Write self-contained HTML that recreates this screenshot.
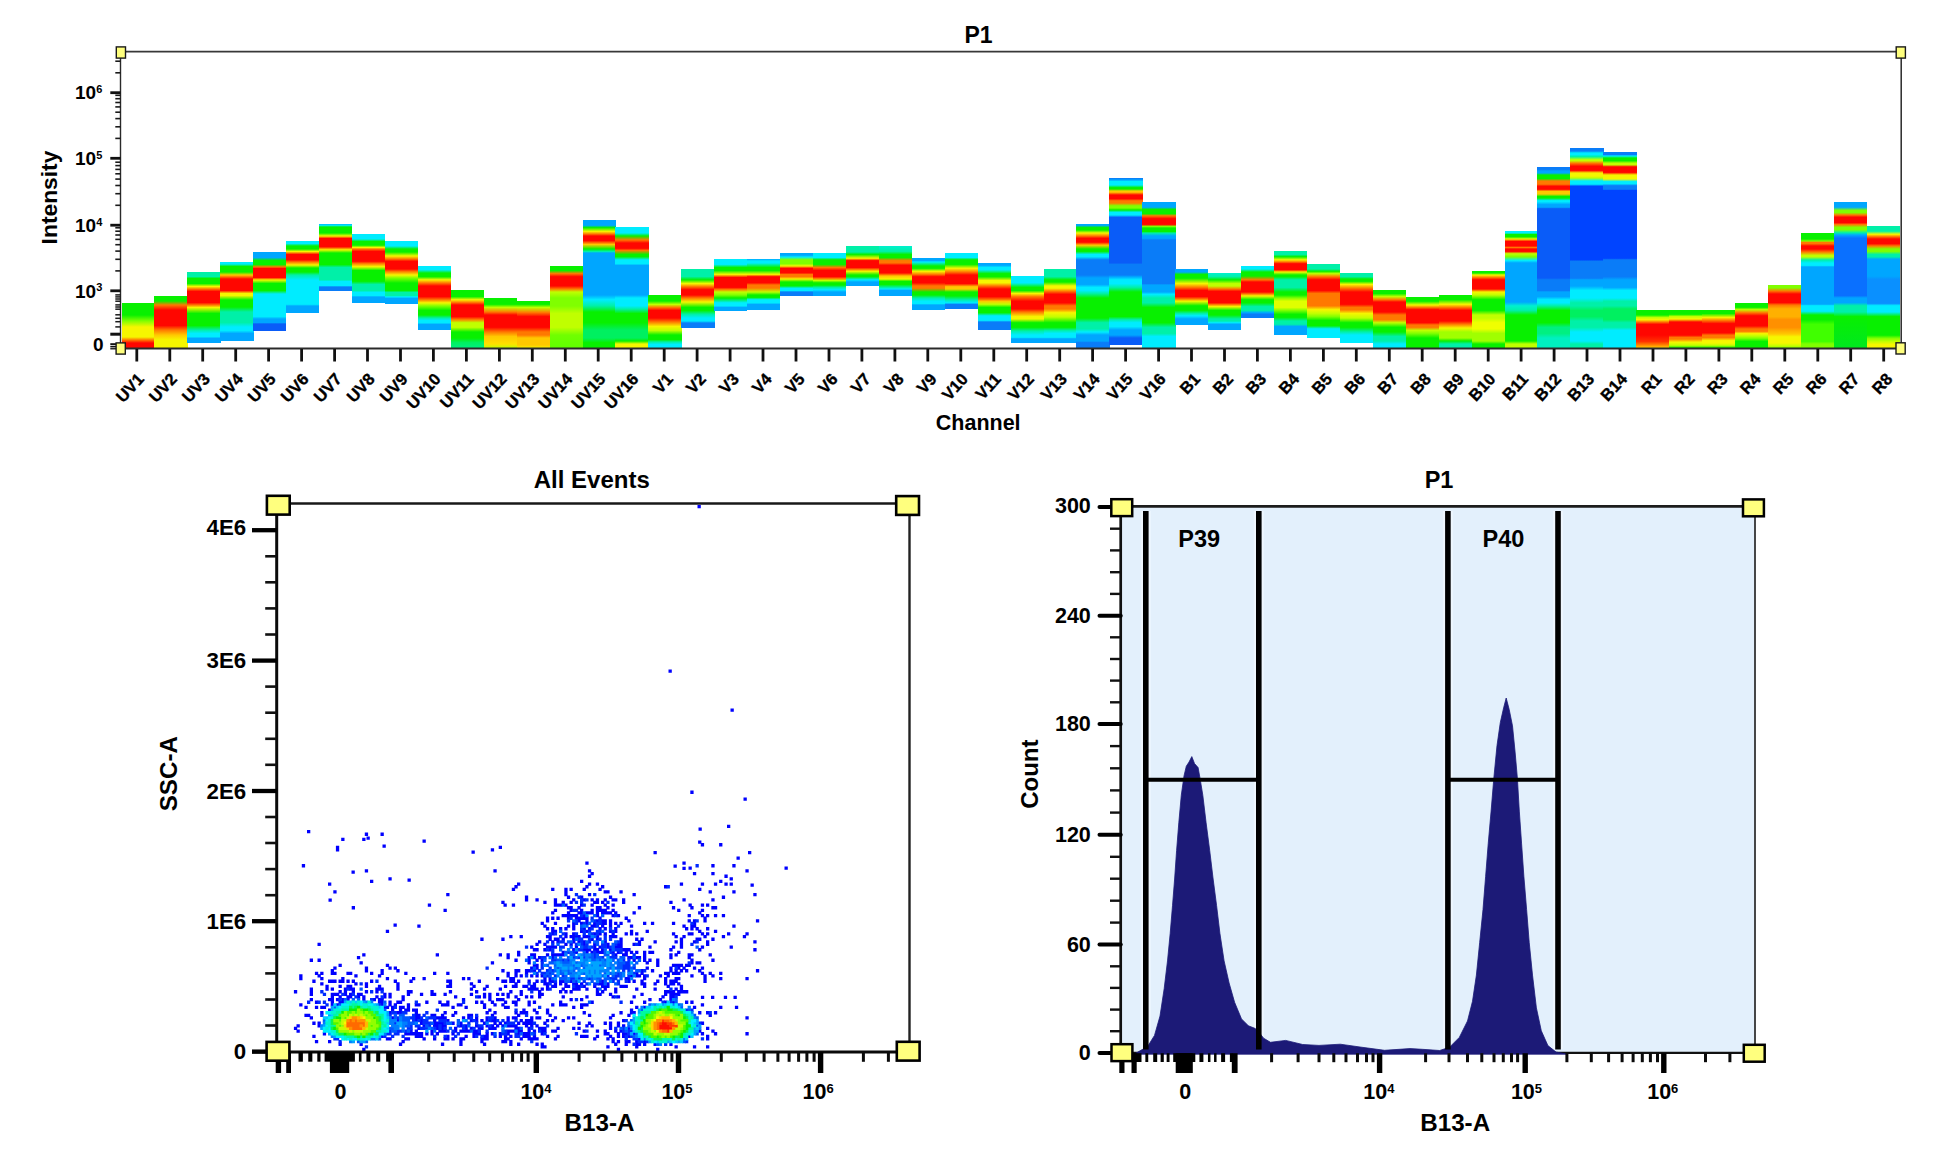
<!DOCTYPE html>
<html lang="en"><head><meta charset="utf-8"><title>Flow cytometry plots</title>
<style>html,body{margin:0;padding:0;background:#fff}body{width:1956px;height:1160px;overflow:hidden}</style></head>
<body>
<svg width="1956" height="1160" viewBox="0 0 1956 1160" style="display:block;font-family:'Liberation Sans',Arial,sans-serif;font-weight:bold">
<rect width="1956" height="1160" fill="#fff"/>
<defs>
<linearGradient id="g0" gradientUnits="userSpaceOnUse" x1="0" y1="302.8" x2="0" y2="348"><stop offset="0.0000" stop-color="#08f000"/><stop offset="0.2699" stop-color="#08f000"/><stop offset="0.4027" stop-color="#80ff00"/><stop offset="0.5354" stop-color="#f6f600"/><stop offset="0.7566" stop-color="#f6f600"/><stop offset="0.8230" stop-color="#ff7800"/><stop offset="0.8894" stop-color="#ff0600"/><stop offset="1.0000" stop-color="#ff0600"/></linearGradient>
<linearGradient id="g1" gradientUnits="userSpaceOnUse" x1="0" y1="295.9" x2="0" y2="348"><stop offset="0.0000" stop-color="#08f000"/><stop offset="0.0979" stop-color="#08f000"/><stop offset="0.1747" stop-color="#ff7800"/><stop offset="0.2706" stop-color="#ff0600"/><stop offset="0.5681" stop-color="#ff0600"/><stop offset="0.6545" stop-color="#ff7800"/><stop offset="0.7505" stop-color="#ffc800"/><stop offset="0.8464" stop-color="#f6f600"/><stop offset="1.0000" stop-color="#f6f600"/></linearGradient>
<linearGradient id="g2" gradientUnits="userSpaceOnUse" x1="0" y1="272.4" x2="0" y2="343.4"><stop offset="0.0000" stop-color="#00f0a8"/><stop offset="0.0577" stop-color="#00f0a8"/><stop offset="0.0859" stop-color="#08f000"/><stop offset="0.1563" stop-color="#08f000"/><stop offset="0.1986" stop-color="#f6f600"/><stop offset="0.2338" stop-color="#ff7800"/><stop offset="0.2690" stop-color="#ff0600"/><stop offset="0.4239" stop-color="#ff0600"/><stop offset="0.4592" stop-color="#ff7800"/><stop offset="0.4944" stop-color="#f6f600"/><stop offset="0.5789" stop-color="#08f000"/><stop offset="0.7479" stop-color="#08f000"/><stop offset="0.8113" stop-color="#00f0a8"/><stop offset="0.8606" stop-color="#00ecff"/><stop offset="0.9028" stop-color="#00ecff"/><stop offset="0.9310" stop-color="#00a6ff"/><stop offset="1.0000" stop-color="#00a6ff"/></linearGradient>
<linearGradient id="g3" gradientUnits="userSpaceOnUse" x1="0" y1="262" x2="0" y2="341"><stop offset="0.0000" stop-color="#00ecff"/><stop offset="0.0253" stop-color="#00ecff"/><stop offset="0.0570" stop-color="#08f000"/><stop offset="0.1266" stop-color="#08f000"/><stop offset="0.1646" stop-color="#ffc800"/><stop offset="0.2152" stop-color="#ff0600"/><stop offset="0.3608" stop-color="#ff0600"/><stop offset="0.3987" stop-color="#f6f600"/><stop offset="0.4241" stop-color="#f6f600"/><stop offset="0.4810" stop-color="#08f000"/><stop offset="0.5696" stop-color="#08f000"/><stop offset="0.6329" stop-color="#00f0a8"/><stop offset="0.7658" stop-color="#00f0a8"/><stop offset="0.8228" stop-color="#00ecff"/><stop offset="0.8671" stop-color="#00ecff"/><stop offset="0.9051" stop-color="#00a6ff"/><stop offset="1.0000" stop-color="#00a6ff"/></linearGradient>
<linearGradient id="g4" gradientUnits="userSpaceOnUse" x1="0" y1="252" x2="0" y2="331"><stop offset="0.0000" stop-color="#00a6ff"/><stop offset="0.0696" stop-color="#00a6ff"/><stop offset="0.1076" stop-color="#08f000"/><stop offset="0.1582" stop-color="#08f000"/><stop offset="0.1899" stop-color="#ff7800"/><stop offset="0.2089" stop-color="#ff0600"/><stop offset="0.3228" stop-color="#ff0600"/><stop offset="0.3544" stop-color="#f6f600"/><stop offset="0.3987" stop-color="#08f000"/><stop offset="0.4873" stop-color="#08f000"/><stop offset="0.5316" stop-color="#00ecff"/><stop offset="0.8165" stop-color="#00ecff"/><stop offset="0.8481" stop-color="#00a6ff"/><stop offset="0.8924" stop-color="#00a6ff"/><stop offset="0.9114" stop-color="#0a5cf8"/><stop offset="1.0000" stop-color="#0a5cf8"/></linearGradient>
<linearGradient id="g5" gradientUnits="userSpaceOnUse" x1="0" y1="240.6" x2="0" y2="312.7"><stop offset="0.0000" stop-color="#00ecff"/><stop offset="0.0402" stop-color="#00ecff"/><stop offset="0.0749" stop-color="#08f000"/><stop offset="0.1165" stop-color="#08f000"/><stop offset="0.1512" stop-color="#f6f600"/><stop offset="0.1928" stop-color="#ff0600"/><stop offset="0.2663" stop-color="#ff0600"/><stop offset="0.2968" stop-color="#ff7800"/><stop offset="0.3384" stop-color="#f6f600"/><stop offset="0.3800" stop-color="#08f000"/><stop offset="0.4355" stop-color="#08f000"/><stop offset="0.4771" stop-color="#00f0a8"/><stop offset="0.5465" stop-color="#00ecff"/><stop offset="0.8835" stop-color="#00ecff"/><stop offset="0.9071" stop-color="#00a6ff"/><stop offset="1.0000" stop-color="#00a6ff"/></linearGradient>
<linearGradient id="g6" gradientUnits="userSpaceOnUse" x1="0" y1="223.8" x2="0" y2="290.5"><stop offset="0.0000" stop-color="#00a6ff"/><stop offset="0.0225" stop-color="#00ecff"/><stop offset="0.0480" stop-color="#08f000"/><stop offset="0.1379" stop-color="#08f000"/><stop offset="0.1829" stop-color="#f6f600"/><stop offset="0.2204" stop-color="#ff0600"/><stop offset="0.3448" stop-color="#ff0600"/><stop offset="0.3898" stop-color="#f6f600"/><stop offset="0.4378" stop-color="#08f000"/><stop offset="0.6102" stop-color="#08f000"/><stop offset="0.6552" stop-color="#00f0a8"/><stop offset="0.8396" stop-color="#00f0a8"/><stop offset="0.8651" stop-color="#00ecff"/><stop offset="0.9250" stop-color="#00ecff"/><stop offset="0.9475" stop-color="#0a7cf8"/><stop offset="1.0000" stop-color="#0a7cf8"/></linearGradient>
<linearGradient id="g7" gradientUnits="userSpaceOnUse" x1="0" y1="234" x2="0" y2="302.8"><stop offset="0.0000" stop-color="#00ecff"/><stop offset="0.0727" stop-color="#00ecff"/><stop offset="0.1090" stop-color="#08f000"/><stop offset="0.1628" stop-color="#08f000"/><stop offset="0.1962" stop-color="#f6f600"/><stop offset="0.2180" stop-color="#ff7800"/><stop offset="0.2544" stop-color="#ff0600"/><stop offset="0.3968" stop-color="#ff0600"/><stop offset="0.4288" stop-color="#ff7800"/><stop offset="0.4753" stop-color="#f6f600"/><stop offset="0.5305" stop-color="#08f000"/><stop offset="0.6875" stop-color="#08f000"/><stop offset="0.7340" stop-color="#00f0a8"/><stop offset="0.8212" stop-color="#00f0a8"/><stop offset="0.8503" stop-color="#00ecff"/><stop offset="0.8939" stop-color="#00ecff"/><stop offset="0.9157" stop-color="#00a6ff"/><stop offset="1.0000" stop-color="#00a6ff"/></linearGradient>
<linearGradient id="g8" gradientUnits="userSpaceOnUse" x1="0" y1="240.6" x2="0" y2="304.3"><stop offset="0.0000" stop-color="#00ecff"/><stop offset="0.0848" stop-color="#00ecff"/><stop offset="0.1319" stop-color="#08f000"/><stop offset="0.1790" stop-color="#08f000"/><stop offset="0.2418" stop-color="#f6f600"/><stop offset="0.2889" stop-color="#ff7800"/><stop offset="0.3250" stop-color="#ff0600"/><stop offset="0.4458" stop-color="#ff0600"/><stop offset="0.4851" stop-color="#ff7800"/><stop offset="0.5400" stop-color="#f6f600"/><stop offset="0.5871" stop-color="#80ff00"/><stop offset="0.6656" stop-color="#08f000"/><stop offset="0.7834" stop-color="#08f000"/><stop offset="0.8148" stop-color="#00f0a8"/><stop offset="0.8619" stop-color="#00f0a8"/><stop offset="0.8823" stop-color="#00ecff"/><stop offset="0.9089" stop-color="#00a6ff"/><stop offset="1.0000" stop-color="#00a6ff"/></linearGradient>
<linearGradient id="g9" gradientUnits="userSpaceOnUse" x1="0" y1="266" x2="0" y2="329.6"><stop offset="0.0000" stop-color="#00ecff"/><stop offset="0.0597" stop-color="#00ecff"/><stop offset="0.1101" stop-color="#08f000"/><stop offset="0.1682" stop-color="#08f000"/><stop offset="0.2170" stop-color="#f6f600"/><stop offset="0.2673" stop-color="#ff7800"/><stop offset="0.3145" stop-color="#ff0600"/><stop offset="0.4811" stop-color="#ff0600"/><stop offset="0.5299" stop-color="#ff7800"/><stop offset="0.5786" stop-color="#f6f600"/><stop offset="0.6289" stop-color="#80ff00"/><stop offset="0.6981" stop-color="#08f000"/><stop offset="0.7704" stop-color="#08f000"/><stop offset="0.8176" stop-color="#00f0a8"/><stop offset="0.8569" stop-color="#00ecff"/><stop offset="0.8915" stop-color="#00ecff"/><stop offset="0.9198" stop-color="#00a6ff"/><stop offset="1.0000" stop-color="#00a6ff"/></linearGradient>
<linearGradient id="g10" gradientUnits="userSpaceOnUse" x1="0" y1="289.7" x2="0" y2="348"><stop offset="0.0000" stop-color="#08f000"/><stop offset="0.1184" stop-color="#08f000"/><stop offset="0.1715" stop-color="#f6f600"/><stop offset="0.2196" stop-color="#ff7800"/><stop offset="0.2624" stop-color="#ff0600"/><stop offset="0.4614" stop-color="#ff0600"/><stop offset="0.5111" stop-color="#ff7800"/><stop offset="0.5660" stop-color="#c0ff00"/><stop offset="0.6449" stop-color="#c0ff00"/><stop offset="0.7256" stop-color="#08f000"/><stop offset="0.8285" stop-color="#08f000"/><stop offset="0.9057" stop-color="#00f060"/><stop offset="1.0000" stop-color="#00f080"/></linearGradient>
<linearGradient id="g11" gradientUnits="userSpaceOnUse" x1="0" y1="297.9" x2="0" y2="348"><stop offset="0.0000" stop-color="#08f000"/><stop offset="0.1277" stop-color="#08f000"/><stop offset="0.1896" stop-color="#c0ff00"/><stop offset="0.2814" stop-color="#ff7800"/><stop offset="0.3413" stop-color="#ff0600"/><stop offset="0.5868" stop-color="#ff0600"/><stop offset="0.6806" stop-color="#ff7800"/><stop offset="0.7705" stop-color="#ffc800"/><stop offset="0.9202" stop-color="#ffe000"/><stop offset="1.0000" stop-color="#c0ff00"/></linearGradient>
<linearGradient id="g12" gradientUnits="userSpaceOnUse" x1="0" y1="301.2" x2="0" y2="348"><stop offset="0.0000" stop-color="#08f000"/><stop offset="0.0662" stop-color="#08f000"/><stop offset="0.1346" stop-color="#c0ff00"/><stop offset="0.2415" stop-color="#ff7800"/><stop offset="0.3291" stop-color="#ff0600"/><stop offset="0.5577" stop-color="#ff0600"/><stop offset="0.6581" stop-color="#ff7800"/><stop offset="0.7222" stop-color="#ff7800"/><stop offset="0.7863" stop-color="#ffc800"/><stop offset="0.9359" stop-color="#ffc800"/><stop offset="1.0000" stop-color="#f6f600"/></linearGradient>
<linearGradient id="g13" gradientUnits="userSpaceOnUse" x1="0" y1="266" x2="0" y2="348"><stop offset="0.0000" stop-color="#08f000"/><stop offset="0.0549" stop-color="#08f000"/><stop offset="0.0927" stop-color="#ff7800"/><stop offset="0.1305" stop-color="#ff0600"/><stop offset="0.2427" stop-color="#ff0600"/><stop offset="0.2805" stop-color="#ff7800"/><stop offset="0.3171" stop-color="#c0ff00"/><stop offset="0.3902" stop-color="#80ff00"/><stop offset="0.4878" stop-color="#80ff00"/><stop offset="0.5793" stop-color="#c0ff00"/><stop offset="0.7476" stop-color="#c0ff00"/><stop offset="0.8415" stop-color="#70ff00"/><stop offset="1.0000" stop-color="#60ff00"/></linearGradient>
<linearGradient id="g14" gradientUnits="userSpaceOnUse" x1="0" y1="220.4" x2="0" y2="348"><stop offset="0.0000" stop-color="#00a6ff"/><stop offset="0.0384" stop-color="#00a6ff"/><stop offset="0.0564" stop-color="#08f000"/><stop offset="0.0862" stop-color="#f6f600"/><stop offset="0.1066" stop-color="#ff7800"/><stop offset="0.1223" stop-color="#ff0600"/><stop offset="0.1583" stop-color="#ff0600"/><stop offset="0.1889" stop-color="#ffc800"/><stop offset="0.2241" stop-color="#08f000"/><stop offset="0.2437" stop-color="#00f0a8"/><stop offset="0.2555" stop-color="#00a6ff"/><stop offset="0.5846" stop-color="#00a6ff"/><stop offset="0.6215" stop-color="#00ecff"/><stop offset="0.6693" stop-color="#00f0a8"/><stop offset="0.7179" stop-color="#08f000"/><stop offset="0.8017" stop-color="#08f000"/><stop offset="0.8589" stop-color="#00f060"/><stop offset="0.9216" stop-color="#00f060"/><stop offset="0.9577" stop-color="#08f000"/><stop offset="1.0000" stop-color="#08f000"/></linearGradient>
<linearGradient id="g15" gradientUnits="userSpaceOnUse" x1="0" y1="227.3" x2="0" y2="348"><stop offset="0.0000" stop-color="#00ecff"/><stop offset="0.0472" stop-color="#00ecff"/><stop offset="0.0721" stop-color="#08f000"/><stop offset="0.1052" stop-color="#ff7800"/><stop offset="0.1301" stop-color="#ff0600"/><stop offset="0.1740" stop-color="#ff0600"/><stop offset="0.1922" stop-color="#ff7800"/><stop offset="0.2245" stop-color="#08f000"/><stop offset="0.2436" stop-color="#08f000"/><stop offset="0.2693" stop-color="#00ecff"/><stop offset="0.3016" stop-color="#00ecff"/><stop offset="0.3165" stop-color="#00a6ff"/><stop offset="0.5609" stop-color="#00a6ff"/><stop offset="0.5857" stop-color="#00ecff"/><stop offset="0.6504" stop-color="#00ecff"/><stop offset="0.6769" stop-color="#00f0a8"/><stop offset="0.7142" stop-color="#08f000"/><stop offset="0.7904" stop-color="#08f000"/><stop offset="0.8509" stop-color="#00f060"/><stop offset="0.9171" stop-color="#00f060"/><stop offset="0.9420" stop-color="#08f000"/><stop offset="0.9669" stop-color="#f6f600"/><stop offset="1.0000" stop-color="#f6f600"/></linearGradient>
<linearGradient id="g16" gradientUnits="userSpaceOnUse" x1="0" y1="294.8" x2="0" y2="348"><stop offset="0.0000" stop-color="#08f000"/><stop offset="0.1165" stop-color="#08f000"/><stop offset="0.1823" stop-color="#c0ff00"/><stop offset="0.2368" stop-color="#ff7800"/><stop offset="0.2932" stop-color="#ff0600"/><stop offset="0.4361" stop-color="#ff0600"/><stop offset="0.5113" stop-color="#ff7800"/><stop offset="0.5959" stop-color="#f6f600"/><stop offset="0.6711" stop-color="#c0ff00"/><stop offset="0.7556" stop-color="#08f000"/><stop offset="0.8421" stop-color="#08f000"/><stop offset="0.8872" stop-color="#00f0a8"/><stop offset="0.9342" stop-color="#00ecff"/><stop offset="1.0000" stop-color="#00ecff"/></linearGradient>
<linearGradient id="g17" gradientUnits="userSpaceOnUse" x1="0" y1="269.3" x2="0" y2="328"><stop offset="0.0000" stop-color="#00f0a8"/><stop offset="0.1227" stop-color="#00f0a8"/><stop offset="0.1789" stop-color="#08f000"/><stop offset="0.2436" stop-color="#f6f600"/><stop offset="0.2947" stop-color="#ff7800"/><stop offset="0.3475" stop-color="#ff0600"/><stop offset="0.4378" stop-color="#ff0600"/><stop offset="0.4889" stop-color="#ff7800"/><stop offset="0.5571" stop-color="#f6f600"/><stop offset="0.6491" stop-color="#08f000"/><stop offset="0.7002" stop-color="#08f000"/><stop offset="0.7666" stop-color="#00f0a8"/><stop offset="0.8296" stop-color="#00ecff"/><stop offset="0.8807" stop-color="#00ecff"/><stop offset="0.9148" stop-color="#0a7cf8"/><stop offset="1.0000" stop-color="#0a7cf8"/></linearGradient>
<linearGradient id="g18" gradientUnits="userSpaceOnUse" x1="0" y1="259" x2="0" y2="311.2"><stop offset="0.0000" stop-color="#00ecff"/><stop offset="0.1034" stop-color="#00ecff"/><stop offset="0.1628" stop-color="#08f000"/><stop offset="0.2203" stop-color="#08f000"/><stop offset="0.2950" stop-color="#f6f600"/><stop offset="0.3544" stop-color="#ff0600"/><stop offset="0.5441" stop-color="#ff0600"/><stop offset="0.5843" stop-color="#ff7800"/><stop offset="0.6322" stop-color="#c0ff00"/><stop offset="0.6897" stop-color="#80ff00"/><stop offset="0.7471" stop-color="#08f000"/><stop offset="0.8391" stop-color="#00ecff"/><stop offset="0.8966" stop-color="#00ecff"/><stop offset="0.9291" stop-color="#00a6ff"/><stop offset="1.0000" stop-color="#00a6ff"/></linearGradient>
<linearGradient id="g19" gradientUnits="userSpaceOnUse" x1="0" y1="259" x2="0" y2="309.7"><stop offset="0.0000" stop-color="#00a6ff"/><stop offset="0.0394" stop-color="#00ecff"/><stop offset="0.0789" stop-color="#00ecff"/><stop offset="0.1085" stop-color="#00f0a8"/><stop offset="0.1677" stop-color="#08f000"/><stop offset="0.2268" stop-color="#08f000"/><stop offset="0.3037" stop-color="#f6f600"/><stop offset="0.3491" stop-color="#ff0600"/><stop offset="0.4694" stop-color="#ff0600"/><stop offset="0.5128" stop-color="#ff7800"/><stop offset="0.5720" stop-color="#ff7800"/><stop offset="0.6509" stop-color="#c0ff00"/><stop offset="0.7101" stop-color="#08f000"/><stop offset="0.7574" stop-color="#08f000"/><stop offset="0.8028" stop-color="#00ecff"/><stop offset="0.8639" stop-color="#00ecff"/><stop offset="0.8974" stop-color="#00a6ff"/><stop offset="1.0000" stop-color="#00a6ff"/></linearGradient>
<linearGradient id="g20" gradientUnits="userSpaceOnUse" x1="0" y1="252.5" x2="0" y2="295.9"><stop offset="0.0000" stop-color="#00a6ff"/><stop offset="0.0622" stop-color="#00a6ff"/><stop offset="0.1037" stop-color="#00ecff"/><stop offset="0.1682" stop-color="#80ff00"/><stop offset="0.2581" stop-color="#80ff00"/><stop offset="0.3111" stop-color="#f6f600"/><stop offset="0.3641" stop-color="#ff0600"/><stop offset="0.4700" stop-color="#ff0600"/><stop offset="0.5046" stop-color="#ff7800"/><stop offset="0.5576" stop-color="#ff7800"/><stop offset="0.6106" stop-color="#f6f600"/><stop offset="0.6797" stop-color="#08f000"/><stop offset="0.7696" stop-color="#08f000"/><stop offset="0.8226" stop-color="#00ecff"/><stop offset="0.8756" stop-color="#00ecff"/><stop offset="0.9101" stop-color="#0a7cf8"/><stop offset="1.0000" stop-color="#0a7cf8"/></linearGradient>
<linearGradient id="g21" gradientUnits="userSpaceOnUse" x1="0" y1="252.5" x2="0" y2="295.9"><stop offset="0.0000" stop-color="#00ecff"/><stop offset="0.1152" stop-color="#00ecff"/><stop offset="0.1682" stop-color="#08f000"/><stop offset="0.2742" stop-color="#08f000"/><stop offset="0.3456" stop-color="#ff7800"/><stop offset="0.4147" stop-color="#ff0600"/><stop offset="0.5576" stop-color="#ff0600"/><stop offset="0.5991" stop-color="#ff7800"/><stop offset="0.6452" stop-color="#c0ff00"/><stop offset="0.6982" stop-color="#08f000"/><stop offset="0.7512" stop-color="#08f000"/><stop offset="0.8041" stop-color="#00f0a8"/><stop offset="0.8571" stop-color="#00ecff"/><stop offset="0.9101" stop-color="#00a6ff"/><stop offset="1.0000" stop-color="#00a6ff"/></linearGradient>
<linearGradient id="g22" gradientUnits="userSpaceOnUse" x1="0" y1="245.7" x2="0" y2="285.6"><stop offset="0.0000" stop-color="#00f0a8"/><stop offset="0.1579" stop-color="#00f0a8"/><stop offset="0.2180" stop-color="#08f000"/><stop offset="0.3158" stop-color="#f6f600"/><stop offset="0.3734" stop-color="#ff0600"/><stop offset="0.5464" stop-color="#ff0600"/><stop offset="0.6416" stop-color="#f6f600"/><stop offset="0.7343" stop-color="#08f000"/><stop offset="0.7769" stop-color="#08f000"/><stop offset="0.8546" stop-color="#00ecff"/><stop offset="0.9098" stop-color="#00a6ff"/><stop offset="1.0000" stop-color="#00a6ff"/></linearGradient>
<linearGradient id="g23" gradientUnits="userSpaceOnUse" x1="0" y1="245.7" x2="0" y2="295.9"><stop offset="0.0000" stop-color="#00f0d0"/><stop offset="0.1135" stop-color="#00f0a8"/><stop offset="0.1753" stop-color="#08f000"/><stop offset="0.2351" stop-color="#08f000"/><stop offset="0.2968" stop-color="#ff7800"/><stop offset="0.3426" stop-color="#ff7800"/><stop offset="0.3884" stop-color="#ff0600"/><stop offset="0.5418" stop-color="#ff0600"/><stop offset="0.6036" stop-color="#ffc800"/><stop offset="0.6633" stop-color="#f6f600"/><stop offset="0.7092" stop-color="#08f000"/><stop offset="0.7709" stop-color="#08f000"/><stop offset="0.8307" stop-color="#00f0a8"/><stop offset="0.8625" stop-color="#00ecff"/><stop offset="0.8924" stop-color="#00a6ff"/><stop offset="1.0000" stop-color="#00a6ff"/></linearGradient>
<linearGradient id="g24" gradientUnits="userSpaceOnUse" x1="0" y1="257.5" x2="0" y2="309.7"><stop offset="0.0000" stop-color="#00a6ff"/><stop offset="0.0575" stop-color="#00a6ff"/><stop offset="0.0862" stop-color="#00ecff"/><stop offset="0.1628" stop-color="#08f000"/><stop offset="0.2069" stop-color="#08f000"/><stop offset="0.2644" stop-color="#f6f600"/><stop offset="0.3238" stop-color="#ff7800"/><stop offset="0.3678" stop-color="#ff0600"/><stop offset="0.4847" stop-color="#ff0600"/><stop offset="0.5441" stop-color="#ff7800"/><stop offset="0.5881" stop-color="#ff7800"/><stop offset="0.6609" stop-color="#08f000"/><stop offset="0.7184" stop-color="#08f000"/><stop offset="0.7759" stop-color="#00f0a8"/><stop offset="0.8372" stop-color="#00ecff"/><stop offset="0.8812" stop-color="#00ecff"/><stop offset="0.9100" stop-color="#00a6ff"/><stop offset="1.0000" stop-color="#00a6ff"/></linearGradient>
<linearGradient id="g25" gradientUnits="userSpaceOnUse" x1="0" y1="252.5" x2="0" y2="309.2"><stop offset="0.0000" stop-color="#00ecff"/><stop offset="0.0882" stop-color="#00ecff"/><stop offset="0.1287" stop-color="#08f000"/><stop offset="0.2099" stop-color="#08f000"/><stop offset="0.2787" stop-color="#f6f600"/><stop offset="0.3439" stop-color="#ff7800"/><stop offset="0.3968" stop-color="#ff0600"/><stop offset="0.5485" stop-color="#ff0600"/><stop offset="0.6032" stop-color="#ffc800"/><stop offset="0.6437" stop-color="#ffc800"/><stop offset="0.6966" stop-color="#08f000"/><stop offset="0.7654" stop-color="#08f000"/><stop offset="0.8325" stop-color="#00f0a8"/><stop offset="0.8871" stop-color="#00ecff"/><stop offset="0.9171" stop-color="#0a7cf8"/><stop offset="1.0000" stop-color="#0a7cf8"/></linearGradient>
<linearGradient id="g26" gradientUnits="userSpaceOnUse" x1="0" y1="262.6" x2="0" y2="329.6"><stop offset="0.0000" stop-color="#00a6ff"/><stop offset="0.0388" stop-color="#00a6ff"/><stop offset="0.0731" stop-color="#00ecff"/><stop offset="0.1075" stop-color="#00ecff"/><stop offset="0.1642" stop-color="#08f000"/><stop offset="0.2104" stop-color="#08f000"/><stop offset="0.2672" stop-color="#f6f600"/><stop offset="0.3015" stop-color="#f6f600"/><stop offset="0.3478" stop-color="#ff7800"/><stop offset="0.3940" stop-color="#ff0600"/><stop offset="0.5075" stop-color="#ff0600"/><stop offset="0.5537" stop-color="#ff7800"/><stop offset="0.5761" stop-color="#ffc800"/><stop offset="0.6224" stop-color="#c0ff00"/><stop offset="0.6687" stop-color="#08f000"/><stop offset="0.7478" stop-color="#08f000"/><stop offset="0.7940" stop-color="#00ecff"/><stop offset="0.8627" stop-color="#00ecff"/><stop offset="0.8866" stop-color="#0a7cf8"/><stop offset="1.0000" stop-color="#0a7cf8"/></linearGradient>
<linearGradient id="g27" gradientUnits="userSpaceOnUse" x1="0" y1="276" x2="0" y2="343"><stop offset="0.0000" stop-color="#00ecff"/><stop offset="0.1015" stop-color="#00ecff"/><stop offset="0.1254" stop-color="#00f0a8"/><stop offset="0.1701" stop-color="#08f000"/><stop offset="0.2164" stop-color="#08f000"/><stop offset="0.2612" stop-color="#f6f600"/><stop offset="0.3075" stop-color="#ff7800"/><stop offset="0.3761" stop-color="#ff0600"/><stop offset="0.4910" stop-color="#ff0600"/><stop offset="0.5373" stop-color="#ff7800"/><stop offset="0.6060" stop-color="#f6f600"/><stop offset="0.6403" stop-color="#f6f600"/><stop offset="0.6970" stop-color="#08f000"/><stop offset="0.7657" stop-color="#08f000"/><stop offset="0.8209" stop-color="#00f0a8"/><stop offset="0.8806" stop-color="#00ecff"/><stop offset="0.9149" stop-color="#00ecff"/><stop offset="0.9373" stop-color="#00a6ff"/><stop offset="1.0000" stop-color="#00a6ff"/></linearGradient>
<linearGradient id="g28" gradientUnits="userSpaceOnUse" x1="0" y1="269.3" x2="0" y2="343"><stop offset="0.0000" stop-color="#00f0a8"/><stop offset="0.1004" stop-color="#00f0a8"/><stop offset="0.1425" stop-color="#08f000"/><stop offset="0.1723" stop-color="#08f000"/><stop offset="0.2252" stop-color="#f6f600"/><stop offset="0.2564" stop-color="#f6f600"/><stop offset="0.2985" stop-color="#ff7800"/><stop offset="0.3392" stop-color="#ff0600"/><stop offset="0.4545" stop-color="#ff0600"/><stop offset="0.4953" stop-color="#ff7800"/><stop offset="0.5373" stop-color="#ff7800"/><stop offset="0.5889" stop-color="#f6f600"/><stop offset="0.6472" stop-color="#c0ff00"/><stop offset="0.7246" stop-color="#08f000"/><stop offset="0.7870" stop-color="#08f000"/><stop offset="0.8290" stop-color="#00f0a8"/><stop offset="0.8697" stop-color="#00ecff"/><stop offset="0.9227" stop-color="#00ecff"/><stop offset="0.9430" stop-color="#00a6ff"/><stop offset="1.0000" stop-color="#00a6ff"/></linearGradient>
<linearGradient id="g29" gradientUnits="userSpaceOnUse" x1="0" y1="223.8" x2="0" y2="348"><stop offset="0.0000" stop-color="#00a6ff"/><stop offset="0.0121" stop-color="#00a6ff"/><stop offset="0.0306" stop-color="#08f000"/><stop offset="0.0499" stop-color="#08f000"/><stop offset="0.0741" stop-color="#f6f600"/><stop offset="0.0982" stop-color="#ff7800"/><stop offset="0.1167" stop-color="#ff0600"/><stop offset="0.1481" stop-color="#ff0600"/><stop offset="0.1723" stop-color="#ffc800"/><stop offset="0.2029" stop-color="#08f000"/><stop offset="0.2222" stop-color="#08f000"/><stop offset="0.2464" stop-color="#00ecff"/><stop offset="0.2649" stop-color="#00ecff"/><stop offset="0.2899" stop-color="#0a7cf8"/><stop offset="0.4122" stop-color="#0a7cf8"/><stop offset="0.4364" stop-color="#00a6ff"/><stop offset="0.4879" stop-color="#00a6ff"/><stop offset="0.5121" stop-color="#00ecff"/><stop offset="0.5370" stop-color="#00ecff"/><stop offset="0.5612" stop-color="#00f0a8"/><stop offset="0.5974" stop-color="#08f000"/><stop offset="0.7585" stop-color="#08f000"/><stop offset="0.7963" stop-color="#00f0a8"/><stop offset="0.8454" stop-color="#00f0a8"/><stop offset="0.8712" stop-color="#00ecff"/><stop offset="0.8953" stop-color="#00a6ff"/><stop offset="0.9436" stop-color="#00a6ff"/><stop offset="0.9565" stop-color="#0a7cf8"/><stop offset="1.0000" stop-color="#0a7cf8"/></linearGradient>
<linearGradient id="g30" gradientUnits="userSpaceOnUse" x1="0" y1="178.3" x2="0" y2="344.5"><stop offset="0.0000" stop-color="#0a7cf8"/><stop offset="0.0102" stop-color="#00a6ff"/><stop offset="0.0193" stop-color="#00ecff"/><stop offset="0.0403" stop-color="#00ecff"/><stop offset="0.0560" stop-color="#08f000"/><stop offset="0.0644" stop-color="#08f000"/><stop offset="0.0764" stop-color="#ffc800"/><stop offset="0.0836" stop-color="#ffc800"/><stop offset="0.1005" stop-color="#ff0600"/><stop offset="0.1227" stop-color="#ff0600"/><stop offset="0.1354" stop-color="#ff7800"/><stop offset="0.1486" stop-color="#ff7800"/><stop offset="0.1655" stop-color="#80ff00"/><stop offset="0.1787" stop-color="#80ff00"/><stop offset="0.1907" stop-color="#08f000"/><stop offset="0.2046" stop-color="#00ecff"/><stop offset="0.2208" stop-color="#00ecff"/><stop offset="0.2347" stop-color="#0a5cf8"/><stop offset="0.5090" stop-color="#0a5cf8"/><stop offset="0.5181" stop-color="#0a7cf8"/><stop offset="0.5818" stop-color="#0a7cf8"/><stop offset="0.5921" stop-color="#00a6ff"/><stop offset="0.6107" stop-color="#00ecff"/><stop offset="0.6336" stop-color="#00ecff"/><stop offset="0.6564" stop-color="#00f0a8"/><stop offset="0.6841" stop-color="#08f000"/><stop offset="0.8321" stop-color="#08f000"/><stop offset="0.8502" stop-color="#00f0a8"/><stop offset="0.8688" stop-color="#00ecff"/><stop offset="0.8917" stop-color="#00ecff"/><stop offset="0.9128" stop-color="#00a6ff"/><stop offset="0.9428" stop-color="#00a6ff"/><stop offset="0.9609" stop-color="#0a5cf8"/><stop offset="1.0000" stop-color="#0a5cf8"/></linearGradient>
<linearGradient id="g31" gradientUnits="userSpaceOnUse" x1="0" y1="202.2" x2="0" y2="348"><stop offset="0.0000" stop-color="#00a6ff"/><stop offset="0.0343" stop-color="#00a6ff"/><stop offset="0.0494" stop-color="#08f000"/><stop offset="0.0789" stop-color="#08f000"/><stop offset="0.0933" stop-color="#ff7800"/><stop offset="0.1132" stop-color="#ff0600"/><stop offset="0.1523" stop-color="#ff0600"/><stop offset="0.1667" stop-color="#80ff00"/><stop offset="0.1770" stop-color="#08f000"/><stop offset="0.2016" stop-color="#08f000"/><stop offset="0.2112" stop-color="#00f0a8"/><stop offset="0.2311" stop-color="#00a6ff"/><stop offset="0.2476" stop-color="#00a6ff"/><stop offset="0.2586" stop-color="#0a7cf8"/><stop offset="0.5583" stop-color="#0a7cf8"/><stop offset="0.5679" stop-color="#00a6ff"/><stop offset="0.6159" stop-color="#00a6ff"/><stop offset="0.6317" stop-color="#00ecff"/><stop offset="0.6571" stop-color="#00f0a8"/><stop offset="0.6900" stop-color="#00f0a8"/><stop offset="0.7215" stop-color="#08f000"/><stop offset="0.8265" stop-color="#08f000"/><stop offset="0.8580" stop-color="#00f0a8"/><stop offset="0.8999" stop-color="#00f0a8"/><stop offset="0.9211" stop-color="#00ecff"/><stop offset="1.0000" stop-color="#00ecff"/></linearGradient>
<linearGradient id="g32" gradientUnits="userSpaceOnUse" x1="0" y1="269.3" x2="0" y2="324.5"><stop offset="0.0000" stop-color="#00a6ff"/><stop offset="0.0489" stop-color="#00a6ff"/><stop offset="0.0924" stop-color="#08f000"/><stop offset="0.1612" stop-color="#08f000"/><stop offset="0.2591" stop-color="#f6f600"/><stop offset="0.3279" stop-color="#ff7800"/><stop offset="0.3841" stop-color="#ff0600"/><stop offset="0.4946" stop-color="#ff0600"/><stop offset="0.5380" stop-color="#ff7800"/><stop offset="0.5779" stop-color="#f6f600"/><stop offset="0.6612" stop-color="#08f000"/><stop offset="0.7446" stop-color="#08f000"/><stop offset="0.8007" stop-color="#00f0a8"/><stop offset="0.8424" stop-color="#00ecff"/><stop offset="0.8986" stop-color="#00a6ff"/><stop offset="1.0000" stop-color="#00a6ff"/></linearGradient>
<linearGradient id="g33" gradientUnits="userSpaceOnUse" x1="0" y1="272.9" x2="0" y2="329.6"><stop offset="0.0000" stop-color="#00f0d0"/><stop offset="0.0670" stop-color="#00f0a8"/><stop offset="0.1217" stop-color="#08f000"/><stop offset="0.1887" stop-color="#c0ff00"/><stop offset="0.2310" stop-color="#c0ff00"/><stop offset="0.2840" stop-color="#ff7800"/><stop offset="0.3245" stop-color="#ff0600"/><stop offset="0.5273" stop-color="#ff0600"/><stop offset="0.5573" stop-color="#ff7800"/><stop offset="0.5944" stop-color="#f6f600"/><stop offset="0.6614" stop-color="#08f000"/><stop offset="0.7425" stop-color="#08f000"/><stop offset="0.8131" stop-color="#00f0a8"/><stop offset="0.8483" stop-color="#00f0a8"/><stop offset="0.8783" stop-color="#00ecff"/><stop offset="0.9048" stop-color="#00a6ff"/><stop offset="1.0000" stop-color="#00a6ff"/></linearGradient>
<linearGradient id="g34" gradientUnits="userSpaceOnUse" x1="0" y1="266" x2="0" y2="317.8"><stop offset="0.0000" stop-color="#00ecff"/><stop offset="0.0579" stop-color="#00ecff"/><stop offset="0.1158" stop-color="#08f000"/><stop offset="0.1931" stop-color="#08f000"/><stop offset="0.2664" stop-color="#ff7800"/><stop offset="0.3089" stop-color="#ff0600"/><stop offset="0.5019" stop-color="#ff0600"/><stop offset="0.5772" stop-color="#f6f600"/><stop offset="0.6506" stop-color="#08f000"/><stop offset="0.7104" stop-color="#08f000"/><stop offset="0.7838" stop-color="#00f0a8"/><stop offset="0.8571" stop-color="#00f0a8"/><stop offset="0.9015" stop-color="#00a6ff"/><stop offset="0.9324" stop-color="#0a7cf8"/><stop offset="1.0000" stop-color="#0a7cf8"/></linearGradient>
<linearGradient id="g35" gradientUnits="userSpaceOnUse" x1="0" y1="250.6" x2="0" y2="334.7"><stop offset="0.0000" stop-color="#00f0a8"/><stop offset="0.0452" stop-color="#00f0a8"/><stop offset="0.0725" stop-color="#08f000"/><stop offset="0.1094" stop-color="#f6f600"/><stop offset="0.1356" stop-color="#ff7800"/><stop offset="0.1558" stop-color="#ff0600"/><stop offset="0.2283" stop-color="#ff0600"/><stop offset="0.2545" stop-color="#f6f600"/><stop offset="0.2901" stop-color="#08f000"/><stop offset="0.3103" stop-color="#08f000"/><stop offset="0.3472" stop-color="#00f0a8"/><stop offset="0.4376" stop-color="#00f0a8"/><stop offset="0.4923" stop-color="#08f000"/><stop offset="0.5279" stop-color="#08f000"/><stop offset="0.5636" stop-color="#80ff00"/><stop offset="0.6017" stop-color="#e0ff00"/><stop offset="0.6754" stop-color="#e0ff00"/><stop offset="0.7111" stop-color="#80ff00"/><stop offset="0.7574" stop-color="#08f000"/><stop offset="0.7931" stop-color="#08f000"/><stop offset="0.8371" stop-color="#00f0a8"/><stop offset="0.8751" stop-color="#00f0a8"/><stop offset="0.9025" stop-color="#00a6ff"/><stop offset="1.0000" stop-color="#00a6ff"/></linearGradient>
<linearGradient id="g36" gradientUnits="userSpaceOnUse" x1="0" y1="264" x2="0" y2="338"><stop offset="0.0000" stop-color="#00f0a8"/><stop offset="0.0676" stop-color="#00f0a8"/><stop offset="0.0986" stop-color="#08f000"/><stop offset="0.1297" stop-color="#c0ff00"/><stop offset="0.1716" stop-color="#ff7800"/><stop offset="0.2135" stop-color="#ff0600"/><stop offset="0.3581" stop-color="#ff0600"/><stop offset="0.3986" stop-color="#ff7800"/><stop offset="0.5649" stop-color="#ff7800"/><stop offset="0.6176" stop-color="#f6f600"/><stop offset="0.6689" stop-color="#c0ff00"/><stop offset="0.7108" stop-color="#80ff00"/><stop offset="0.7622" stop-color="#08f000"/><stop offset="0.8351" stop-color="#08f000"/><stop offset="0.8757" stop-color="#00ecff"/><stop offset="1.0000" stop-color="#00ecff"/></linearGradient>
<linearGradient id="g37" gradientUnits="userSpaceOnUse" x1="0" y1="272.9" x2="0" y2="343"><stop offset="0.0000" stop-color="#00f0a8"/><stop offset="0.0542" stop-color="#00f0a8"/><stop offset="0.0870" stop-color="#08f000"/><stop offset="0.1198" stop-color="#08f000"/><stop offset="0.1641" stop-color="#f6f600"/><stop offset="0.2183" stop-color="#ff7800"/><stop offset="0.2725" stop-color="#ff0600"/><stop offset="0.4479" stop-color="#ff0600"/><stop offset="0.4922" stop-color="#ff7800"/><stop offset="0.5250" stop-color="#ff7800"/><stop offset="0.5792" stop-color="#f6f600"/><stop offset="0.6434" stop-color="#c0ff00"/><stop offset="0.7104" stop-color="#08f000"/><stop offset="0.7760" stop-color="#08f000"/><stop offset="0.8417" stop-color="#00f0a8"/><stop offset="0.8859" stop-color="#00ecff"/><stop offset="1.0000" stop-color="#00ecff"/></linearGradient>
<linearGradient id="g38" gradientUnits="userSpaceOnUse" x1="0" y1="289.7" x2="0" y2="348"><stop offset="0.0000" stop-color="#08f000"/><stop offset="0.0652" stop-color="#08f000"/><stop offset="0.1184" stop-color="#c0ff00"/><stop offset="0.1715" stop-color="#ff7800"/><stop offset="0.2110" stop-color="#ff0600"/><stop offset="0.3825" stop-color="#ff0600"/><stop offset="0.4340" stop-color="#ff7800"/><stop offset="0.5129" stop-color="#ff7800"/><stop offset="0.5660" stop-color="#c0ff00"/><stop offset="0.6449" stop-color="#08f000"/><stop offset="0.7238" stop-color="#08f000"/><stop offset="0.8027" stop-color="#00f0a8"/><stop offset="0.8799" stop-color="#00f0a8"/><stop offset="0.9314" stop-color="#00ecff"/><stop offset="1.0000" stop-color="#00ecff"/></linearGradient>
<linearGradient id="g39" gradientUnits="userSpaceOnUse" x1="0" y1="296.6" x2="0" y2="348"><stop offset="0.0000" stop-color="#08f000"/><stop offset="0.0895" stop-color="#08f000"/><stop offset="0.1634" stop-color="#f6f600"/><stop offset="0.2101" stop-color="#ff7800"/><stop offset="0.2549" stop-color="#ff0600"/><stop offset="0.5078" stop-color="#ff0600"/><stop offset="0.5525" stop-color="#ff7800"/><stop offset="0.5973" stop-color="#ff7800"/><stop offset="0.6576" stop-color="#c0ff00"/><stop offset="0.7160" stop-color="#80ff00"/><stop offset="0.8054" stop-color="#08f000"/><stop offset="1.0000" stop-color="#08f000"/></linearGradient>
<linearGradient id="g40" gradientUnits="userSpaceOnUse" x1="0" y1="294.8" x2="0" y2="348"><stop offset="0.0000" stop-color="#08f000"/><stop offset="0.0921" stop-color="#08f000"/><stop offset="0.1786" stop-color="#f6f600"/><stop offset="0.2368" stop-color="#ff7800"/><stop offset="0.2932" stop-color="#ff0600"/><stop offset="0.4925" stop-color="#ff0600"/><stop offset="0.5526" stop-color="#ff7800"/><stop offset="0.6241" stop-color="#f6f600"/><stop offset="0.6992" stop-color="#a0ff00"/><stop offset="0.8120" stop-color="#a0ff00"/><stop offset="0.8684" stop-color="#08f000"/><stop offset="0.9248" stop-color="#00f0a8"/><stop offset="1.0000" stop-color="#00f0a8"/></linearGradient>
<linearGradient id="g41" gradientUnits="userSpaceOnUse" x1="0" y1="271" x2="0" y2="348"><stop offset="0.0000" stop-color="#08f000"/><stop offset="0.0260" stop-color="#08f000"/><stop offset="0.0519" stop-color="#f6f600"/><stop offset="0.0844" stop-color="#ff7800"/><stop offset="0.1143" stop-color="#ff0600"/><stop offset="0.2338" stop-color="#ff0600"/><stop offset="0.2727" stop-color="#f6f600"/><stop offset="0.3117" stop-color="#c0ff00"/><stop offset="0.3727" stop-color="#08f000"/><stop offset="0.5117" stop-color="#08f000"/><stop offset="0.5714" stop-color="#c0ff00"/><stop offset="0.6104" stop-color="#c0ff00"/><stop offset="0.6714" stop-color="#f0ff00"/><stop offset="0.7506" stop-color="#f0ff00"/><stop offset="0.8104" stop-color="#a0ff00"/><stop offset="0.9091" stop-color="#a0ff00"/><stop offset="0.9481" stop-color="#08f000"/><stop offset="1.0000" stop-color="#08f000"/></linearGradient>
<linearGradient id="g42" gradientUnits="userSpaceOnUse" x1="0" y1="230.7" x2="0" y2="348"><stop offset="0.0000" stop-color="#00ecff"/><stop offset="0.0196" stop-color="#00ecff"/><stop offset="0.0324" stop-color="#08f000"/><stop offset="0.0520" stop-color="#08f000"/><stop offset="0.0708" stop-color="#f6f600"/><stop offset="0.0912" stop-color="#ff0600"/><stop offset="0.1304" stop-color="#ff0600"/><stop offset="0.1432" stop-color="#ff7800"/><stop offset="0.1560" stop-color="#ff0600"/><stop offset="0.1765" stop-color="#ff0600"/><stop offset="0.1961" stop-color="#c0ff00"/><stop offset="0.2217" stop-color="#80ff00"/><stop offset="0.2549" stop-color="#00ecff"/><stop offset="0.2745" stop-color="#00a6ff"/><stop offset="0.6078" stop-color="#00a6ff"/><stop offset="0.6402" stop-color="#00f0d0"/><stop offset="0.6795" stop-color="#00f0a8"/><stop offset="0.7187" stop-color="#08f000"/><stop offset="0.9403" stop-color="#08f000"/><stop offset="0.9659" stop-color="#c0ff00"/><stop offset="1.0000" stop-color="#c0ff00"/></linearGradient>
<linearGradient id="g43" gradientUnits="userSpaceOnUse" x1="0" y1="166.8" x2="0" y2="348"><stop offset="0.0000" stop-color="#0a7cf8"/><stop offset="0.0143" stop-color="#0a7cf8"/><stop offset="0.0232" stop-color="#00a6ff"/><stop offset="0.0342" stop-color="#00a6ff"/><stop offset="0.0453" stop-color="#08f000"/><stop offset="0.0651" stop-color="#08f000"/><stop offset="0.0784" stop-color="#ff7800"/><stop offset="0.0960" stop-color="#ff7800"/><stop offset="0.1071" stop-color="#ff0600"/><stop offset="0.1242" stop-color="#ff0600"/><stop offset="0.1352" stop-color="#ffc800"/><stop offset="0.1501" stop-color="#ffc800"/><stop offset="0.1639" stop-color="#08f000"/><stop offset="0.1722" stop-color="#08f000"/><stop offset="0.1865" stop-color="#00ecff"/><stop offset="0.1921" stop-color="#00ecff"/><stop offset="0.2086" stop-color="#00a6ff"/><stop offset="0.2230" stop-color="#00a6ff"/><stop offset="0.2312" stop-color="#0a5cf8"/><stop offset="0.6137" stop-color="#0a5cf8"/><stop offset="0.6236" stop-color="#0a7cf8"/><stop offset="0.6827" stop-color="#0a7cf8"/><stop offset="0.6909" stop-color="#00a6ff"/><stop offset="0.7163" stop-color="#00a6ff"/><stop offset="0.7334" stop-color="#00ecff"/><stop offset="0.7506" stop-color="#00ecff"/><stop offset="0.7671" stop-color="#00f0a8"/><stop offset="0.7925" stop-color="#08f000"/><stop offset="0.8604" stop-color="#08f000"/><stop offset="0.8858" stop-color="#00f080"/><stop offset="0.9194" stop-color="#00f080"/><stop offset="0.9448" stop-color="#00f0c0"/><stop offset="1.0000" stop-color="#00f0c0"/></linearGradient>
<linearGradient id="g44" gradientUnits="userSpaceOnUse" x1="0" y1="148.4" x2="0" y2="348"><stop offset="0.0000" stop-color="#0a7cf8"/><stop offset="0.0130" stop-color="#0a7cf8"/><stop offset="0.0230" stop-color="#00ecff"/><stop offset="0.0306" stop-color="#00ecff"/><stop offset="0.0411" stop-color="#00f0a8"/><stop offset="0.0566" stop-color="#c0ff00"/><stop offset="0.0616" stop-color="#c0ff00"/><stop offset="0.0741" stop-color="#ff7800"/><stop offset="0.0897" stop-color="#ff0600"/><stop offset="0.1102" stop-color="#ff0600"/><stop offset="0.1232" stop-color="#f6f600"/><stop offset="0.1383" stop-color="#f6f600"/><stop offset="0.1483" stop-color="#c0ff00"/><stop offset="0.1633" stop-color="#00ecff"/><stop offset="0.1794" stop-color="#00ecff"/><stop offset="0.1894" stop-color="#0044ff"/><stop offset="0.5581" stop-color="#0044ff"/><stop offset="0.5656" stop-color="#0a7cf8"/><stop offset="0.6503" stop-color="#0a7cf8"/><stop offset="0.6583" stop-color="#00a6ff"/><stop offset="0.6894" stop-color="#00a6ff"/><stop offset="0.7119" stop-color="#00ecff"/><stop offset="0.7495" stop-color="#00ecff"/><stop offset="0.7735" stop-color="#00f0a8"/><stop offset="0.7886" stop-color="#00f0a8"/><stop offset="0.8116" stop-color="#00f060"/><stop offset="0.8427" stop-color="#00f060"/><stop offset="0.8647" stop-color="#00f0a8"/><stop offset="0.8963" stop-color="#00f0a8"/><stop offset="0.9198" stop-color="#00ecff"/><stop offset="0.9649" stop-color="#00ecff"/><stop offset="0.9800" stop-color="#00f0a8"/><stop offset="1.0000" stop-color="#00f0a8"/></linearGradient>
<linearGradient id="g45" gradientUnits="userSpaceOnUse" x1="0" y1="151.8" x2="0" y2="348"><stop offset="0.0000" stop-color="#0a7cf8"/><stop offset="0.0138" stop-color="#0a7cf8"/><stop offset="0.0214" stop-color="#00ecff"/><stop offset="0.0316" stop-color="#08f000"/><stop offset="0.0454" stop-color="#08f000"/><stop offset="0.0581" stop-color="#c0ff00"/><stop offset="0.0663" stop-color="#c0ff00"/><stop offset="0.0765" stop-color="#ff0600"/><stop offset="0.1050" stop-color="#ff0600"/><stop offset="0.1182" stop-color="#f6f600"/><stop offset="0.1386" stop-color="#f6f600"/><stop offset="0.1519" stop-color="#00ecff"/><stop offset="0.1626" stop-color="#00ecff"/><stop offset="0.1728" stop-color="#0a7cf8"/><stop offset="0.1911" stop-color="#0a7cf8"/><stop offset="0.1962" stop-color="#0044ff"/><stop offset="0.5428" stop-color="#0044ff"/><stop offset="0.5505" stop-color="#0a7cf8"/><stop offset="0.6366" stop-color="#0a7cf8"/><stop offset="0.6524" stop-color="#00a6ff"/><stop offset="0.6911" stop-color="#00a6ff"/><stop offset="0.7069" stop-color="#00ecff"/><stop offset="0.7452" stop-color="#00ecff"/><stop offset="0.7615" stop-color="#00f0a8"/><stop offset="0.7849" stop-color="#00f0a8"/><stop offset="0.8007" stop-color="#00f060"/><stop offset="0.8552" stop-color="#00f060"/><stop offset="0.8710" stop-color="#00f0a8"/><stop offset="0.8945" stop-color="#00f0a8"/><stop offset="0.9103" stop-color="#00ecff"/><stop offset="1.0000" stop-color="#00ecff"/></linearGradient>
<linearGradient id="g46" gradientUnits="userSpaceOnUse" x1="0" y1="310" x2="0" y2="348"><stop offset="0.0000" stop-color="#08f000"/><stop offset="0.1316" stop-color="#08f000"/><stop offset="0.1974" stop-color="#c0ff00"/><stop offset="0.2553" stop-color="#f6f600"/><stop offset="0.3158" stop-color="#ff7800"/><stop offset="0.3763" stop-color="#ff0600"/><stop offset="0.6579" stop-color="#ff0600"/><stop offset="0.8263" stop-color="#ff3000"/><stop offset="0.9079" stop-color="#ff7800"/><stop offset="0.9895" stop-color="#ffc800"/><stop offset="1.0000" stop-color="#ffc800"/></linearGradient>
<linearGradient id="g47" gradientUnits="userSpaceOnUse" x1="0" y1="310" x2="0" y2="348"><stop offset="0.0000" stop-color="#08f000"/><stop offset="0.1132" stop-color="#08f000"/><stop offset="0.1711" stop-color="#c0ff00"/><stop offset="0.2368" stop-color="#f6f600"/><stop offset="0.3158" stop-color="#ff0600"/><stop offset="0.6632" stop-color="#ff0600"/><stop offset="0.7237" stop-color="#ff7800"/><stop offset="0.7632" stop-color="#ff7800"/><stop offset="0.8474" stop-color="#f6f600"/><stop offset="0.9289" stop-color="#c0ff00"/><stop offset="1.0000" stop-color="#08f000"/></linearGradient>
<linearGradient id="g48" gradientUnits="userSpaceOnUse" x1="0" y1="310" x2="0" y2="348"><stop offset="0.0000" stop-color="#08f000"/><stop offset="0.0921" stop-color="#08f000"/><stop offset="0.1947" stop-color="#f6f600"/><stop offset="0.2763" stop-color="#ff7800"/><stop offset="0.3579" stop-color="#ff0600"/><stop offset="0.6026" stop-color="#ff0600"/><stop offset="0.6632" stop-color="#ff7800"/><stop offset="0.7237" stop-color="#ff7800"/><stop offset="0.8053" stop-color="#f6f600"/><stop offset="0.8684" stop-color="#f6f600"/><stop offset="0.9289" stop-color="#c0ff00"/><stop offset="1.0000" stop-color="#08f000"/></linearGradient>
<linearGradient id="g49" gradientUnits="userSpaceOnUse" x1="0" y1="303.4" x2="0" y2="348"><stop offset="0.0000" stop-color="#08f000"/><stop offset="0.0874" stop-color="#08f000"/><stop offset="0.1390" stop-color="#c0ff00"/><stop offset="0.2085" stop-color="#ff7800"/><stop offset="0.2780" stop-color="#ff0600"/><stop offset="0.5045" stop-color="#ff0600"/><stop offset="0.5740" stop-color="#ff7800"/><stop offset="0.6256" stop-color="#ff7800"/><stop offset="0.6771" stop-color="#f6f600"/><stop offset="0.7309" stop-color="#c0ff00"/><stop offset="0.7825" stop-color="#80ff00"/><stop offset="0.8520" stop-color="#08f000"/><stop offset="1.0000" stop-color="#08f000"/></linearGradient>
<linearGradient id="g50" gradientUnits="userSpaceOnUse" x1="0" y1="284.8" x2="0" y2="348"><stop offset="0.0000" stop-color="#80ff00"/><stop offset="0.0491" stop-color="#80ff00"/><stop offset="0.0981" stop-color="#ff7800"/><stop offset="0.1456" stop-color="#ff0600"/><stop offset="0.2816" stop-color="#ff0600"/><stop offset="0.3196" stop-color="#ff7800"/><stop offset="0.3797" stop-color="#ffb000"/><stop offset="0.5032" stop-color="#ffb000"/><stop offset="0.5522" stop-color="#ff9000"/><stop offset="0.6741" stop-color="#ff9000"/><stop offset="0.7310" stop-color="#ffb000"/><stop offset="0.7785" stop-color="#ffc800"/><stop offset="0.8228" stop-color="#f6f600"/><stop offset="0.9209" stop-color="#f6f600"/><stop offset="0.9684" stop-color="#c0ff00"/><stop offset="1.0000" stop-color="#80ff00"/></linearGradient>
<linearGradient id="g51" gradientUnits="userSpaceOnUse" x1="0" y1="232.8" x2="0" y2="348"><stop offset="0.0000" stop-color="#08f000"/><stop offset="0.0538" stop-color="#08f000"/><stop offset="0.0712" stop-color="#80ff00"/><stop offset="0.0842" stop-color="#ff7800"/><stop offset="0.0937" stop-color="#ff7800"/><stop offset="0.1146" stop-color="#ff0600"/><stop offset="0.1406" stop-color="#ff0600"/><stop offset="0.1667" stop-color="#ff7800"/><stop offset="0.1953" stop-color="#c0ff00"/><stop offset="0.2083" stop-color="#c0ff00"/><stop offset="0.2361" stop-color="#00f0a8"/><stop offset="0.2622" stop-color="#00ecff"/><stop offset="0.2830" stop-color="#00ecff"/><stop offset="0.2960" stop-color="#00a6ff"/><stop offset="0.6198" stop-color="#00a6ff"/><stop offset="0.6328" stop-color="#00ecff"/><stop offset="0.6806" stop-color="#00ecff"/><stop offset="0.7135" stop-color="#08f000"/><stop offset="0.7543" stop-color="#08f000"/><stop offset="0.7943" stop-color="#40ff00"/><stop offset="0.9427" stop-color="#40ff00"/><stop offset="0.9653" stop-color="#80ff00"/><stop offset="1.0000" stop-color="#80ff00"/></linearGradient>
<linearGradient id="g52" gradientUnits="userSpaceOnUse" x1="0" y1="202.2" x2="0" y2="348"><stop offset="0.0000" stop-color="#00a6ff"/><stop offset="0.0343" stop-color="#00a6ff"/><stop offset="0.0556" stop-color="#80ff00"/><stop offset="0.0713" stop-color="#80ff00"/><stop offset="0.0878" stop-color="#ff7800"/><stop offset="0.1029" stop-color="#ff0600"/><stop offset="0.1406" stop-color="#ff0600"/><stop offset="0.1529" stop-color="#ff7800"/><stop offset="0.1722" stop-color="#80ff00"/><stop offset="0.1886" stop-color="#80ff00"/><stop offset="0.2092" stop-color="#00f0a8"/><stop offset="0.2250" stop-color="#00a6ff"/><stop offset="0.2469" stop-color="#0a70ff"/><stop offset="0.6406" stop-color="#0a70ff"/><stop offset="0.6571" stop-color="#00a6ff"/><stop offset="0.6886" stop-color="#00a6ff"/><stop offset="0.7099" stop-color="#00f0a8"/><stop offset="0.7531" stop-color="#00f0a8"/><stop offset="0.7846" stop-color="#08f000"/><stop offset="1.0000" stop-color="#00e820"/></linearGradient>
<linearGradient id="g53" gradientUnits="userSpaceOnUse" x1="0" y1="225.5" x2="0" y2="348"><stop offset="0.0000" stop-color="#00f0a8"/><stop offset="0.0465" stop-color="#00f0a8"/><stop offset="0.0718" stop-color="#f6f600"/><stop offset="0.0906" stop-color="#ff7800"/><stop offset="0.1102" stop-color="#ff0600"/><stop offset="0.1478" stop-color="#ff0600"/><stop offset="0.1673" stop-color="#ff7800"/><stop offset="0.1918" stop-color="#80ff00"/><stop offset="0.2114" stop-color="#80ff00"/><stop offset="0.2367" stop-color="#00f0a8"/><stop offset="0.2555" stop-color="#00f0a8"/><stop offset="0.2751" stop-color="#00a6ff"/><stop offset="0.4139" stop-color="#00a6ff"/><stop offset="0.4392" stop-color="#0a90ff"/><stop offset="0.6359" stop-color="#0a90ff"/><stop offset="0.6547" stop-color="#00ecff"/><stop offset="0.7061" stop-color="#00ecff"/><stop offset="0.7437" stop-color="#08f000"/><stop offset="0.8955" stop-color="#08f000"/><stop offset="0.9208" stop-color="#80ff00"/><stop offset="0.9461" stop-color="#c0ff00"/><stop offset="0.9714" stop-color="#f6f600"/><stop offset="1.0000" stop-color="#f6f600"/></linearGradient>
</defs>
<g shape-rendering="crispEdges">
<rect x="121.50" y="302.8" width="33.23" height="45.2" fill="url(#g0)"/>
<rect x="154.43" y="295.9" width="33.23" height="52.1" fill="url(#g1)"/>
<rect x="187.36" y="272.4" width="33.23" height="71.0" fill="url(#g2)"/>
<rect x="220.29" y="262" width="33.23" height="79.0" fill="url(#g3)"/>
<rect x="253.22" y="252" width="33.23" height="79.0" fill="url(#g4)"/>
<rect x="286.15" y="240.6" width="33.23" height="72.1" fill="url(#g5)"/>
<rect x="319.08" y="223.8" width="33.23" height="66.7" fill="url(#g6)"/>
<rect x="352.01" y="234" width="33.23" height="68.8" fill="url(#g7)"/>
<rect x="384.94" y="240.6" width="33.23" height="63.7" fill="url(#g8)"/>
<rect x="417.87" y="266" width="33.23" height="63.6" fill="url(#g9)"/>
<rect x="450.80" y="289.7" width="33.23" height="58.3" fill="url(#g10)"/>
<rect x="483.73" y="297.9" width="33.23" height="50.1" fill="url(#g11)"/>
<rect x="516.66" y="301.2" width="33.23" height="46.8" fill="url(#g12)"/>
<rect x="549.59" y="266" width="33.23" height="82.0" fill="url(#g13)"/>
<rect x="582.52" y="220.4" width="33.23" height="127.6" fill="url(#g14)"/>
<rect x="615.45" y="227.3" width="33.23" height="120.7" fill="url(#g15)"/>
<rect x="648.38" y="294.8" width="33.23" height="53.2" fill="url(#g16)"/>
<rect x="681.31" y="269.3" width="33.23" height="58.7" fill="url(#g17)"/>
<rect x="714.24" y="259" width="33.23" height="52.2" fill="url(#g18)"/>
<rect x="747.17" y="259" width="33.23" height="50.7" fill="url(#g19)"/>
<rect x="780.10" y="252.5" width="33.23" height="43.4" fill="url(#g20)"/>
<rect x="813.03" y="252.5" width="33.23" height="43.4" fill="url(#g21)"/>
<rect x="845.96" y="245.7" width="33.23" height="39.9" fill="url(#g22)"/>
<rect x="878.89" y="245.7" width="33.23" height="50.2" fill="url(#g23)"/>
<rect x="911.82" y="257.5" width="33.23" height="52.2" fill="url(#g24)"/>
<rect x="944.75" y="252.5" width="33.23" height="56.7" fill="url(#g25)"/>
<rect x="977.68" y="262.6" width="33.23" height="67.0" fill="url(#g26)"/>
<rect x="1010.61" y="276" width="33.23" height="67.0" fill="url(#g27)"/>
<rect x="1043.54" y="269.3" width="33.23" height="73.7" fill="url(#g28)"/>
<rect x="1076.47" y="223.8" width="33.23" height="124.2" fill="url(#g29)"/>
<rect x="1109.40" y="178.3" width="33.23" height="166.2" fill="url(#g30)"/>
<rect x="1142.33" y="202.2" width="33.23" height="145.8" fill="url(#g31)"/>
<rect x="1175.26" y="269.3" width="33.23" height="55.2" fill="url(#g32)"/>
<rect x="1208.19" y="272.9" width="33.23" height="56.7" fill="url(#g33)"/>
<rect x="1241.12" y="266" width="33.23" height="51.8" fill="url(#g34)"/>
<rect x="1274.05" y="250.6" width="33.23" height="84.1" fill="url(#g35)"/>
<rect x="1306.98" y="264" width="33.23" height="74.0" fill="url(#g36)"/>
<rect x="1339.91" y="272.9" width="33.23" height="70.1" fill="url(#g37)"/>
<rect x="1372.84" y="289.7" width="33.23" height="58.3" fill="url(#g38)"/>
<rect x="1405.77" y="296.6" width="33.23" height="51.4" fill="url(#g39)"/>
<rect x="1438.70" y="294.8" width="33.23" height="53.2" fill="url(#g40)"/>
<rect x="1471.63" y="271" width="33.23" height="77.0" fill="url(#g41)"/>
<rect x="1504.56" y="230.7" width="33.23" height="117.3" fill="url(#g42)"/>
<rect x="1537.49" y="166.8" width="33.23" height="181.2" fill="url(#g43)"/>
<rect x="1570.42" y="148.4" width="33.23" height="199.6" fill="url(#g44)"/>
<rect x="1603.35" y="151.8" width="33.23" height="196.2" fill="url(#g45)"/>
<rect x="1636.28" y="310" width="33.23" height="38.0" fill="url(#g46)"/>
<rect x="1669.21" y="310" width="33.23" height="38.0" fill="url(#g47)"/>
<rect x="1702.14" y="310" width="33.23" height="38.0" fill="url(#g48)"/>
<rect x="1735.07" y="303.4" width="33.23" height="44.6" fill="url(#g49)"/>
<rect x="1768.00" y="284.8" width="33.23" height="63.2" fill="url(#g50)"/>
<rect x="1800.93" y="232.8" width="33.23" height="115.2" fill="url(#g51)"/>
<rect x="1833.86" y="202.2" width="33.23" height="145.8" fill="url(#g52)"/>
<rect x="1866.79" y="225.5" width="33.23" height="122.5" fill="url(#g53)"/>
</g>
<line x1="120.5" y1="51.7" x2="1901.2" y2="51.7" stroke="#383838" stroke-width="1.7" stroke-linecap="butt"/>
<line x1="1901.2" y1="51.7" x2="1901.2" y2="348.5" stroke="#2a2a2a" stroke-width="1.5" stroke-linecap="butt"/>
<line x1="120.5" y1="51.7" x2="120.5" y2="348.5" stroke="#2a2a2a" stroke-width="1.4" stroke-linecap="butt"/>
<line x1="110.3" y1="348.5" x2="1901.2" y2="348.5" stroke="#2a2a2a" stroke-width="1.8" stroke-linecap="butt"/>
<line x1="110.3" y1="92.7" x2="120.5" y2="92.7" stroke="#111" stroke-width="2.8" stroke-linecap="butt"/>
<text x="75.0" y="99.4" font-size="19">10<tspan font-size="11" dy="-6.1">6</tspan></text>
<line x1="110.3" y1="158.3" x2="120.5" y2="158.3" stroke="#111" stroke-width="2.8" stroke-linecap="butt"/>
<text x="75.0" y="165.0" font-size="19">10<tspan font-size="11" dy="-6.1">5</tspan></text>
<line x1="110.3" y1="225.2" x2="120.5" y2="225.2" stroke="#111" stroke-width="2.8" stroke-linecap="butt"/>
<text x="75.0" y="231.9" font-size="19">10<tspan font-size="11" dy="-6.1">4</tspan></text>
<line x1="110.3" y1="290.8" x2="120.5" y2="290.8" stroke="#111" stroke-width="2.8" stroke-linecap="butt"/>
<text x="75.0" y="297.5" font-size="19">10<tspan font-size="11" dy="-6.1">3</tspan></text>
<line x1="115.3" y1="72.8" x2="120.5" y2="72.8" stroke="#1a1a1a" stroke-width="1.6" stroke-linecap="butt"/>
<line x1="115.3" y1="61.2" x2="120.5" y2="61.2" stroke="#1a1a1a" stroke-width="1.6" stroke-linecap="butt"/>
<line x1="115.3" y1="138.4" x2="120.5" y2="138.4" stroke="#1a1a1a" stroke-width="1.6" stroke-linecap="butt"/>
<line x1="115.3" y1="126.8" x2="120.5" y2="126.8" stroke="#1a1a1a" stroke-width="1.6" stroke-linecap="butt"/>
<line x1="115.3" y1="118.6" x2="120.5" y2="118.6" stroke="#1a1a1a" stroke-width="1.6" stroke-linecap="butt"/>
<line x1="115.3" y1="112.2" x2="120.5" y2="112.2" stroke="#1a1a1a" stroke-width="1.6" stroke-linecap="butt"/>
<line x1="115.3" y1="106.9" x2="120.5" y2="106.9" stroke="#1a1a1a" stroke-width="1.6" stroke-linecap="butt"/>
<line x1="115.3" y1="102.5" x2="120.5" y2="102.5" stroke="#1a1a1a" stroke-width="1.6" stroke-linecap="butt"/>
<line x1="115.3" y1="98.7" x2="120.5" y2="98.7" stroke="#1a1a1a" stroke-width="1.6" stroke-linecap="butt"/>
<line x1="115.3" y1="95.3" x2="120.5" y2="95.3" stroke="#1a1a1a" stroke-width="1.6" stroke-linecap="butt"/>
<line x1="115.3" y1="205.3" x2="120.5" y2="205.3" stroke="#1a1a1a" stroke-width="1.6" stroke-linecap="butt"/>
<line x1="115.3" y1="193.7" x2="120.5" y2="193.7" stroke="#1a1a1a" stroke-width="1.6" stroke-linecap="butt"/>
<line x1="115.3" y1="185.5" x2="120.5" y2="185.5" stroke="#1a1a1a" stroke-width="1.6" stroke-linecap="butt"/>
<line x1="115.3" y1="179.1" x2="120.5" y2="179.1" stroke="#1a1a1a" stroke-width="1.6" stroke-linecap="butt"/>
<line x1="115.3" y1="173.8" x2="120.5" y2="173.8" stroke="#1a1a1a" stroke-width="1.6" stroke-linecap="butt"/>
<line x1="115.3" y1="169.4" x2="120.5" y2="169.4" stroke="#1a1a1a" stroke-width="1.6" stroke-linecap="butt"/>
<line x1="115.3" y1="165.6" x2="120.5" y2="165.6" stroke="#1a1a1a" stroke-width="1.6" stroke-linecap="butt"/>
<line x1="115.3" y1="162.2" x2="120.5" y2="162.2" stroke="#1a1a1a" stroke-width="1.6" stroke-linecap="butt"/>
<line x1="115.3" y1="270.9" x2="120.5" y2="270.9" stroke="#1a1a1a" stroke-width="1.6" stroke-linecap="butt"/>
<line x1="115.3" y1="259.3" x2="120.5" y2="259.3" stroke="#1a1a1a" stroke-width="1.6" stroke-linecap="butt"/>
<line x1="115.3" y1="251.1" x2="120.5" y2="251.1" stroke="#1a1a1a" stroke-width="1.6" stroke-linecap="butt"/>
<line x1="115.3" y1="244.7" x2="120.5" y2="244.7" stroke="#1a1a1a" stroke-width="1.6" stroke-linecap="butt"/>
<line x1="115.3" y1="239.4" x2="120.5" y2="239.4" stroke="#1a1a1a" stroke-width="1.6" stroke-linecap="butt"/>
<line x1="115.3" y1="235.0" x2="120.5" y2="235.0" stroke="#1a1a1a" stroke-width="1.6" stroke-linecap="butt"/>
<line x1="115.3" y1="231.2" x2="120.5" y2="231.2" stroke="#1a1a1a" stroke-width="1.6" stroke-linecap="butt"/>
<line x1="115.3" y1="227.8" x2="120.5" y2="227.8" stroke="#1a1a1a" stroke-width="1.6" stroke-linecap="butt"/>
<line x1="115.3" y1="294.9" x2="120.5" y2="294.9" stroke="#1a1a1a" stroke-width="1.5" stroke-linecap="butt"/>
<line x1="115.3" y1="296.9" x2="120.5" y2="296.9" stroke="#1a1a1a" stroke-width="1.5" stroke-linecap="butt"/>
<line x1="115.3" y1="299.0" x2="120.5" y2="299.0" stroke="#1a1a1a" stroke-width="1.5" stroke-linecap="butt"/>
<line x1="115.3" y1="301.2" x2="120.5" y2="301.2" stroke="#1a1a1a" stroke-width="1.5" stroke-linecap="butt"/>
<line x1="115.3" y1="304.9" x2="120.5" y2="304.9" stroke="#1a1a1a" stroke-width="1.5" stroke-linecap="butt"/>
<line x1="115.3" y1="307.0" x2="120.5" y2="307.0" stroke="#1a1a1a" stroke-width="1.5" stroke-linecap="butt"/>
<line x1="115.3" y1="309.2" x2="120.5" y2="309.2" stroke="#1a1a1a" stroke-width="1.5" stroke-linecap="butt"/>
<line x1="115.3" y1="314.8" x2="120.5" y2="314.8" stroke="#1a1a1a" stroke-width="1.5" stroke-linecap="butt"/>
<line x1="115.3" y1="318.3" x2="120.5" y2="318.3" stroke="#1a1a1a" stroke-width="1.5" stroke-linecap="butt"/>
<line x1="115.3" y1="321.7" x2="120.5" y2="321.7" stroke="#1a1a1a" stroke-width="1.5" stroke-linecap="butt"/>
<line x1="115.3" y1="326.9" x2="120.5" y2="326.9" stroke="#1a1a1a" stroke-width="1.5" stroke-linecap="butt"/>
<line x1="110.3" y1="334.2" x2="120.5" y2="334.2" stroke="#111" stroke-width="3" stroke-linecap="butt"/>
<line x1="110.3" y1="344.1" x2="120.5" y2="344.1" stroke="#111" stroke-width="1.8" stroke-linecap="butt"/>
<line x1="110.3" y1="346.4" x2="120.5" y2="346.4" stroke="#111" stroke-width="1.2" stroke-linecap="butt"/>
<text x="93.0" y="350.8" font-size="19" text-anchor="start" >0</text>
<line x1="136.8" y1="349.0" x2="136.8" y2="361.5" stroke="#111" stroke-width="2.8" stroke-linecap="butt"/>
<text transform="translate(145.0,379.8) rotate(-47.5)" font-size="16.5" text-anchor="end" stroke="#000" stroke-width="0.35">UV1</text>
<line x1="169.8" y1="349.0" x2="169.8" y2="361.5" stroke="#111" stroke-width="2.8" stroke-linecap="butt"/>
<text transform="translate(178.0,379.8) rotate(-47.5)" font-size="16.5" text-anchor="end" stroke="#000" stroke-width="0.35">UV2</text>
<line x1="202.7" y1="349.0" x2="202.7" y2="361.5" stroke="#111" stroke-width="2.8" stroke-linecap="butt"/>
<text transform="translate(210.9,379.8) rotate(-47.5)" font-size="16.5" text-anchor="end" stroke="#000" stroke-width="0.35">UV3</text>
<line x1="235.7" y1="349.0" x2="235.7" y2="361.5" stroke="#111" stroke-width="2.8" stroke-linecap="butt"/>
<text transform="translate(243.9,379.8) rotate(-47.5)" font-size="16.5" text-anchor="end" stroke="#000" stroke-width="0.35">UV4</text>
<line x1="268.6" y1="349.0" x2="268.6" y2="361.5" stroke="#111" stroke-width="2.8" stroke-linecap="butt"/>
<text transform="translate(276.8,379.8) rotate(-47.5)" font-size="16.5" text-anchor="end" stroke="#000" stroke-width="0.35">UV5</text>
<line x1="301.6" y1="349.0" x2="301.6" y2="361.5" stroke="#111" stroke-width="2.8" stroke-linecap="butt"/>
<text transform="translate(309.8,379.8) rotate(-47.5)" font-size="16.5" text-anchor="end" stroke="#000" stroke-width="0.35">UV6</text>
<line x1="334.6" y1="349.0" x2="334.6" y2="361.5" stroke="#111" stroke-width="2.8" stroke-linecap="butt"/>
<text transform="translate(342.8,379.8) rotate(-47.5)" font-size="16.5" text-anchor="end" stroke="#000" stroke-width="0.35">UV7</text>
<line x1="367.5" y1="349.0" x2="367.5" y2="361.5" stroke="#111" stroke-width="2.8" stroke-linecap="butt"/>
<text transform="translate(375.7,379.8) rotate(-47.5)" font-size="16.5" text-anchor="end" stroke="#000" stroke-width="0.35">UV8</text>
<line x1="400.5" y1="349.0" x2="400.5" y2="361.5" stroke="#111" stroke-width="2.8" stroke-linecap="butt"/>
<text transform="translate(408.7,379.8) rotate(-47.5)" font-size="16.5" text-anchor="end" stroke="#000" stroke-width="0.35">UV9</text>
<line x1="433.4" y1="349.0" x2="433.4" y2="361.5" stroke="#111" stroke-width="2.8" stroke-linecap="butt"/>
<text transform="translate(441.6,379.8) rotate(-47.5)" font-size="16.5" text-anchor="end" stroke="#000" stroke-width="0.35">UV10</text>
<line x1="466.4" y1="349.0" x2="466.4" y2="361.5" stroke="#111" stroke-width="2.8" stroke-linecap="butt"/>
<text transform="translate(474.6,379.8) rotate(-47.5)" font-size="16.5" text-anchor="end" stroke="#000" stroke-width="0.35">UV11</text>
<line x1="499.4" y1="349.0" x2="499.4" y2="361.5" stroke="#111" stroke-width="2.8" stroke-linecap="butt"/>
<text transform="translate(507.6,379.8) rotate(-47.5)" font-size="16.5" text-anchor="end" stroke="#000" stroke-width="0.35">UV12</text>
<line x1="532.3" y1="349.0" x2="532.3" y2="361.5" stroke="#111" stroke-width="2.8" stroke-linecap="butt"/>
<text transform="translate(540.5,379.8) rotate(-47.5)" font-size="16.5" text-anchor="end" stroke="#000" stroke-width="0.35">UV13</text>
<line x1="565.3" y1="349.0" x2="565.3" y2="361.5" stroke="#111" stroke-width="2.8" stroke-linecap="butt"/>
<text transform="translate(573.5,379.8) rotate(-47.5)" font-size="16.5" text-anchor="end" stroke="#000" stroke-width="0.35">UV14</text>
<line x1="598.2" y1="349.0" x2="598.2" y2="361.5" stroke="#111" stroke-width="2.8" stroke-linecap="butt"/>
<text transform="translate(606.4,379.8) rotate(-47.5)" font-size="16.5" text-anchor="end" stroke="#000" stroke-width="0.35">UV15</text>
<line x1="631.2" y1="349.0" x2="631.2" y2="361.5" stroke="#111" stroke-width="2.8" stroke-linecap="butt"/>
<text transform="translate(639.4,379.8) rotate(-47.5)" font-size="16.5" text-anchor="end" stroke="#000" stroke-width="0.35">UV16</text>
<line x1="664.2" y1="349.0" x2="664.2" y2="361.5" stroke="#111" stroke-width="2.8" stroke-linecap="butt"/>
<text transform="translate(674.0,379.8) rotate(-47.5)" font-size="16.5" text-anchor="end" stroke="#000" stroke-width="0.35">V1</text>
<line x1="697.1" y1="349.0" x2="697.1" y2="361.5" stroke="#111" stroke-width="2.8" stroke-linecap="butt"/>
<text transform="translate(706.9,379.8) rotate(-47.5)" font-size="16.5" text-anchor="end" stroke="#000" stroke-width="0.35">V2</text>
<line x1="730.1" y1="349.0" x2="730.1" y2="361.5" stroke="#111" stroke-width="2.8" stroke-linecap="butt"/>
<text transform="translate(739.9,379.8) rotate(-47.5)" font-size="16.5" text-anchor="end" stroke="#000" stroke-width="0.35">V3</text>
<line x1="763.0" y1="349.0" x2="763.0" y2="361.5" stroke="#111" stroke-width="2.8" stroke-linecap="butt"/>
<text transform="translate(772.8,379.8) rotate(-47.5)" font-size="16.5" text-anchor="end" stroke="#000" stroke-width="0.35">V4</text>
<line x1="796.0" y1="349.0" x2="796.0" y2="361.5" stroke="#111" stroke-width="2.8" stroke-linecap="butt"/>
<text transform="translate(805.8,379.8) rotate(-47.5)" font-size="16.5" text-anchor="end" stroke="#000" stroke-width="0.35">V5</text>
<line x1="829.0" y1="349.0" x2="829.0" y2="361.5" stroke="#111" stroke-width="2.8" stroke-linecap="butt"/>
<text transform="translate(838.8,379.8) rotate(-47.5)" font-size="16.5" text-anchor="end" stroke="#000" stroke-width="0.35">V6</text>
<line x1="861.9" y1="349.0" x2="861.9" y2="361.5" stroke="#111" stroke-width="2.8" stroke-linecap="butt"/>
<text transform="translate(871.7,379.8) rotate(-47.5)" font-size="16.5" text-anchor="end" stroke="#000" stroke-width="0.35">V7</text>
<line x1="894.9" y1="349.0" x2="894.9" y2="361.5" stroke="#111" stroke-width="2.8" stroke-linecap="butt"/>
<text transform="translate(904.7,379.8) rotate(-47.5)" font-size="16.5" text-anchor="end" stroke="#000" stroke-width="0.35">V8</text>
<line x1="927.8" y1="349.0" x2="927.8" y2="361.5" stroke="#111" stroke-width="2.8" stroke-linecap="butt"/>
<text transform="translate(937.6,379.8) rotate(-47.5)" font-size="16.5" text-anchor="end" stroke="#000" stroke-width="0.35">V9</text>
<line x1="960.8" y1="349.0" x2="960.8" y2="361.5" stroke="#111" stroke-width="2.8" stroke-linecap="butt"/>
<text transform="translate(969.0,379.8) rotate(-47.5)" font-size="16.5" text-anchor="end" stroke="#000" stroke-width="0.35">V10</text>
<line x1="993.8" y1="349.0" x2="993.8" y2="361.5" stroke="#111" stroke-width="2.8" stroke-linecap="butt"/>
<text transform="translate(1002.0,379.8) rotate(-47.5)" font-size="16.5" text-anchor="end" stroke="#000" stroke-width="0.35">V11</text>
<line x1="1026.7" y1="349.0" x2="1026.7" y2="361.5" stroke="#111" stroke-width="2.8" stroke-linecap="butt"/>
<text transform="translate(1034.9,379.8) rotate(-47.5)" font-size="16.5" text-anchor="end" stroke="#000" stroke-width="0.35">V12</text>
<line x1="1059.7" y1="349.0" x2="1059.7" y2="361.5" stroke="#111" stroke-width="2.8" stroke-linecap="butt"/>
<text transform="translate(1067.9,379.8) rotate(-47.5)" font-size="16.5" text-anchor="end" stroke="#000" stroke-width="0.35">V13</text>
<line x1="1092.6" y1="349.0" x2="1092.6" y2="361.5" stroke="#111" stroke-width="2.8" stroke-linecap="butt"/>
<text transform="translate(1100.8,379.8) rotate(-47.5)" font-size="16.5" text-anchor="end" stroke="#000" stroke-width="0.35">V14</text>
<line x1="1125.6" y1="349.0" x2="1125.6" y2="361.5" stroke="#111" stroke-width="2.8" stroke-linecap="butt"/>
<text transform="translate(1133.8,379.8) rotate(-47.5)" font-size="16.5" text-anchor="end" stroke="#000" stroke-width="0.35">V15</text>
<line x1="1158.6" y1="349.0" x2="1158.6" y2="361.5" stroke="#111" stroke-width="2.8" stroke-linecap="butt"/>
<text transform="translate(1166.8,379.8) rotate(-47.5)" font-size="16.5" text-anchor="end" stroke="#000" stroke-width="0.35">V16</text>
<line x1="1191.5" y1="349.0" x2="1191.5" y2="361.5" stroke="#111" stroke-width="2.8" stroke-linecap="butt"/>
<text transform="translate(1201.3,379.8) rotate(-47.5)" font-size="16.5" text-anchor="end" stroke="#000" stroke-width="0.35">B1</text>
<line x1="1224.5" y1="349.0" x2="1224.5" y2="361.5" stroke="#111" stroke-width="2.8" stroke-linecap="butt"/>
<text transform="translate(1234.3,379.8) rotate(-47.5)" font-size="16.5" text-anchor="end" stroke="#000" stroke-width="0.35">B2</text>
<line x1="1257.4" y1="349.0" x2="1257.4" y2="361.5" stroke="#111" stroke-width="2.8" stroke-linecap="butt"/>
<text transform="translate(1267.2,379.8) rotate(-47.5)" font-size="16.5" text-anchor="end" stroke="#000" stroke-width="0.35">B3</text>
<line x1="1290.4" y1="349.0" x2="1290.4" y2="361.5" stroke="#111" stroke-width="2.8" stroke-linecap="butt"/>
<text transform="translate(1300.2,379.8) rotate(-47.5)" font-size="16.5" text-anchor="end" stroke="#000" stroke-width="0.35">B4</text>
<line x1="1323.4" y1="349.0" x2="1323.4" y2="361.5" stroke="#111" stroke-width="2.8" stroke-linecap="butt"/>
<text transform="translate(1333.2,379.8) rotate(-47.5)" font-size="16.5" text-anchor="end" stroke="#000" stroke-width="0.35">B5</text>
<line x1="1356.3" y1="349.0" x2="1356.3" y2="361.5" stroke="#111" stroke-width="2.8" stroke-linecap="butt"/>
<text transform="translate(1366.1,379.8) rotate(-47.5)" font-size="16.5" text-anchor="end" stroke="#000" stroke-width="0.35">B6</text>
<line x1="1389.3" y1="349.0" x2="1389.3" y2="361.5" stroke="#111" stroke-width="2.8" stroke-linecap="butt"/>
<text transform="translate(1399.1,379.8) rotate(-47.5)" font-size="16.5" text-anchor="end" stroke="#000" stroke-width="0.35">B7</text>
<line x1="1422.2" y1="349.0" x2="1422.2" y2="361.5" stroke="#111" stroke-width="2.8" stroke-linecap="butt"/>
<text transform="translate(1432.0,379.8) rotate(-47.5)" font-size="16.5" text-anchor="end" stroke="#000" stroke-width="0.35">B8</text>
<line x1="1455.2" y1="349.0" x2="1455.2" y2="361.5" stroke="#111" stroke-width="2.8" stroke-linecap="butt"/>
<text transform="translate(1465.0,379.8) rotate(-47.5)" font-size="16.5" text-anchor="end" stroke="#000" stroke-width="0.35">B9</text>
<line x1="1488.2" y1="349.0" x2="1488.2" y2="361.5" stroke="#111" stroke-width="2.8" stroke-linecap="butt"/>
<text transform="translate(1496.4,379.8) rotate(-47.5)" font-size="16.5" text-anchor="end" stroke="#000" stroke-width="0.35">B10</text>
<line x1="1521.1" y1="349.0" x2="1521.1" y2="361.5" stroke="#111" stroke-width="2.8" stroke-linecap="butt"/>
<text transform="translate(1529.3,379.8) rotate(-47.5)" font-size="16.5" text-anchor="end" stroke="#000" stroke-width="0.35">B11</text>
<line x1="1554.1" y1="349.0" x2="1554.1" y2="361.5" stroke="#111" stroke-width="2.8" stroke-linecap="butt"/>
<text transform="translate(1562.3,379.8) rotate(-47.5)" font-size="16.5" text-anchor="end" stroke="#000" stroke-width="0.35">B12</text>
<line x1="1587.0" y1="349.0" x2="1587.0" y2="361.5" stroke="#111" stroke-width="2.8" stroke-linecap="butt"/>
<text transform="translate(1595.2,379.8) rotate(-47.5)" font-size="16.5" text-anchor="end" stroke="#000" stroke-width="0.35">B13</text>
<line x1="1620.0" y1="349.0" x2="1620.0" y2="361.5" stroke="#111" stroke-width="2.8" stroke-linecap="butt"/>
<text transform="translate(1628.2,379.8) rotate(-47.5)" font-size="16.5" text-anchor="end" stroke="#000" stroke-width="0.35">B14</text>
<line x1="1653.0" y1="349.0" x2="1653.0" y2="361.5" stroke="#111" stroke-width="2.8" stroke-linecap="butt"/>
<text transform="translate(1662.8,379.8) rotate(-47.5)" font-size="16.5" text-anchor="end" stroke="#000" stroke-width="0.35">R1</text>
<line x1="1685.9" y1="349.0" x2="1685.9" y2="361.5" stroke="#111" stroke-width="2.8" stroke-linecap="butt"/>
<text transform="translate(1695.7,379.8) rotate(-47.5)" font-size="16.5" text-anchor="end" stroke="#000" stroke-width="0.35">R2</text>
<line x1="1718.9" y1="349.0" x2="1718.9" y2="361.5" stroke="#111" stroke-width="2.8" stroke-linecap="butt"/>
<text transform="translate(1728.7,379.8) rotate(-47.5)" font-size="16.5" text-anchor="end" stroke="#000" stroke-width="0.35">R3</text>
<line x1="1751.8" y1="349.0" x2="1751.8" y2="361.5" stroke="#111" stroke-width="2.8" stroke-linecap="butt"/>
<text transform="translate(1761.6,379.8) rotate(-47.5)" font-size="16.5" text-anchor="end" stroke="#000" stroke-width="0.35">R4</text>
<line x1="1784.8" y1="349.0" x2="1784.8" y2="361.5" stroke="#111" stroke-width="2.8" stroke-linecap="butt"/>
<text transform="translate(1794.6,379.8) rotate(-47.5)" font-size="16.5" text-anchor="end" stroke="#000" stroke-width="0.35">R5</text>
<line x1="1817.8" y1="349.0" x2="1817.8" y2="361.5" stroke="#111" stroke-width="2.8" stroke-linecap="butt"/>
<text transform="translate(1827.6,379.8) rotate(-47.5)" font-size="16.5" text-anchor="end" stroke="#000" stroke-width="0.35">R6</text>
<line x1="1850.7" y1="349.0" x2="1850.7" y2="361.5" stroke="#111" stroke-width="2.8" stroke-linecap="butt"/>
<text transform="translate(1860.5,379.8) rotate(-47.5)" font-size="16.5" text-anchor="end" stroke="#000" stroke-width="0.35">R7</text>
<line x1="1883.7" y1="349.0" x2="1883.7" y2="361.5" stroke="#111" stroke-width="2.8" stroke-linecap="butt"/>
<text transform="translate(1893.5,379.8) rotate(-47.5)" font-size="16.5" text-anchor="end" stroke="#000" stroke-width="0.35">R8</text>
<rect x="116.3" y="46.9" width="9.2" height="11.2" fill="#ffff7e" stroke="#1a1a1a" stroke-width="1.4"/>
<rect x="116.1" y="342.9" width="9.2" height="11.2" fill="#ffff7e" stroke="#1a1a1a" stroke-width="1.4"/>
<rect x="1896.2" y="46.9" width="9.2" height="11.2" fill="#ffff7e" stroke="#1a1a1a" stroke-width="1.4"/>
<rect x="1896.0" y="342.8" width="9.2" height="11.2" fill="#ffff7e" stroke="#1a1a1a" stroke-width="1.4"/>
<text x="978.6" y="42.7" font-size="23" text-anchor="middle" >P1</text>
<text x="978.2" y="430.0" font-size="21.5" text-anchor="middle" >Channel</text>
<text transform="translate(57.0,197.5) rotate(-90)" font-size="22.8" text-anchor="middle">Intensity</text>
<filter id="bl" x="0" y="0" width="1" height="1" filterUnits="objectBoundingBox"><feGaussianBlur stdDeviation="0.55"/></filter>
<g filter="url(#bl)">
<path fill="#0000ff" d="M362.2 1047.8h3.3v3.3h-3.3zM616.8 1047.8h3.3v3.3h-3.3zM656.1 1047.8h3.3v3.3h-3.3zM540.6 1045.2h3.3v3.3h-3.3zM543.3 1045.2h3.3v3.3h-3.3zM606.3 1045.2h3.3v3.3h-3.3zM635.1 1045.2h3.3v3.3h-3.3zM674.5 1045.2h3.3v3.3h-3.3zM692.9 1045.2h3.3v3.3h-3.3zM706.0 1045.2h3.3v3.3h-3.3zM338.5 1042.6h3.3v3.3h-3.3zM359.5 1042.6h3.3v3.3h-3.3zM398.9 1042.6h3.3v3.3h-3.3zM440.9 1042.6h3.3v3.3h-3.3zM459.3 1042.6h3.3v3.3h-3.3zM482.9 1042.6h3.3v3.3h-3.3zM509.2 1042.6h3.3v3.3h-3.3zM517.0 1042.6h3.3v3.3h-3.3zM535.4 1042.6h3.3v3.3h-3.3zM540.6 1042.6h3.3v3.3h-3.3zM614.1 1042.6h3.3v3.3h-3.3zM624.6 1042.6h3.3v3.3h-3.3zM635.1 1042.6h3.3v3.3h-3.3zM637.8 1042.6h3.3v3.3h-3.3zM643.0 1042.6h3.3v3.3h-3.3zM653.5 1042.6h3.3v3.3h-3.3zM669.3 1042.6h3.3v3.3h-3.3zM314.9 1039.9h3.3v3.3h-3.3zM328.0 1039.9h3.3v3.3h-3.3zM401.5 1039.9h3.3v3.3h-3.3zM459.3 1039.9h3.3v3.3h-3.3zM480.3 1039.9h3.3v3.3h-3.3zM501.3 1039.9h3.3v3.3h-3.3zM503.9 1039.9h3.3v3.3h-3.3zM509.2 1039.9h3.3v3.3h-3.3zM611.5 1039.9h3.3v3.3h-3.3zM616.8 1039.9h3.3v3.3h-3.3zM624.6 1039.9h3.3v3.3h-3.3zM627.3 1039.9h3.3v3.3h-3.3zM635.1 1039.9h3.3v3.3h-3.3zM643.0 1039.9h3.3v3.3h-3.3zM385.8 1037.3h3.3v3.3h-3.3zM388.4 1037.3h3.3v3.3h-3.3zM404.2 1037.3h3.3v3.3h-3.3zM406.8 1037.3h3.3v3.3h-3.3zM422.5 1037.3h3.3v3.3h-3.3zM433.0 1037.3h3.3v3.3h-3.3zM443.5 1037.3h3.3v3.3h-3.3zM446.2 1037.3h3.3v3.3h-3.3zM451.4 1037.3h3.3v3.3h-3.3zM459.3 1037.3h3.3v3.3h-3.3zM461.9 1037.3h3.3v3.3h-3.3zM480.3 1037.3h3.3v3.3h-3.3zM482.9 1037.3h3.3v3.3h-3.3zM485.5 1037.3h3.3v3.3h-3.3zM503.9 1037.3h3.3v3.3h-3.3zM506.5 1037.3h3.3v3.3h-3.3zM519.6 1037.3h3.3v3.3h-3.3zM527.5 1037.3h3.3v3.3h-3.3zM530.1 1037.3h3.3v3.3h-3.3zM532.8 1037.3h3.3v3.3h-3.3zM535.4 1037.3h3.3v3.3h-3.3zM553.8 1037.3h3.3v3.3h-3.3zM593.1 1037.3h3.3v3.3h-3.3zM606.3 1037.3h3.3v3.3h-3.3zM611.5 1037.3h3.3v3.3h-3.3zM637.8 1037.3h3.3v3.3h-3.3zM706.0 1037.3h3.3v3.3h-3.3zM312.3 1034.7h3.3v3.3h-3.3zM380.5 1034.7h3.3v3.3h-3.3zM414.7 1034.7h3.3v3.3h-3.3zM417.3 1034.7h3.3v3.3h-3.3zM419.9 1034.7h3.3v3.3h-3.3zM446.2 1034.7h3.3v3.3h-3.3zM464.5 1034.7h3.3v3.3h-3.3zM472.4 1034.7h3.3v3.3h-3.3zM482.9 1034.7h3.3v3.3h-3.3zM485.5 1034.7h3.3v3.3h-3.3zM498.7 1034.7h3.3v3.3h-3.3zM503.9 1034.7h3.3v3.3h-3.3zM509.2 1034.7h3.3v3.3h-3.3zM522.3 1034.7h3.3v3.3h-3.3zM524.9 1034.7h3.3v3.3h-3.3zM527.5 1034.7h3.3v3.3h-3.3zM532.8 1034.7h3.3v3.3h-3.3zM545.9 1034.7h3.3v3.3h-3.3zM556.4 1034.7h3.3v3.3h-3.3zM580.0 1034.7h3.3v3.3h-3.3zM582.6 1034.7h3.3v3.3h-3.3zM585.3 1034.7h3.3v3.3h-3.3zM595.8 1034.7h3.3v3.3h-3.3zM608.9 1034.7h3.3v3.3h-3.3zM616.8 1034.7h3.3v3.3h-3.3zM622.0 1034.7h3.3v3.3h-3.3zM627.3 1034.7h3.3v3.3h-3.3zM687.6 1034.7h3.3v3.3h-3.3zM706.0 1034.7h3.3v3.3h-3.3zM322.8 1032.1h3.3v3.3h-3.3zM404.2 1032.1h3.3v3.3h-3.3zM406.8 1032.1h3.3v3.3h-3.3zM409.4 1032.1h3.3v3.3h-3.3zM412.0 1032.1h3.3v3.3h-3.3zM414.7 1032.1h3.3v3.3h-3.3zM417.3 1032.1h3.3v3.3h-3.3zM419.9 1032.1h3.3v3.3h-3.3zM425.2 1032.1h3.3v3.3h-3.3zM430.4 1032.1h3.3v3.3h-3.3zM435.7 1032.1h3.3v3.3h-3.3zM451.4 1032.1h3.3v3.3h-3.3zM472.4 1032.1h3.3v3.3h-3.3zM475.0 1032.1h3.3v3.3h-3.3zM477.7 1032.1h3.3v3.3h-3.3zM485.5 1032.1h3.3v3.3h-3.3zM490.8 1032.1h3.3v3.3h-3.3zM498.7 1032.1h3.3v3.3h-3.3zM506.5 1032.1h3.3v3.3h-3.3zM517.0 1032.1h3.3v3.3h-3.3zM522.3 1032.1h3.3v3.3h-3.3zM524.9 1032.1h3.3v3.3h-3.3zM527.5 1032.1h3.3v3.3h-3.3zM540.6 1032.1h3.3v3.3h-3.3zM603.6 1032.1h3.3v3.3h-3.3zM606.3 1032.1h3.3v3.3h-3.3zM616.8 1032.1h3.3v3.3h-3.3zM622.0 1032.1h3.3v3.3h-3.3zM624.6 1032.1h3.3v3.3h-3.3zM632.5 1032.1h3.3v3.3h-3.3zM700.8 1032.1h3.3v3.3h-3.3zM713.9 1032.1h3.3v3.3h-3.3zM745.4 1032.1h3.3v3.3h-3.3zM296.5 1029.4h3.3v3.3h-3.3zM409.4 1029.4h3.3v3.3h-3.3zM414.7 1029.4h3.3v3.3h-3.3zM430.4 1029.4h3.3v3.3h-3.3zM438.3 1029.4h3.3v3.3h-3.3zM440.9 1029.4h3.3v3.3h-3.3zM443.5 1029.4h3.3v3.3h-3.3zM454.0 1029.4h3.3v3.3h-3.3zM459.3 1029.4h3.3v3.3h-3.3zM461.9 1029.4h3.3v3.3h-3.3zM464.5 1029.4h3.3v3.3h-3.3zM467.2 1029.4h3.3v3.3h-3.3zM472.4 1029.4h3.3v3.3h-3.3zM475.0 1029.4h3.3v3.3h-3.3zM506.5 1029.4h3.3v3.3h-3.3zM509.2 1029.4h3.3v3.3h-3.3zM511.8 1029.4h3.3v3.3h-3.3zM517.0 1029.4h3.3v3.3h-3.3zM519.6 1029.4h3.3v3.3h-3.3zM527.5 1029.4h3.3v3.3h-3.3zM532.8 1029.4h3.3v3.3h-3.3zM540.6 1029.4h3.3v3.3h-3.3zM543.3 1029.4h3.3v3.3h-3.3zM551.1 1029.4h3.3v3.3h-3.3zM553.8 1029.4h3.3v3.3h-3.3zM582.6 1029.4h3.3v3.3h-3.3zM595.8 1029.4h3.3v3.3h-3.3zM603.6 1029.4h3.3v3.3h-3.3zM614.1 1029.4h3.3v3.3h-3.3zM619.4 1029.4h3.3v3.3h-3.3zM698.1 1029.4h3.3v3.3h-3.3zM711.3 1029.4h3.3v3.3h-3.3zM293.9 1026.8h3.3v3.3h-3.3zM417.3 1026.8h3.3v3.3h-3.3zM435.7 1026.8h3.3v3.3h-3.3zM440.9 1026.8h3.3v3.3h-3.3zM454.0 1026.8h3.3v3.3h-3.3zM464.5 1026.8h3.3v3.3h-3.3zM469.8 1026.8h3.3v3.3h-3.3zM477.7 1026.8h3.3v3.3h-3.3zM480.3 1026.8h3.3v3.3h-3.3zM488.2 1026.8h3.3v3.3h-3.3zM490.8 1026.8h3.3v3.3h-3.3zM493.4 1026.8h3.3v3.3h-3.3zM514.4 1026.8h3.3v3.3h-3.3zM517.0 1026.8h3.3v3.3h-3.3zM527.5 1026.8h3.3v3.3h-3.3zM538.0 1026.8h3.3v3.3h-3.3zM540.6 1026.8h3.3v3.3h-3.3zM543.3 1026.8h3.3v3.3h-3.3zM556.4 1026.8h3.3v3.3h-3.3zM572.1 1026.8h3.3v3.3h-3.3zM577.4 1026.8h3.3v3.3h-3.3zM608.9 1026.8h3.3v3.3h-3.3zM627.3 1026.8h3.3v3.3h-3.3zM706.0 1026.8h3.3v3.3h-3.3zM296.5 1024.2h3.3v3.3h-3.3zM317.5 1024.2h3.3v3.3h-3.3zM422.5 1024.2h3.3v3.3h-3.3zM433.0 1024.2h3.3v3.3h-3.3zM435.7 1024.2h3.3v3.3h-3.3zM440.9 1024.2h3.3v3.3h-3.3zM443.5 1024.2h3.3v3.3h-3.3zM459.3 1024.2h3.3v3.3h-3.3zM464.5 1024.2h3.3v3.3h-3.3zM475.0 1024.2h3.3v3.3h-3.3zM485.5 1024.2h3.3v3.3h-3.3zM490.8 1024.2h3.3v3.3h-3.3zM496.0 1024.2h3.3v3.3h-3.3zM501.3 1024.2h3.3v3.3h-3.3zM506.5 1024.2h3.3v3.3h-3.3zM509.2 1024.2h3.3v3.3h-3.3zM511.8 1024.2h3.3v3.3h-3.3zM514.4 1024.2h3.3v3.3h-3.3zM524.9 1024.2h3.3v3.3h-3.3zM530.1 1024.2h3.3v3.3h-3.3zM535.4 1024.2h3.3v3.3h-3.3zM585.3 1024.2h3.3v3.3h-3.3zM590.5 1024.2h3.3v3.3h-3.3zM608.9 1024.2h3.3v3.3h-3.3zM616.8 1024.2h3.3v3.3h-3.3zM622.0 1024.2h3.3v3.3h-3.3zM312.3 1021.6h3.3v3.3h-3.3zM317.5 1021.6h3.3v3.3h-3.3zM419.9 1021.6h3.3v3.3h-3.3zM433.0 1021.6h3.3v3.3h-3.3zM435.7 1021.6h3.3v3.3h-3.3zM438.3 1021.6h3.3v3.3h-3.3zM440.9 1021.6h3.3v3.3h-3.3zM451.4 1021.6h3.3v3.3h-3.3zM459.3 1021.6h3.3v3.3h-3.3zM482.9 1021.6h3.3v3.3h-3.3zM493.4 1021.6h3.3v3.3h-3.3zM498.7 1021.6h3.3v3.3h-3.3zM503.9 1021.6h3.3v3.3h-3.3zM517.0 1021.6h3.3v3.3h-3.3zM522.3 1021.6h3.3v3.3h-3.3zM524.9 1021.6h3.3v3.3h-3.3zM527.5 1021.6h3.3v3.3h-3.3zM530.1 1021.6h3.3v3.3h-3.3zM543.3 1021.6h3.3v3.3h-3.3zM577.4 1021.6h3.3v3.3h-3.3zM587.9 1021.6h3.3v3.3h-3.3zM603.6 1021.6h3.3v3.3h-3.3zM608.9 1021.6h3.3v3.3h-3.3zM616.8 1021.6h3.3v3.3h-3.3zM700.8 1021.6h3.3v3.3h-3.3zM396.3 1018.9h3.3v3.3h-3.3zM414.7 1018.9h3.3v3.3h-3.3zM419.9 1018.9h3.3v3.3h-3.3zM433.0 1018.9h3.3v3.3h-3.3zM446.2 1018.9h3.3v3.3h-3.3zM469.8 1018.9h3.3v3.3h-3.3zM475.0 1018.9h3.3v3.3h-3.3zM480.3 1018.9h3.3v3.3h-3.3zM485.5 1018.9h3.3v3.3h-3.3zM490.8 1018.9h3.3v3.3h-3.3zM493.4 1018.9h3.3v3.3h-3.3zM506.5 1018.9h3.3v3.3h-3.3zM519.6 1018.9h3.3v3.3h-3.3zM524.9 1018.9h3.3v3.3h-3.3zM527.5 1018.9h3.3v3.3h-3.3zM530.1 1018.9h3.3v3.3h-3.3zM545.9 1018.9h3.3v3.3h-3.3zM551.1 1018.9h3.3v3.3h-3.3zM561.6 1018.9h3.3v3.3h-3.3zM622.0 1018.9h3.3v3.3h-3.3zM309.7 1016.3h3.3v3.3h-3.3zM391.0 1016.3h3.3v3.3h-3.3zM414.7 1016.3h3.3v3.3h-3.3zM417.3 1016.3h3.3v3.3h-3.3zM435.7 1016.3h3.3v3.3h-3.3zM438.3 1016.3h3.3v3.3h-3.3zM440.9 1016.3h3.3v3.3h-3.3zM443.5 1016.3h3.3v3.3h-3.3zM461.9 1016.3h3.3v3.3h-3.3zM467.2 1016.3h3.3v3.3h-3.3zM475.0 1016.3h3.3v3.3h-3.3zM485.5 1016.3h3.3v3.3h-3.3zM493.4 1016.3h3.3v3.3h-3.3zM506.5 1016.3h3.3v3.3h-3.3zM511.8 1016.3h3.3v3.3h-3.3zM514.4 1016.3h3.3v3.3h-3.3zM530.1 1016.3h3.3v3.3h-3.3zM535.4 1016.3h3.3v3.3h-3.3zM538.0 1016.3h3.3v3.3h-3.3zM553.8 1016.3h3.3v3.3h-3.3zM566.9 1016.3h3.3v3.3h-3.3zM572.1 1016.3h3.3v3.3h-3.3zM608.9 1016.3h3.3v3.3h-3.3zM745.4 1016.3h3.3v3.3h-3.3zM304.4 1013.7h3.3v3.3h-3.3zM307.0 1013.7h3.3v3.3h-3.3zM414.7 1013.7h3.3v3.3h-3.3zM417.3 1013.7h3.3v3.3h-3.3zM430.4 1013.7h3.3v3.3h-3.3zM433.0 1013.7h3.3v3.3h-3.3zM440.9 1013.7h3.3v3.3h-3.3zM451.4 1013.7h3.3v3.3h-3.3zM467.2 1013.7h3.3v3.3h-3.3zM469.8 1013.7h3.3v3.3h-3.3zM490.8 1013.7h3.3v3.3h-3.3zM517.0 1013.7h3.3v3.3h-3.3zM548.5 1013.7h3.3v3.3h-3.3zM587.9 1013.7h3.3v3.3h-3.3zM611.5 1013.7h3.3v3.3h-3.3zM627.3 1013.7h3.3v3.3h-3.3zM708.6 1013.7h3.3v3.3h-3.3zM320.2 1011.1h3.3v3.3h-3.3zM388.4 1011.1h3.3v3.3h-3.3zM396.3 1011.1h3.3v3.3h-3.3zM398.9 1011.1h3.3v3.3h-3.3zM414.7 1011.1h3.3v3.3h-3.3zM443.5 1011.1h3.3v3.3h-3.3zM454.0 1011.1h3.3v3.3h-3.3zM485.5 1011.1h3.3v3.3h-3.3zM493.4 1011.1h3.3v3.3h-3.3zM514.4 1011.1h3.3v3.3h-3.3zM519.6 1011.1h3.3v3.3h-3.3zM522.3 1011.1h3.3v3.3h-3.3zM524.9 1011.1h3.3v3.3h-3.3zM535.4 1011.1h3.3v3.3h-3.3zM545.9 1011.1h3.3v3.3h-3.3zM582.6 1011.1h3.3v3.3h-3.3zM619.4 1011.1h3.3v3.3h-3.3zM629.9 1011.1h3.3v3.3h-3.3zM632.5 1011.1h3.3v3.3h-3.3zM698.1 1011.1h3.3v3.3h-3.3zM706.0 1011.1h3.3v3.3h-3.3zM713.9 1011.1h3.3v3.3h-3.3zM328.0 1008.4h3.3v3.3h-3.3zM391.0 1008.4h3.3v3.3h-3.3zM398.9 1008.4h3.3v3.3h-3.3zM404.2 1008.4h3.3v3.3h-3.3zM406.8 1008.4h3.3v3.3h-3.3zM412.0 1008.4h3.3v3.3h-3.3zM414.7 1008.4h3.3v3.3h-3.3zM488.2 1008.4h3.3v3.3h-3.3zM522.3 1008.4h3.3v3.3h-3.3zM532.8 1008.4h3.3v3.3h-3.3zM545.9 1008.4h3.3v3.3h-3.3zM629.9 1008.4h3.3v3.3h-3.3zM304.4 1005.8h3.3v3.3h-3.3zM314.9 1005.8h3.3v3.3h-3.3zM320.2 1005.8h3.3v3.3h-3.3zM322.8 1005.8h3.3v3.3h-3.3zM383.2 1005.8h3.3v3.3h-3.3zM385.8 1005.8h3.3v3.3h-3.3zM391.0 1005.8h3.3v3.3h-3.3zM398.9 1005.8h3.3v3.3h-3.3zM401.5 1005.8h3.3v3.3h-3.3zM406.8 1005.8h3.3v3.3h-3.3zM451.4 1005.8h3.3v3.3h-3.3zM464.5 1005.8h3.3v3.3h-3.3zM482.9 1005.8h3.3v3.3h-3.3zM503.9 1005.8h3.3v3.3h-3.3zM506.5 1005.8h3.3v3.3h-3.3zM572.1 1005.8h3.3v3.3h-3.3zM580.0 1005.8h3.3v3.3h-3.3zM635.1 1005.8h3.3v3.3h-3.3zM643.0 1005.8h3.3v3.3h-3.3zM692.9 1005.8h3.3v3.3h-3.3zM719.1 1005.8h3.3v3.3h-3.3zM734.9 1005.8h3.3v3.3h-3.3zM299.2 1003.2h3.3v3.3h-3.3zM330.7 1003.2h3.3v3.3h-3.3zM335.9 1003.2h3.3v3.3h-3.3zM380.5 1003.2h3.3v3.3h-3.3zM388.4 1003.2h3.3v3.3h-3.3zM393.7 1003.2h3.3v3.3h-3.3zM406.8 1003.2h3.3v3.3h-3.3zM414.7 1003.2h3.3v3.3h-3.3zM417.3 1003.2h3.3v3.3h-3.3zM440.9 1003.2h3.3v3.3h-3.3zM443.5 1003.2h3.3v3.3h-3.3zM446.2 1003.2h3.3v3.3h-3.3zM456.7 1003.2h3.3v3.3h-3.3zM459.3 1003.2h3.3v3.3h-3.3zM482.9 1003.2h3.3v3.3h-3.3zM493.4 1003.2h3.3v3.3h-3.3zM501.3 1003.2h3.3v3.3h-3.3zM514.4 1003.2h3.3v3.3h-3.3zM527.5 1003.2h3.3v3.3h-3.3zM551.1 1003.2h3.3v3.3h-3.3zM559.0 1003.2h3.3v3.3h-3.3zM561.6 1003.2h3.3v3.3h-3.3zM564.3 1003.2h3.3v3.3h-3.3zM580.0 1003.2h3.3v3.3h-3.3zM582.6 1003.2h3.3v3.3h-3.3zM585.3 1003.2h3.3v3.3h-3.3zM700.8 1003.2h3.3v3.3h-3.3zM314.9 1000.6h3.3v3.3h-3.3zM330.7 1000.6h3.3v3.3h-3.3zM338.5 1000.6h3.3v3.3h-3.3zM341.2 1000.6h3.3v3.3h-3.3zM377.9 1000.6h3.3v3.3h-3.3zM380.5 1000.6h3.3v3.3h-3.3zM388.4 1000.6h3.3v3.3h-3.3zM396.3 1000.6h3.3v3.3h-3.3zM398.9 1000.6h3.3v3.3h-3.3zM425.2 1000.6h3.3v3.3h-3.3zM438.3 1000.6h3.3v3.3h-3.3zM446.2 1000.6h3.3v3.3h-3.3zM475.0 1000.6h3.3v3.3h-3.3zM480.3 1000.6h3.3v3.3h-3.3zM490.8 1000.6h3.3v3.3h-3.3zM503.9 1000.6h3.3v3.3h-3.3zM511.8 1000.6h3.3v3.3h-3.3zM514.4 1000.6h3.3v3.3h-3.3zM527.5 1000.6h3.3v3.3h-3.3zM532.8 1000.6h3.3v3.3h-3.3zM559.0 1000.6h3.3v3.3h-3.3zM590.5 1000.6h3.3v3.3h-3.3zM629.9 1000.6h3.3v3.3h-3.3zM643.0 1000.6h3.3v3.3h-3.3zM664.0 1000.6h3.3v3.3h-3.3zM671.9 1000.6h3.3v3.3h-3.3zM685.0 1000.6h3.3v3.3h-3.3zM690.3 1000.6h3.3v3.3h-3.3zM309.7 997.9h3.3v3.3h-3.3zM328.0 997.9h3.3v3.3h-3.3zM330.7 997.9h3.3v3.3h-3.3zM335.9 997.9h3.3v3.3h-3.3zM341.2 997.9h3.3v3.3h-3.3zM346.4 997.9h3.3v3.3h-3.3zM362.2 997.9h3.3v3.3h-3.3zM372.7 997.9h3.3v3.3h-3.3zM377.9 997.9h3.3v3.3h-3.3zM380.5 997.9h3.3v3.3h-3.3zM401.5 997.9h3.3v3.3h-3.3zM461.9 997.9h3.3v3.3h-3.3zM488.2 997.9h3.3v3.3h-3.3zM496.0 997.9h3.3v3.3h-3.3zM498.7 997.9h3.3v3.3h-3.3zM501.3 997.9h3.3v3.3h-3.3zM517.0 997.9h3.3v3.3h-3.3zM569.5 997.9h3.3v3.3h-3.3zM580.0 997.9h3.3v3.3h-3.3zM648.3 997.9h3.3v3.3h-3.3zM658.8 997.9h3.3v3.3h-3.3zM669.3 997.9h3.3v3.3h-3.3zM330.7 995.3h3.3v3.3h-3.3zM338.5 995.3h3.3v3.3h-3.3zM346.4 995.3h3.3v3.3h-3.3zM349.0 995.3h3.3v3.3h-3.3zM356.9 995.3h3.3v3.3h-3.3zM362.2 995.3h3.3v3.3h-3.3zM375.3 995.3h3.3v3.3h-3.3zM383.2 995.3h3.3v3.3h-3.3zM388.4 995.3h3.3v3.3h-3.3zM401.5 995.3h3.3v3.3h-3.3zM454.0 995.3h3.3v3.3h-3.3zM477.7 995.3h3.3v3.3h-3.3zM482.9 995.3h3.3v3.3h-3.3zM488.2 995.3h3.3v3.3h-3.3zM506.5 995.3h3.3v3.3h-3.3zM514.4 995.3h3.3v3.3h-3.3zM524.9 995.3h3.3v3.3h-3.3zM530.1 995.3h3.3v3.3h-3.3zM538.0 995.3h3.3v3.3h-3.3zM561.6 995.3h3.3v3.3h-3.3zM585.3 995.3h3.3v3.3h-3.3zM611.5 995.3h3.3v3.3h-3.3zM616.8 995.3h3.3v3.3h-3.3zM632.5 995.3h3.3v3.3h-3.3zM661.4 995.3h3.3v3.3h-3.3zM669.3 995.3h3.3v3.3h-3.3zM671.9 995.3h3.3v3.3h-3.3zM309.7 992.7h3.3v3.3h-3.3zM330.7 992.7h3.3v3.3h-3.3zM333.3 992.7h3.3v3.3h-3.3zM335.9 992.7h3.3v3.3h-3.3zM343.8 992.7h3.3v3.3h-3.3zM349.0 992.7h3.3v3.3h-3.3zM356.9 992.7h3.3v3.3h-3.3zM359.5 992.7h3.3v3.3h-3.3zM383.2 992.7h3.3v3.3h-3.3zM388.4 992.7h3.3v3.3h-3.3zM406.8 992.7h3.3v3.3h-3.3zM419.9 992.7h3.3v3.3h-3.3zM430.4 992.7h3.3v3.3h-3.3zM433.0 992.7h3.3v3.3h-3.3zM443.5 992.7h3.3v3.3h-3.3zM469.8 992.7h3.3v3.3h-3.3zM482.9 992.7h3.3v3.3h-3.3zM488.2 992.7h3.3v3.3h-3.3zM496.0 992.7h3.3v3.3h-3.3zM501.3 992.7h3.3v3.3h-3.3zM506.5 992.7h3.3v3.3h-3.3zM519.6 992.7h3.3v3.3h-3.3zM538.0 992.7h3.3v3.3h-3.3zM540.6 992.7h3.3v3.3h-3.3zM595.8 992.7h3.3v3.3h-3.3zM598.4 992.7h3.3v3.3h-3.3zM608.9 992.7h3.3v3.3h-3.3zM640.4 992.7h3.3v3.3h-3.3zM664.0 992.7h3.3v3.3h-3.3zM669.3 992.7h3.3v3.3h-3.3zM671.9 992.7h3.3v3.3h-3.3zM674.5 992.7h3.3v3.3h-3.3zM677.1 992.7h3.3v3.3h-3.3zM293.9 990.1h3.3v3.3h-3.3zM309.7 990.1h3.3v3.3h-3.3zM338.5 990.1h3.3v3.3h-3.3zM343.8 990.1h3.3v3.3h-3.3zM351.7 990.1h3.3v3.3h-3.3zM364.8 990.1h3.3v3.3h-3.3zM375.3 990.1h3.3v3.3h-3.3zM406.8 990.1h3.3v3.3h-3.3zM409.4 990.1h3.3v3.3h-3.3zM430.4 990.1h3.3v3.3h-3.3zM448.8 990.1h3.3v3.3h-3.3zM475.0 990.1h3.3v3.3h-3.3zM509.2 990.1h3.3v3.3h-3.3zM519.6 990.1h3.3v3.3h-3.3zM538.0 990.1h3.3v3.3h-3.3zM559.0 990.1h3.3v3.3h-3.3zM564.3 990.1h3.3v3.3h-3.3zM569.5 990.1h3.3v3.3h-3.3zM595.8 990.1h3.3v3.3h-3.3zM601.0 990.1h3.3v3.3h-3.3zM614.1 990.1h3.3v3.3h-3.3zM664.0 990.1h3.3v3.3h-3.3zM666.6 990.1h3.3v3.3h-3.3zM669.3 990.1h3.3v3.3h-3.3zM671.9 990.1h3.3v3.3h-3.3zM677.1 990.1h3.3v3.3h-3.3zM679.8 990.1h3.3v3.3h-3.3zM682.4 990.1h3.3v3.3h-3.3zM685.0 990.1h3.3v3.3h-3.3zM309.7 987.4h3.3v3.3h-3.3zM325.4 987.4h3.3v3.3h-3.3zM330.7 987.4h3.3v3.3h-3.3zM343.8 987.4h3.3v3.3h-3.3zM349.0 987.4h3.3v3.3h-3.3zM351.7 987.4h3.3v3.3h-3.3zM375.3 987.4h3.3v3.3h-3.3zM377.9 987.4h3.3v3.3h-3.3zM380.5 987.4h3.3v3.3h-3.3zM396.3 987.4h3.3v3.3h-3.3zM469.8 987.4h3.3v3.3h-3.3zM482.9 987.4h3.3v3.3h-3.3zM498.7 987.4h3.3v3.3h-3.3zM527.5 987.4h3.3v3.3h-3.3zM530.1 987.4h3.3v3.3h-3.3zM532.8 987.4h3.3v3.3h-3.3zM535.4 987.4h3.3v3.3h-3.3zM540.6 987.4h3.3v3.3h-3.3zM545.9 987.4h3.3v3.3h-3.3zM561.6 987.4h3.3v3.3h-3.3zM572.1 987.4h3.3v3.3h-3.3zM574.8 987.4h3.3v3.3h-3.3zM577.4 987.4h3.3v3.3h-3.3zM585.3 987.4h3.3v3.3h-3.3zM595.8 987.4h3.3v3.3h-3.3zM603.6 987.4h3.3v3.3h-3.3zM614.1 987.4h3.3v3.3h-3.3zM635.1 987.4h3.3v3.3h-3.3zM653.5 987.4h3.3v3.3h-3.3zM674.5 987.4h3.3v3.3h-3.3zM679.8 987.4h3.3v3.3h-3.3zM325.4 984.8h3.3v3.3h-3.3zM338.5 984.8h3.3v3.3h-3.3zM346.4 984.8h3.3v3.3h-3.3zM349.0 984.8h3.3v3.3h-3.3zM364.8 984.8h3.3v3.3h-3.3zM377.9 984.8h3.3v3.3h-3.3zM396.3 984.8h3.3v3.3h-3.3zM446.2 984.8h3.3v3.3h-3.3zM448.8 984.8h3.3v3.3h-3.3zM472.4 984.8h3.3v3.3h-3.3zM485.5 984.8h3.3v3.3h-3.3zM503.9 984.8h3.3v3.3h-3.3zM511.8 984.8h3.3v3.3h-3.3zM514.4 984.8h3.3v3.3h-3.3zM522.3 984.8h3.3v3.3h-3.3zM524.9 984.8h3.3v3.3h-3.3zM530.1 984.8h3.3v3.3h-3.3zM532.8 984.8h3.3v3.3h-3.3zM545.9 984.8h3.3v3.3h-3.3zM551.1 984.8h3.3v3.3h-3.3zM553.8 984.8h3.3v3.3h-3.3zM564.3 984.8h3.3v3.3h-3.3zM566.9 984.8h3.3v3.3h-3.3zM574.8 984.8h3.3v3.3h-3.3zM577.4 984.8h3.3v3.3h-3.3zM582.6 984.8h3.3v3.3h-3.3zM593.1 984.8h3.3v3.3h-3.3zM601.0 984.8h3.3v3.3h-3.3zM603.6 984.8h3.3v3.3h-3.3zM606.3 984.8h3.3v3.3h-3.3zM619.4 984.8h3.3v3.3h-3.3zM622.0 984.8h3.3v3.3h-3.3zM624.6 984.8h3.3v3.3h-3.3zM643.0 984.8h3.3v3.3h-3.3zM666.6 984.8h3.3v3.3h-3.3zM679.8 984.8h3.3v3.3h-3.3zM320.2 982.2h3.3v3.3h-3.3zM354.3 982.2h3.3v3.3h-3.3zM364.8 982.2h3.3v3.3h-3.3zM396.3 982.2h3.3v3.3h-3.3zM448.8 982.2h3.3v3.3h-3.3zM469.8 982.2h3.3v3.3h-3.3zM514.4 982.2h3.3v3.3h-3.3zM532.8 982.2h3.3v3.3h-3.3zM543.3 982.2h3.3v3.3h-3.3zM545.9 982.2h3.3v3.3h-3.3zM553.8 982.2h3.3v3.3h-3.3zM559.0 982.2h3.3v3.3h-3.3zM564.3 982.2h3.3v3.3h-3.3zM572.1 982.2h3.3v3.3h-3.3zM574.8 982.2h3.3v3.3h-3.3zM580.0 982.2h3.3v3.3h-3.3zM598.4 982.2h3.3v3.3h-3.3zM601.0 982.2h3.3v3.3h-3.3zM606.3 982.2h3.3v3.3h-3.3zM640.4 982.2h3.3v3.3h-3.3zM643.0 982.2h3.3v3.3h-3.3zM653.5 982.2h3.3v3.3h-3.3zM664.0 982.2h3.3v3.3h-3.3zM669.3 982.2h3.3v3.3h-3.3zM671.9 982.2h3.3v3.3h-3.3zM677.1 982.2h3.3v3.3h-3.3zM312.3 979.6h3.3v3.3h-3.3zM328.0 979.6h3.3v3.3h-3.3zM330.7 979.6h3.3v3.3h-3.3zM333.3 979.6h3.3v3.3h-3.3zM338.5 979.6h3.3v3.3h-3.3zM341.2 979.6h3.3v3.3h-3.3zM346.4 979.6h3.3v3.3h-3.3zM351.7 979.6h3.3v3.3h-3.3zM370.0 979.6h3.3v3.3h-3.3zM393.7 979.6h3.3v3.3h-3.3zM409.4 979.6h3.3v3.3h-3.3zM446.2 979.6h3.3v3.3h-3.3zM448.8 979.6h3.3v3.3h-3.3zM477.7 979.6h3.3v3.3h-3.3zM501.3 979.6h3.3v3.3h-3.3zM503.9 979.6h3.3v3.3h-3.3zM509.2 979.6h3.3v3.3h-3.3zM511.8 979.6h3.3v3.3h-3.3zM517.0 979.6h3.3v3.3h-3.3zM527.5 979.6h3.3v3.3h-3.3zM535.4 979.6h3.3v3.3h-3.3zM543.3 979.6h3.3v3.3h-3.3zM548.5 979.6h3.3v3.3h-3.3zM551.1 979.6h3.3v3.3h-3.3zM559.0 979.6h3.3v3.3h-3.3zM561.6 979.6h3.3v3.3h-3.3zM569.5 979.6h3.3v3.3h-3.3zM601.0 979.6h3.3v3.3h-3.3zM627.3 979.6h3.3v3.3h-3.3zM632.5 979.6h3.3v3.3h-3.3zM640.4 979.6h3.3v3.3h-3.3zM656.1 979.6h3.3v3.3h-3.3zM664.0 979.6h3.3v3.3h-3.3zM669.3 979.6h3.3v3.3h-3.3zM671.9 979.6h3.3v3.3h-3.3zM674.5 979.6h3.3v3.3h-3.3zM703.4 979.6h3.3v3.3h-3.3zM299.2 976.9h3.3v3.3h-3.3zM320.2 976.9h3.3v3.3h-3.3zM341.2 976.9h3.3v3.3h-3.3zM385.8 976.9h3.3v3.3h-3.3zM412.0 976.9h3.3v3.3h-3.3zM422.5 976.9h3.3v3.3h-3.3zM461.9 976.9h3.3v3.3h-3.3zM467.2 976.9h3.3v3.3h-3.3zM496.0 976.9h3.3v3.3h-3.3zM509.2 976.9h3.3v3.3h-3.3zM511.8 976.9h3.3v3.3h-3.3zM543.3 976.9h3.3v3.3h-3.3zM548.5 976.9h3.3v3.3h-3.3zM624.6 976.9h3.3v3.3h-3.3zM627.3 976.9h3.3v3.3h-3.3zM643.0 976.9h3.3v3.3h-3.3zM664.0 976.9h3.3v3.3h-3.3zM674.5 976.9h3.3v3.3h-3.3zM677.1 976.9h3.3v3.3h-3.3zM703.4 976.9h3.3v3.3h-3.3zM719.1 976.9h3.3v3.3h-3.3zM745.4 976.9h3.3v3.3h-3.3zM299.2 974.3h3.3v3.3h-3.3zM317.5 974.3h3.3v3.3h-3.3zM354.3 974.3h3.3v3.3h-3.3zM377.9 974.3h3.3v3.3h-3.3zM506.5 974.3h3.3v3.3h-3.3zM514.4 974.3h3.3v3.3h-3.3zM519.6 974.3h3.3v3.3h-3.3zM530.1 974.3h3.3v3.3h-3.3zM535.4 974.3h3.3v3.3h-3.3zM540.6 974.3h3.3v3.3h-3.3zM629.9 974.3h3.3v3.3h-3.3zM635.1 974.3h3.3v3.3h-3.3zM637.8 974.3h3.3v3.3h-3.3zM643.0 974.3h3.3v3.3h-3.3zM658.8 974.3h3.3v3.3h-3.3zM666.6 974.3h3.3v3.3h-3.3zM690.3 974.3h3.3v3.3h-3.3zM703.4 974.3h3.3v3.3h-3.3zM711.3 974.3h3.3v3.3h-3.3zM314.9 971.7h3.3v3.3h-3.3zM320.2 971.7h3.3v3.3h-3.3zM330.7 971.7h3.3v3.3h-3.3zM333.3 971.7h3.3v3.3h-3.3zM346.4 971.7h3.3v3.3h-3.3zM349.0 971.7h3.3v3.3h-3.3zM370.0 971.7h3.3v3.3h-3.3zM380.5 971.7h3.3v3.3h-3.3zM404.2 971.7h3.3v3.3h-3.3zM433.0 971.7h3.3v3.3h-3.3zM446.2 971.7h3.3v3.3h-3.3zM506.5 971.7h3.3v3.3h-3.3zM514.4 971.7h3.3v3.3h-3.3zM524.9 971.7h3.3v3.3h-3.3zM635.1 971.7h3.3v3.3h-3.3zM640.4 971.7h3.3v3.3h-3.3zM664.0 971.7h3.3v3.3h-3.3zM666.6 971.7h3.3v3.3h-3.3zM671.9 971.7h3.3v3.3h-3.3zM674.5 971.7h3.3v3.3h-3.3zM677.1 971.7h3.3v3.3h-3.3zM700.8 971.7h3.3v3.3h-3.3zM708.6 971.7h3.3v3.3h-3.3zM719.1 971.7h3.3v3.3h-3.3zM330.7 969.1h3.3v3.3h-3.3zM364.8 969.1h3.3v3.3h-3.3zM380.5 969.1h3.3v3.3h-3.3zM396.3 969.1h3.3v3.3h-3.3zM501.3 969.1h3.3v3.3h-3.3zM514.4 969.1h3.3v3.3h-3.3zM517.0 969.1h3.3v3.3h-3.3zM524.9 969.1h3.3v3.3h-3.3zM527.5 969.1h3.3v3.3h-3.3zM532.8 969.1h3.3v3.3h-3.3zM640.4 969.1h3.3v3.3h-3.3zM650.9 969.1h3.3v3.3h-3.3zM669.3 969.1h3.3v3.3h-3.3zM674.5 969.1h3.3v3.3h-3.3zM679.8 969.1h3.3v3.3h-3.3zM685.0 969.1h3.3v3.3h-3.3zM698.1 969.1h3.3v3.3h-3.3zM755.9 969.1h3.3v3.3h-3.3zM333.3 966.4h3.3v3.3h-3.3zM364.8 966.4h3.3v3.3h-3.3zM388.4 966.4h3.3v3.3h-3.3zM393.7 966.4h3.3v3.3h-3.3zM530.1 966.4h3.3v3.3h-3.3zM535.4 966.4h3.3v3.3h-3.3zM645.6 966.4h3.3v3.3h-3.3zM669.3 966.4h3.3v3.3h-3.3zM677.1 966.4h3.3v3.3h-3.3zM682.4 966.4h3.3v3.3h-3.3zM692.9 966.4h3.3v3.3h-3.3zM700.8 966.4h3.3v3.3h-3.3zM338.5 963.8h3.3v3.3h-3.3zM385.8 963.8h3.3v3.3h-3.3zM532.8 963.8h3.3v3.3h-3.3zM535.4 963.8h3.3v3.3h-3.3zM656.1 963.8h3.3v3.3h-3.3zM671.9 963.8h3.3v3.3h-3.3zM674.5 963.8h3.3v3.3h-3.3zM677.1 963.8h3.3v3.3h-3.3zM679.8 963.8h3.3v3.3h-3.3zM685.0 963.8h3.3v3.3h-3.3zM687.6 963.8h3.3v3.3h-3.3zM359.5 961.2h3.3v3.3h-3.3zM490.8 961.2h3.3v3.3h-3.3zM527.5 961.2h3.3v3.3h-3.3zM645.6 961.2h3.3v3.3h-3.3zM656.1 961.2h3.3v3.3h-3.3zM690.3 961.2h3.3v3.3h-3.3zM695.5 961.2h3.3v3.3h-3.3zM698.1 961.2h3.3v3.3h-3.3zM309.7 958.6h3.3v3.3h-3.3zM317.5 958.6h3.3v3.3h-3.3zM514.4 958.6h3.3v3.3h-3.3zM527.5 958.6h3.3v3.3h-3.3zM535.4 958.6h3.3v3.3h-3.3zM540.6 958.6h3.3v3.3h-3.3zM632.5 958.6h3.3v3.3h-3.3zM643.0 958.6h3.3v3.3h-3.3zM648.3 958.6h3.3v3.3h-3.3zM656.1 958.6h3.3v3.3h-3.3zM690.3 958.6h3.3v3.3h-3.3zM711.3 958.6h3.3v3.3h-3.3zM356.9 955.9h3.3v3.3h-3.3zM506.5 955.9h3.3v3.3h-3.3zM527.5 955.9h3.3v3.3h-3.3zM532.8 955.9h3.3v3.3h-3.3zM538.0 955.9h3.3v3.3h-3.3zM551.1 955.9h3.3v3.3h-3.3zM627.3 955.9h3.3v3.3h-3.3zM629.9 955.9h3.3v3.3h-3.3zM635.1 955.9h3.3v3.3h-3.3zM637.8 955.9h3.3v3.3h-3.3zM643.0 955.9h3.3v3.3h-3.3zM669.3 955.9h3.3v3.3h-3.3zM687.6 955.9h3.3v3.3h-3.3zM362.2 953.3h3.3v3.3h-3.3zM435.7 953.3h3.3v3.3h-3.3zM498.7 953.3h3.3v3.3h-3.3zM506.5 953.3h3.3v3.3h-3.3zM517.0 953.3h3.3v3.3h-3.3zM530.1 953.3h3.3v3.3h-3.3zM532.8 953.3h3.3v3.3h-3.3zM545.9 953.3h3.3v3.3h-3.3zM551.1 953.3h3.3v3.3h-3.3zM553.8 953.3h3.3v3.3h-3.3zM556.4 953.3h3.3v3.3h-3.3zM559.0 953.3h3.3v3.3h-3.3zM561.6 953.3h3.3v3.3h-3.3zM614.1 953.3h3.3v3.3h-3.3zM622.0 953.3h3.3v3.3h-3.3zM624.6 953.3h3.3v3.3h-3.3zM643.0 953.3h3.3v3.3h-3.3zM669.3 953.3h3.3v3.3h-3.3zM674.5 953.3h3.3v3.3h-3.3zM687.6 953.3h3.3v3.3h-3.3zM690.3 953.3h3.3v3.3h-3.3zM708.6 953.3h3.3v3.3h-3.3zM517.0 950.7h3.3v3.3h-3.3zM561.6 950.7h3.3v3.3h-3.3zM574.8 950.7h3.3v3.3h-3.3zM585.3 950.7h3.3v3.3h-3.3zM590.5 950.7h3.3v3.3h-3.3zM595.8 950.7h3.3v3.3h-3.3zM598.4 950.7h3.3v3.3h-3.3zM601.0 950.7h3.3v3.3h-3.3zM611.5 950.7h3.3v3.3h-3.3zM616.8 950.7h3.3v3.3h-3.3zM624.6 950.7h3.3v3.3h-3.3zM629.9 950.7h3.3v3.3h-3.3zM635.1 950.7h3.3v3.3h-3.3zM643.0 950.7h3.3v3.3h-3.3zM648.3 950.7h3.3v3.3h-3.3zM650.9 950.7h3.3v3.3h-3.3zM677.1 950.7h3.3v3.3h-3.3zM532.8 948.1h3.3v3.3h-3.3zM535.4 948.1h3.3v3.3h-3.3zM543.3 948.1h3.3v3.3h-3.3zM548.5 948.1h3.3v3.3h-3.3zM572.1 948.1h3.3v3.3h-3.3zM582.6 948.1h3.3v3.3h-3.3zM585.3 948.1h3.3v3.3h-3.3zM587.9 948.1h3.3v3.3h-3.3zM593.1 948.1h3.3v3.3h-3.3zM595.8 948.1h3.3v3.3h-3.3zM601.0 948.1h3.3v3.3h-3.3zM608.9 948.1h3.3v3.3h-3.3zM622.0 948.1h3.3v3.3h-3.3zM624.6 948.1h3.3v3.3h-3.3zM627.3 948.1h3.3v3.3h-3.3zM669.3 948.1h3.3v3.3h-3.3zM698.1 948.1h3.3v3.3h-3.3zM753.3 948.1h3.3v3.3h-3.3zM530.1 945.4h3.3v3.3h-3.3zM545.9 945.4h3.3v3.3h-3.3zM548.5 945.4h3.3v3.3h-3.3zM551.1 945.4h3.3v3.3h-3.3zM553.8 945.4h3.3v3.3h-3.3zM574.8 945.4h3.3v3.3h-3.3zM593.1 945.4h3.3v3.3h-3.3zM598.4 945.4h3.3v3.3h-3.3zM606.3 945.4h3.3v3.3h-3.3zM614.1 945.4h3.3v3.3h-3.3zM616.8 945.4h3.3v3.3h-3.3zM619.4 945.4h3.3v3.3h-3.3zM648.3 945.4h3.3v3.3h-3.3zM671.9 945.4h3.3v3.3h-3.3zM679.8 945.4h3.3v3.3h-3.3zM700.8 945.4h3.3v3.3h-3.3zM729.6 945.4h3.3v3.3h-3.3zM317.5 942.8h3.3v3.3h-3.3zM535.4 942.8h3.3v3.3h-3.3zM543.3 942.8h3.3v3.3h-3.3zM564.3 942.8h3.3v3.3h-3.3zM569.5 942.8h3.3v3.3h-3.3zM582.6 942.8h3.3v3.3h-3.3zM593.1 942.8h3.3v3.3h-3.3zM606.3 942.8h3.3v3.3h-3.3zM616.8 942.8h3.3v3.3h-3.3zM619.4 942.8h3.3v3.3h-3.3zM632.5 942.8h3.3v3.3h-3.3zM637.8 942.8h3.3v3.3h-3.3zM679.8 942.8h3.3v3.3h-3.3zM706.0 942.8h3.3v3.3h-3.3zM538.0 940.2h3.3v3.3h-3.3zM551.1 940.2h3.3v3.3h-3.3zM556.4 940.2h3.3v3.3h-3.3zM572.1 940.2h3.3v3.3h-3.3zM577.4 940.2h3.3v3.3h-3.3zM582.6 940.2h3.3v3.3h-3.3zM603.6 940.2h3.3v3.3h-3.3zM619.4 940.2h3.3v3.3h-3.3zM637.8 940.2h3.3v3.3h-3.3zM653.5 940.2h3.3v3.3h-3.3zM674.5 940.2h3.3v3.3h-3.3zM679.8 940.2h3.3v3.3h-3.3zM692.9 940.2h3.3v3.3h-3.3zM706.0 940.2h3.3v3.3h-3.3zM753.3 940.2h3.3v3.3h-3.3zM480.3 937.6h3.3v3.3h-3.3zM501.3 937.6h3.3v3.3h-3.3zM548.5 937.6h3.3v3.3h-3.3zM553.8 937.6h3.3v3.3h-3.3zM556.4 937.6h3.3v3.3h-3.3zM561.6 937.6h3.3v3.3h-3.3zM572.1 937.6h3.3v3.3h-3.3zM590.5 937.6h3.3v3.3h-3.3zM595.8 937.6h3.3v3.3h-3.3zM619.4 937.6h3.3v3.3h-3.3zM635.1 937.6h3.3v3.3h-3.3zM640.4 937.6h3.3v3.3h-3.3zM679.8 937.6h3.3v3.3h-3.3zM695.5 937.6h3.3v3.3h-3.3zM698.1 937.6h3.3v3.3h-3.3zM711.3 937.6h3.3v3.3h-3.3zM509.2 934.9h3.3v3.3h-3.3zM519.6 934.9h3.3v3.3h-3.3zM545.9 934.9h3.3v3.3h-3.3zM548.5 934.9h3.3v3.3h-3.3zM564.3 934.9h3.3v3.3h-3.3zM569.5 934.9h3.3v3.3h-3.3zM572.1 934.9h3.3v3.3h-3.3zM574.8 934.9h3.3v3.3h-3.3zM577.4 934.9h3.3v3.3h-3.3zM582.6 934.9h3.3v3.3h-3.3zM585.3 934.9h3.3v3.3h-3.3zM587.9 934.9h3.3v3.3h-3.3zM595.8 934.9h3.3v3.3h-3.3zM608.9 934.9h3.3v3.3h-3.3zM611.5 934.9h3.3v3.3h-3.3zM614.1 934.9h3.3v3.3h-3.3zM674.5 934.9h3.3v3.3h-3.3zM682.4 934.9h3.3v3.3h-3.3zM703.4 934.9h3.3v3.3h-3.3zM721.8 934.9h3.3v3.3h-3.3zM742.8 934.9h3.3v3.3h-3.3zM551.1 932.3h3.3v3.3h-3.3zM564.3 932.3h3.3v3.3h-3.3zM572.1 932.3h3.3v3.3h-3.3zM593.1 932.3h3.3v3.3h-3.3zM598.4 932.3h3.3v3.3h-3.3zM603.6 932.3h3.3v3.3h-3.3zM611.5 932.3h3.3v3.3h-3.3zM624.6 932.3h3.3v3.3h-3.3zM629.9 932.3h3.3v3.3h-3.3zM635.1 932.3h3.3v3.3h-3.3zM671.9 932.3h3.3v3.3h-3.3zM687.6 932.3h3.3v3.3h-3.3zM690.3 932.3h3.3v3.3h-3.3zM700.8 932.3h3.3v3.3h-3.3zM706.0 932.3h3.3v3.3h-3.3zM727.0 932.3h3.3v3.3h-3.3zM745.4 932.3h3.3v3.3h-3.3zM385.8 929.7h3.3v3.3h-3.3zM551.1 929.7h3.3v3.3h-3.3zM553.8 929.7h3.3v3.3h-3.3zM580.0 929.7h3.3v3.3h-3.3zM585.3 929.7h3.3v3.3h-3.3zM608.9 929.7h3.3v3.3h-3.3zM614.1 929.7h3.3v3.3h-3.3zM629.9 929.7h3.3v3.3h-3.3zM645.6 929.7h3.3v3.3h-3.3zM698.1 929.7h3.3v3.3h-3.3zM713.9 929.7h3.3v3.3h-3.3zM545.9 927.1h3.3v3.3h-3.3zM551.1 927.1h3.3v3.3h-3.3zM559.0 927.1h3.3v3.3h-3.3zM564.3 927.1h3.3v3.3h-3.3zM572.1 927.1h3.3v3.3h-3.3zM582.6 927.1h3.3v3.3h-3.3zM587.9 927.1h3.3v3.3h-3.3zM598.4 927.1h3.3v3.3h-3.3zM603.6 927.1h3.3v3.3h-3.3zM614.1 927.1h3.3v3.3h-3.3zM685.0 927.1h3.3v3.3h-3.3zM690.3 927.1h3.3v3.3h-3.3zM695.5 927.1h3.3v3.3h-3.3zM706.0 927.1h3.3v3.3h-3.3zM417.3 924.4h3.3v3.3h-3.3zM543.3 924.4h3.3v3.3h-3.3zM566.9 924.4h3.3v3.3h-3.3zM572.1 924.4h3.3v3.3h-3.3zM590.5 924.4h3.3v3.3h-3.3zM593.1 924.4h3.3v3.3h-3.3zM601.0 924.4h3.3v3.3h-3.3zM608.9 924.4h3.3v3.3h-3.3zM629.9 924.4h3.3v3.3h-3.3zM682.4 924.4h3.3v3.3h-3.3zM690.3 924.4h3.3v3.3h-3.3zM692.9 924.4h3.3v3.3h-3.3zM732.3 924.4h3.3v3.3h-3.3zM540.6 921.8h3.3v3.3h-3.3zM553.8 921.8h3.3v3.3h-3.3zM572.1 921.8h3.3v3.3h-3.3zM580.0 921.8h3.3v3.3h-3.3zM585.3 921.8h3.3v3.3h-3.3zM593.1 921.8h3.3v3.3h-3.3zM601.0 921.8h3.3v3.3h-3.3zM603.6 921.8h3.3v3.3h-3.3zM608.9 921.8h3.3v3.3h-3.3zM614.1 921.8h3.3v3.3h-3.3zM619.4 921.8h3.3v3.3h-3.3zM643.0 921.8h3.3v3.3h-3.3zM650.9 921.8h3.3v3.3h-3.3zM671.9 921.8h3.3v3.3h-3.3zM692.9 921.8h3.3v3.3h-3.3zM545.9 919.2h3.3v3.3h-3.3zM577.4 919.2h3.3v3.3h-3.3zM585.3 919.2h3.3v3.3h-3.3zM595.8 919.2h3.3v3.3h-3.3zM601.0 919.2h3.3v3.3h-3.3zM603.6 919.2h3.3v3.3h-3.3zM608.9 919.2h3.3v3.3h-3.3zM627.3 919.2h3.3v3.3h-3.3zM687.6 919.2h3.3v3.3h-3.3zM692.9 919.2h3.3v3.3h-3.3zM703.4 919.2h3.3v3.3h-3.3zM755.9 919.2h3.3v3.3h-3.3zM545.9 916.6h3.3v3.3h-3.3zM551.1 916.6h3.3v3.3h-3.3zM556.4 916.6h3.3v3.3h-3.3zM566.9 916.6h3.3v3.3h-3.3zM574.8 916.6h3.3v3.3h-3.3zM577.4 916.6h3.3v3.3h-3.3zM580.0 916.6h3.3v3.3h-3.3zM582.6 916.6h3.3v3.3h-3.3zM585.3 916.6h3.3v3.3h-3.3zM598.4 916.6h3.3v3.3h-3.3zM624.6 916.6h3.3v3.3h-3.3zM703.4 916.6h3.3v3.3h-3.3zM561.6 913.9h3.3v3.3h-3.3zM564.3 913.9h3.3v3.3h-3.3zM566.9 913.9h3.3v3.3h-3.3zM569.5 913.9h3.3v3.3h-3.3zM572.1 913.9h3.3v3.3h-3.3zM574.8 913.9h3.3v3.3h-3.3zM582.6 913.9h3.3v3.3h-3.3zM595.8 913.9h3.3v3.3h-3.3zM611.5 913.9h3.3v3.3h-3.3zM616.8 913.9h3.3v3.3h-3.3zM687.6 913.9h3.3v3.3h-3.3zM700.8 913.9h3.3v3.3h-3.3zM706.0 913.9h3.3v3.3h-3.3zM713.9 913.9h3.3v3.3h-3.3zM721.8 913.9h3.3v3.3h-3.3zM551.1 911.3h3.3v3.3h-3.3zM566.9 911.3h3.3v3.3h-3.3zM577.4 911.3h3.3v3.3h-3.3zM580.0 911.3h3.3v3.3h-3.3zM585.3 911.3h3.3v3.3h-3.3zM587.9 911.3h3.3v3.3h-3.3zM590.5 911.3h3.3v3.3h-3.3zM595.8 911.3h3.3v3.3h-3.3zM601.0 911.3h3.3v3.3h-3.3zM603.6 911.3h3.3v3.3h-3.3zM606.3 911.3h3.3v3.3h-3.3zM608.9 911.3h3.3v3.3h-3.3zM614.1 911.3h3.3v3.3h-3.3zM632.5 911.3h3.3v3.3h-3.3zM698.1 911.3h3.3v3.3h-3.3zM443.5 908.7h3.3v3.3h-3.3zM553.8 908.7h3.3v3.3h-3.3zM569.5 908.7h3.3v3.3h-3.3zM580.0 908.7h3.3v3.3h-3.3zM590.5 908.7h3.3v3.3h-3.3zM595.8 908.7h3.3v3.3h-3.3zM598.4 908.7h3.3v3.3h-3.3zM601.0 908.7h3.3v3.3h-3.3zM603.6 908.7h3.3v3.3h-3.3zM611.5 908.7h3.3v3.3h-3.3zM677.1 908.7h3.3v3.3h-3.3zM700.8 908.7h3.3v3.3h-3.3zM351.7 906.1h3.3v3.3h-3.3zM566.9 906.1h3.3v3.3h-3.3zM569.5 906.1h3.3v3.3h-3.3zM577.4 906.1h3.3v3.3h-3.3zM595.8 906.1h3.3v3.3h-3.3zM598.4 906.1h3.3v3.3h-3.3zM606.3 906.1h3.3v3.3h-3.3zM637.8 906.1h3.3v3.3h-3.3zM671.9 906.1h3.3v3.3h-3.3zM690.3 906.1h3.3v3.3h-3.3zM711.3 906.1h3.3v3.3h-3.3zM713.9 906.1h3.3v3.3h-3.3zM427.8 903.4h3.3v3.3h-3.3zM511.8 903.4h3.3v3.3h-3.3zM553.8 903.4h3.3v3.3h-3.3zM556.4 903.4h3.3v3.3h-3.3zM559.0 903.4h3.3v3.3h-3.3zM564.3 903.4h3.3v3.3h-3.3zM580.0 903.4h3.3v3.3h-3.3zM590.5 903.4h3.3v3.3h-3.3zM603.6 903.4h3.3v3.3h-3.3zM611.5 903.4h3.3v3.3h-3.3zM700.8 903.4h3.3v3.3h-3.3zM706.0 903.4h3.3v3.3h-3.3zM501.3 900.8h3.3v3.3h-3.3zM543.3 900.8h3.3v3.3h-3.3zM553.8 900.8h3.3v3.3h-3.3zM561.6 900.8h3.3v3.3h-3.3zM569.5 900.8h3.3v3.3h-3.3zM593.1 900.8h3.3v3.3h-3.3zM595.8 900.8h3.3v3.3h-3.3zM601.0 900.8h3.3v3.3h-3.3zM622.0 900.8h3.3v3.3h-3.3zM669.3 900.8h3.3v3.3h-3.3zM524.9 898.2h3.3v3.3h-3.3zM535.4 898.2h3.3v3.3h-3.3zM553.8 898.2h3.3v3.3h-3.3zM572.1 898.2h3.3v3.3h-3.3zM582.6 898.2h3.3v3.3h-3.3zM590.5 898.2h3.3v3.3h-3.3zM595.8 898.2h3.3v3.3h-3.3zM603.6 898.2h3.3v3.3h-3.3zM611.5 898.2h3.3v3.3h-3.3zM614.1 898.2h3.3v3.3h-3.3zM622.0 898.2h3.3v3.3h-3.3zM682.4 898.2h3.3v3.3h-3.3zM711.3 898.2h3.3v3.3h-3.3zM524.9 895.6h3.3v3.3h-3.3zM566.9 895.6h3.3v3.3h-3.3zM580.0 895.6h3.3v3.3h-3.3zM608.9 895.6h3.3v3.3h-3.3zM721.8 895.6h3.3v3.3h-3.3zM446.2 892.9h3.3v3.3h-3.3zM564.3 892.9h3.3v3.3h-3.3zM587.9 892.9h3.3v3.3h-3.3zM632.5 892.9h3.3v3.3h-3.3zM753.3 892.9h3.3v3.3h-3.3zM333.3 890.3h3.3v3.3h-3.3zM564.3 890.3h3.3v3.3h-3.3zM603.6 890.3h3.3v3.3h-3.3zM606.3 890.3h3.3v3.3h-3.3zM619.4 890.3h3.3v3.3h-3.3zM708.6 890.3h3.3v3.3h-3.3zM732.3 890.3h3.3v3.3h-3.3zM511.8 887.7h3.3v3.3h-3.3zM551.1 887.7h3.3v3.3h-3.3zM564.3 887.7h3.3v3.3h-3.3zM569.5 887.7h3.3v3.3h-3.3zM582.6 887.7h3.3v3.3h-3.3zM598.4 887.7h3.3v3.3h-3.3zM698.1 887.7h3.3v3.3h-3.3zM514.4 885.1h3.3v3.3h-3.3zM585.3 885.1h3.3v3.3h-3.3zM601.0 885.1h3.3v3.3h-3.3zM664.0 885.1h3.3v3.3h-3.3zM328.0 882.4h3.3v3.3h-3.3zM517.0 882.4h3.3v3.3h-3.3zM587.9 882.4h3.3v3.3h-3.3zM595.8 882.4h3.3v3.3h-3.3zM679.8 882.4h3.3v3.3h-3.3zM700.8 882.4h3.3v3.3h-3.3zM713.9 882.4h3.3v3.3h-3.3zM724.4 882.4h3.3v3.3h-3.3zM729.6 882.4h3.3v3.3h-3.3zM370.0 879.8h3.3v3.3h-3.3zM580.0 879.8h3.3v3.3h-3.3zM719.1 879.8h3.3v3.3h-3.3zM388.4 877.2h3.3v3.3h-3.3zM729.6 877.2h3.3v3.3h-3.3zM587.9 874.6h3.3v3.3h-3.3zM724.4 874.6h3.3v3.3h-3.3zM590.5 871.9h3.3v3.3h-3.3zM692.9 871.9h3.3v3.3h-3.3zM711.3 871.9h3.3v3.3h-3.3zM364.8 869.3h3.3v3.3h-3.3zM493.4 869.3h3.3v3.3h-3.3zM587.9 869.3h3.3v3.3h-3.3zM745.4 869.3h3.3v3.3h-3.3zM682.4 866.7h3.3v3.3h-3.3zM301.8 864.1h3.3v3.3h-3.3zM711.3 864.1h3.3v3.3h-3.3zM732.3 864.1h3.3v3.3h-3.3zM585.3 861.4h3.3v3.3h-3.3zM682.4 861.4h3.3v3.3h-3.3zM653.5 850.9h3.3v3.3h-3.3zM748.0 850.9h3.3v3.3h-3.3zM335.9 848.3h3.3v3.3h-3.3zM490.8 848.3h3.3v3.3h-3.3zM335.9 845.7h3.3v3.3h-3.3zM498.7 845.7h3.3v3.3h-3.3zM700.8 843.1h3.3v3.3h-3.3zM719.1 843.1h3.3v3.3h-3.3zM698.1 840.4h3.3v3.3h-3.3zM341.2 837.8h3.3v3.3h-3.3zM362.2 837.8h3.3v3.3h-3.3zM364.8 832.6h3.3v3.3h-3.3zM380.5 832.6h3.3v3.3h-3.3zM307.0 829.9h3.3v3.3h-3.3zM727.0 824.7h3.3v3.3h-3.3zM690.3 790.6h3.3v3.3h-3.3zM700.9 995.7h3.3v3.3h-3.3zM711.0 995.7h3.3v3.3h-3.3zM723.8 995.7h3.3v3.3h-3.3zM733.5 995.7h3.3v3.3h-3.3zM697.5 505.0h3.3v3.3h-3.3zM668.5 669.5h3.3v3.3h-3.3zM730.5 708.5h3.3v3.3h-3.3zM743.5 797.5h3.3v3.3h-3.3zM698.5 827.5h3.3v3.3h-3.3zM784.5 866.5h3.3v3.3h-3.3zM366.5 836.5h3.3v3.3h-3.3zM382.5 844.5h3.3v3.3h-3.3zM422.5 839.5h3.3v3.3h-3.3zM471.5 850.5h3.3v3.3h-3.3zM351.5 870.5h3.3v3.3h-3.3zM407.5 878.5h3.3v3.3h-3.3zM688.5 866.5h3.3v3.3h-3.3zM673.5 864.5h3.3v3.3h-3.3zM736.5 856.5h3.3v3.3h-3.3zM750.5 883.5h3.3v3.3h-3.3zM688.5 903.5h3.3v3.3h-3.3zM328.5 898.5h3.3v3.3h-3.3zM393.5 923.5h3.3v3.3h-3.3zM503.5 903.5h3.3v3.3h-3.3z"/>
<path fill="#002cff" d="M364.8 1045.2h3.3v3.3h-3.3zM632.5 1042.6h3.3v3.3h-3.3zM664.0 1042.6h3.3v3.3h-3.3zM338.5 1039.9h3.3v3.3h-3.3zM530.1 1039.9h3.3v3.3h-3.3zM637.8 1039.9h3.3v3.3h-3.3zM640.4 1039.9h3.3v3.3h-3.3zM645.6 1039.9h3.3v3.3h-3.3zM685.0 1039.9h3.3v3.3h-3.3zM333.3 1037.3h3.3v3.3h-3.3zM335.9 1037.3h3.3v3.3h-3.3zM624.6 1037.3h3.3v3.3h-3.3zM632.5 1037.3h3.3v3.3h-3.3zM635.1 1037.3h3.3v3.3h-3.3zM700.8 1037.3h3.3v3.3h-3.3zM383.2 1034.7h3.3v3.3h-3.3zM391.0 1034.7h3.3v3.3h-3.3zM401.5 1034.7h3.3v3.3h-3.3zM433.0 1034.7h3.3v3.3h-3.3zM443.5 1034.7h3.3v3.3h-3.3zM454.0 1034.7h3.3v3.3h-3.3zM475.0 1034.7h3.3v3.3h-3.3zM480.3 1034.7h3.3v3.3h-3.3zM493.4 1034.7h3.3v3.3h-3.3zM514.4 1034.7h3.3v3.3h-3.3zM517.0 1034.7h3.3v3.3h-3.3zM624.6 1034.7h3.3v3.3h-3.3zM629.9 1034.7h3.3v3.3h-3.3zM385.8 1032.1h3.3v3.3h-3.3zM388.4 1032.1h3.3v3.3h-3.3zM393.7 1032.1h3.3v3.3h-3.3zM396.3 1032.1h3.3v3.3h-3.3zM456.7 1032.1h3.3v3.3h-3.3zM501.3 1032.1h3.3v3.3h-3.3zM503.9 1032.1h3.3v3.3h-3.3zM514.4 1032.1h3.3v3.3h-3.3zM532.8 1032.1h3.3v3.3h-3.3zM543.3 1032.1h3.3v3.3h-3.3zM574.8 1032.1h3.3v3.3h-3.3zM627.3 1032.1h3.3v3.3h-3.3zM388.4 1029.4h3.3v3.3h-3.3zM396.3 1029.4h3.3v3.3h-3.3zM398.9 1029.4h3.3v3.3h-3.3zM404.2 1029.4h3.3v3.3h-3.3zM446.2 1029.4h3.3v3.3h-3.3zM451.4 1029.4h3.3v3.3h-3.3zM477.7 1029.4h3.3v3.3h-3.3zM485.5 1029.4h3.3v3.3h-3.3zM503.9 1029.4h3.3v3.3h-3.3zM538.0 1029.4h3.3v3.3h-3.3zM585.3 1029.4h3.3v3.3h-3.3zM622.0 1029.4h3.3v3.3h-3.3zM627.3 1029.4h3.3v3.3h-3.3zM629.9 1029.4h3.3v3.3h-3.3zM406.8 1026.8h3.3v3.3h-3.3zM409.4 1026.8h3.3v3.3h-3.3zM419.9 1026.8h3.3v3.3h-3.3zM422.5 1026.8h3.3v3.3h-3.3zM425.2 1026.8h3.3v3.3h-3.3zM433.0 1026.8h3.3v3.3h-3.3zM438.3 1026.8h3.3v3.3h-3.3zM443.5 1026.8h3.3v3.3h-3.3zM461.9 1026.8h3.3v3.3h-3.3zM472.4 1026.8h3.3v3.3h-3.3zM530.1 1026.8h3.3v3.3h-3.3zM614.1 1026.8h3.3v3.3h-3.3zM622.0 1026.8h3.3v3.3h-3.3zM409.4 1024.2h3.3v3.3h-3.3zM414.7 1024.2h3.3v3.3h-3.3zM417.3 1024.2h3.3v3.3h-3.3zM427.8 1024.2h3.3v3.3h-3.3zM438.3 1024.2h3.3v3.3h-3.3zM456.7 1024.2h3.3v3.3h-3.3zM461.9 1024.2h3.3v3.3h-3.3zM477.7 1024.2h3.3v3.3h-3.3zM480.3 1024.2h3.3v3.3h-3.3zM488.2 1024.2h3.3v3.3h-3.3zM545.9 1024.2h3.3v3.3h-3.3zM393.7 1021.6h3.3v3.3h-3.3zM422.5 1021.6h3.3v3.3h-3.3zM425.2 1021.6h3.3v3.3h-3.3zM427.8 1021.6h3.3v3.3h-3.3zM443.5 1021.6h3.3v3.3h-3.3zM467.2 1021.6h3.3v3.3h-3.3zM475.0 1021.6h3.3v3.3h-3.3zM506.5 1021.6h3.3v3.3h-3.3zM509.2 1021.6h3.3v3.3h-3.3zM511.8 1021.6h3.3v3.3h-3.3zM532.8 1021.6h3.3v3.3h-3.3zM698.1 1021.6h3.3v3.3h-3.3zM412.0 1018.9h3.3v3.3h-3.3zM417.3 1018.9h3.3v3.3h-3.3zM422.5 1018.9h3.3v3.3h-3.3zM425.2 1018.9h3.3v3.3h-3.3zM438.3 1018.9h3.3v3.3h-3.3zM440.9 1018.9h3.3v3.3h-3.3zM443.5 1018.9h3.3v3.3h-3.3zM472.4 1018.9h3.3v3.3h-3.3zM488.2 1018.9h3.3v3.3h-3.3zM496.0 1018.9h3.3v3.3h-3.3zM501.3 1018.9h3.3v3.3h-3.3zM514.4 1018.9h3.3v3.3h-3.3zM624.6 1018.9h3.3v3.3h-3.3zM396.3 1016.3h3.3v3.3h-3.3zM409.4 1016.3h3.3v3.3h-3.3zM412.0 1016.3h3.3v3.3h-3.3zM419.9 1016.3h3.3v3.3h-3.3zM427.8 1016.3h3.3v3.3h-3.3zM430.4 1016.3h3.3v3.3h-3.3zM433.0 1016.3h3.3v3.3h-3.3zM469.8 1016.3h3.3v3.3h-3.3zM488.2 1016.3h3.3v3.3h-3.3zM490.8 1016.3h3.3v3.3h-3.3zM320.2 1013.7h3.3v3.3h-3.3zM388.4 1013.7h3.3v3.3h-3.3zM412.0 1013.7h3.3v3.3h-3.3zM422.5 1013.7h3.3v3.3h-3.3zM475.0 1013.7h3.3v3.3h-3.3zM524.9 1013.7h3.3v3.3h-3.3zM391.0 1011.1h3.3v3.3h-3.3zM393.7 1011.1h3.3v3.3h-3.3zM401.5 1011.1h3.3v3.3h-3.3zM404.2 1011.1h3.3v3.3h-3.3zM425.2 1011.1h3.3v3.3h-3.3zM708.6 1011.1h3.3v3.3h-3.3zM435.7 1008.4h3.3v3.3h-3.3zM514.4 1008.4h3.3v3.3h-3.3zM685.0 1008.4h3.3v3.3h-3.3zM690.3 1008.4h3.3v3.3h-3.3zM393.7 1005.8h3.3v3.3h-3.3zM538.0 1005.8h3.3v3.3h-3.3zM325.4 1003.2h3.3v3.3h-3.3zM377.9 1003.2h3.3v3.3h-3.3zM307.0 1000.6h3.3v3.3h-3.3zM317.5 1000.6h3.3v3.3h-3.3zM322.8 1000.6h3.3v3.3h-3.3zM414.7 1000.6h3.3v3.3h-3.3zM461.9 1000.6h3.3v3.3h-3.3zM619.4 1000.6h3.3v3.3h-3.3zM661.4 1000.6h3.3v3.3h-3.3zM669.3 1000.6h3.3v3.3h-3.3zM338.5 997.9h3.3v3.3h-3.3zM370.0 997.9h3.3v3.3h-3.3zM574.8 997.9h3.3v3.3h-3.3zM354.3 995.3h3.3v3.3h-3.3zM380.5 995.3h3.3v3.3h-3.3zM475.0 995.3h3.3v3.3h-3.3zM614.1 995.3h3.3v3.3h-3.3zM674.5 995.3h3.3v3.3h-3.3zM322.8 992.7h3.3v3.3h-3.3zM341.2 992.7h3.3v3.3h-3.3zM351.7 992.7h3.3v3.3h-3.3zM320.2 990.1h3.3v3.3h-3.3zM370.0 990.1h3.3v3.3h-3.3zM380.5 990.1h3.3v3.3h-3.3zM530.1 990.1h3.3v3.3h-3.3zM346.4 987.4h3.3v3.3h-3.3zM548.5 987.4h3.3v3.3h-3.3zM669.3 987.4h3.3v3.3h-3.3zM572.1 984.8h3.3v3.3h-3.3zM580.0 984.8h3.3v3.3h-3.3zM359.5 982.2h3.3v3.3h-3.3zM527.5 982.2h3.3v3.3h-3.3zM548.5 982.2h3.3v3.3h-3.3zM585.3 982.2h3.3v3.3h-3.3zM593.1 982.2h3.3v3.3h-3.3zM595.8 982.2h3.3v3.3h-3.3zM616.8 982.2h3.3v3.3h-3.3zM375.3 979.6h3.3v3.3h-3.3zM540.6 979.6h3.3v3.3h-3.3zM553.8 979.6h3.3v3.3h-3.3zM574.8 979.6h3.3v3.3h-3.3zM582.6 979.6h3.3v3.3h-3.3zM598.4 979.6h3.3v3.3h-3.3zM611.5 979.6h3.3v3.3h-3.3zM616.8 979.6h3.3v3.3h-3.3zM624.6 979.6h3.3v3.3h-3.3zM569.5 976.9h3.3v3.3h-3.3zM572.1 976.9h3.3v3.3h-3.3zM577.4 976.9h3.3v3.3h-3.3zM587.9 976.9h3.3v3.3h-3.3zM608.9 976.9h3.3v3.3h-3.3zM611.5 976.9h3.3v3.3h-3.3zM614.1 976.9h3.3v3.3h-3.3zM524.9 974.3h3.3v3.3h-3.3zM545.9 974.3h3.3v3.3h-3.3zM553.8 974.3h3.3v3.3h-3.3zM561.6 974.3h3.3v3.3h-3.3zM606.3 974.3h3.3v3.3h-3.3zM614.1 974.3h3.3v3.3h-3.3zM616.8 974.3h3.3v3.3h-3.3zM627.3 974.3h3.3v3.3h-3.3zM645.6 974.3h3.3v3.3h-3.3zM535.4 971.7h3.3v3.3h-3.3zM540.6 971.7h3.3v3.3h-3.3zM543.3 971.7h3.3v3.3h-3.3zM548.5 971.7h3.3v3.3h-3.3zM616.8 971.7h3.3v3.3h-3.3zM632.5 971.7h3.3v3.3h-3.3zM530.1 969.1h3.3v3.3h-3.3zM538.0 969.1h3.3v3.3h-3.3zM545.9 969.1h3.3v3.3h-3.3zM551.1 969.1h3.3v3.3h-3.3zM622.0 969.1h3.3v3.3h-3.3zM627.3 969.1h3.3v3.3h-3.3zM643.0 969.1h3.3v3.3h-3.3zM485.5 966.4h3.3v3.3h-3.3zM540.6 966.4h3.3v3.3h-3.3zM548.5 966.4h3.3v3.3h-3.3zM622.0 966.4h3.3v3.3h-3.3zM624.6 966.4h3.3v3.3h-3.3zM627.3 966.4h3.3v3.3h-3.3zM632.5 966.4h3.3v3.3h-3.3zM674.5 966.4h3.3v3.3h-3.3zM540.6 963.8h3.3v3.3h-3.3zM622.0 963.8h3.3v3.3h-3.3zM624.6 963.8h3.3v3.3h-3.3zM627.3 963.8h3.3v3.3h-3.3zM540.6 961.2h3.3v3.3h-3.3zM624.6 961.2h3.3v3.3h-3.3zM627.3 961.2h3.3v3.3h-3.3zM687.6 961.2h3.3v3.3h-3.3zM551.1 958.6h3.3v3.3h-3.3zM553.8 958.6h3.3v3.3h-3.3zM561.6 958.6h3.3v3.3h-3.3zM566.9 958.6h3.3v3.3h-3.3zM622.0 958.6h3.3v3.3h-3.3zM627.3 958.6h3.3v3.3h-3.3zM540.6 955.9h3.3v3.3h-3.3zM543.3 955.9h3.3v3.3h-3.3zM572.1 955.9h3.3v3.3h-3.3zM577.4 955.9h3.3v3.3h-3.3zM582.6 955.9h3.3v3.3h-3.3zM593.1 955.9h3.3v3.3h-3.3zM601.0 955.9h3.3v3.3h-3.3zM608.9 955.9h3.3v3.3h-3.3zM611.5 955.9h3.3v3.3h-3.3zM614.1 955.9h3.3v3.3h-3.3zM593.1 953.3h3.3v3.3h-3.3zM611.5 953.3h3.3v3.3h-3.3zM632.5 953.3h3.3v3.3h-3.3zM551.1 950.7h3.3v3.3h-3.3zM566.9 950.7h3.3v3.3h-3.3zM572.1 950.7h3.3v3.3h-3.3zM593.1 950.7h3.3v3.3h-3.3zM608.9 950.7h3.3v3.3h-3.3zM619.4 950.7h3.3v3.3h-3.3zM545.9 948.1h3.3v3.3h-3.3zM551.1 948.1h3.3v3.3h-3.3zM577.4 948.1h3.3v3.3h-3.3zM580.0 948.1h3.3v3.3h-3.3zM614.1 948.1h3.3v3.3h-3.3zM616.8 948.1h3.3v3.3h-3.3zM619.4 948.1h3.3v3.3h-3.3zM524.9 945.4h3.3v3.3h-3.3zM559.0 945.4h3.3v3.3h-3.3zM561.6 945.4h3.3v3.3h-3.3zM582.6 945.4h3.3v3.3h-3.3zM585.3 945.4h3.3v3.3h-3.3zM590.5 945.4h3.3v3.3h-3.3zM601.0 945.4h3.3v3.3h-3.3zM603.6 945.4h3.3v3.3h-3.3zM608.9 945.4h3.3v3.3h-3.3zM551.1 942.8h3.3v3.3h-3.3zM574.8 942.8h3.3v3.3h-3.3zM580.0 942.8h3.3v3.3h-3.3zM585.3 942.8h3.3v3.3h-3.3zM601.0 942.8h3.3v3.3h-3.3zM603.6 942.8h3.3v3.3h-3.3zM614.1 942.8h3.3v3.3h-3.3zM635.1 942.8h3.3v3.3h-3.3zM690.3 942.8h3.3v3.3h-3.3zM545.9 940.2h3.3v3.3h-3.3zM559.0 940.2h3.3v3.3h-3.3zM561.6 940.2h3.3v3.3h-3.3zM580.0 940.2h3.3v3.3h-3.3zM587.9 940.2h3.3v3.3h-3.3zM616.8 940.2h3.3v3.3h-3.3zM695.5 940.2h3.3v3.3h-3.3zM577.4 937.6h3.3v3.3h-3.3zM580.0 937.6h3.3v3.3h-3.3zM587.9 937.6h3.3v3.3h-3.3zM598.4 937.6h3.3v3.3h-3.3zM603.6 937.6h3.3v3.3h-3.3zM608.9 937.6h3.3v3.3h-3.3zM559.0 934.9h3.3v3.3h-3.3zM603.6 934.9h3.3v3.3h-3.3zM548.5 932.3h3.3v3.3h-3.3zM553.8 932.3h3.3v3.3h-3.3zM561.6 932.3h3.3v3.3h-3.3zM574.8 932.3h3.3v3.3h-3.3zM582.6 932.3h3.3v3.3h-3.3zM590.5 932.3h3.3v3.3h-3.3zM595.8 932.3h3.3v3.3h-3.3zM582.6 929.7h3.3v3.3h-3.3zM587.9 929.7h3.3v3.3h-3.3zM595.8 929.7h3.3v3.3h-3.3zM598.4 929.7h3.3v3.3h-3.3zM611.5 929.7h3.3v3.3h-3.3zM580.0 927.1h3.3v3.3h-3.3zM590.5 927.1h3.3v3.3h-3.3zM608.9 927.1h3.3v3.3h-3.3zM595.8 924.4h3.3v3.3h-3.3zM616.8 924.4h3.3v3.3h-3.3zM574.8 921.8h3.3v3.3h-3.3zM582.6 921.8h3.3v3.3h-3.3zM595.8 921.8h3.3v3.3h-3.3zM598.4 921.8h3.3v3.3h-3.3zM690.3 921.8h3.3v3.3h-3.3zM566.9 919.2h3.3v3.3h-3.3zM574.8 919.2h3.3v3.3h-3.3zM593.1 919.2h3.3v3.3h-3.3zM598.4 919.2h3.3v3.3h-3.3zM695.5 919.2h3.3v3.3h-3.3zM569.5 916.6h3.3v3.3h-3.3zM590.5 916.6h3.3v3.3h-3.3zM580.0 913.9h3.3v3.3h-3.3zM614.1 913.9h3.3v3.3h-3.3zM572.1 908.7h3.3v3.3h-3.3zM574.8 908.7h3.3v3.3h-3.3zM582.6 903.4h3.3v3.3h-3.3zM574.8 900.8h3.3v3.3h-3.3zM580.0 900.8h3.3v3.3h-3.3zM606.3 900.8h3.3v3.3h-3.3zM580.0 898.2h3.3v3.3h-3.3zM585.3 898.2h3.3v3.3h-3.3zM577.4 895.6h3.3v3.3h-3.3zM574.8 892.9h3.3v3.3h-3.3zM593.1 892.9h3.3v3.3h-3.3zM666.6 885.1h3.3v3.3h-3.3zM695.5 864.1h3.3v3.3h-3.3z"/>
<path fill="#0058ff" d="M656.1 1042.6h3.3v3.3h-3.3zM356.9 1039.9h3.3v3.3h-3.3zM364.8 1039.9h3.3v3.3h-3.3zM682.4 1039.9h3.3v3.3h-3.3zM377.9 1037.3h3.3v3.3h-3.3zM632.5 1034.7h3.3v3.3h-3.3zM493.4 1032.1h3.3v3.3h-3.3zM519.6 1032.1h3.3v3.3h-3.3zM530.1 1032.1h3.3v3.3h-3.3zM635.1 1032.1h3.3v3.3h-3.3zM695.5 1032.1h3.3v3.3h-3.3zM391.0 1029.4h3.3v3.3h-3.3zM393.7 1029.4h3.3v3.3h-3.3zM401.5 1029.4h3.3v3.3h-3.3zM406.8 1029.4h3.3v3.3h-3.3zM433.0 1029.4h3.3v3.3h-3.3zM469.8 1029.4h3.3v3.3h-3.3zM501.3 1029.4h3.3v3.3h-3.3zM624.6 1029.4h3.3v3.3h-3.3zM388.4 1026.8h3.3v3.3h-3.3zM391.0 1026.8h3.3v3.3h-3.3zM430.4 1026.8h3.3v3.3h-3.3zM448.8 1026.8h3.3v3.3h-3.3zM519.6 1026.8h3.3v3.3h-3.3zM619.4 1026.8h3.3v3.3h-3.3zM404.2 1024.2h3.3v3.3h-3.3zM406.8 1024.2h3.3v3.3h-3.3zM425.2 1024.2h3.3v3.3h-3.3zM467.2 1024.2h3.3v3.3h-3.3zM627.3 1024.2h3.3v3.3h-3.3zM695.5 1024.2h3.3v3.3h-3.3zM406.8 1021.6h3.3v3.3h-3.3zM409.4 1021.6h3.3v3.3h-3.3zM412.0 1021.6h3.3v3.3h-3.3zM430.4 1021.6h3.3v3.3h-3.3zM446.2 1021.6h3.3v3.3h-3.3zM448.8 1021.6h3.3v3.3h-3.3zM456.7 1021.6h3.3v3.3h-3.3zM322.8 1018.9h3.3v3.3h-3.3zM401.5 1018.9h3.3v3.3h-3.3zM404.2 1018.9h3.3v3.3h-3.3zM406.8 1018.9h3.3v3.3h-3.3zM456.7 1018.9h3.3v3.3h-3.3zM629.9 1018.9h3.3v3.3h-3.3zM393.7 1016.3h3.3v3.3h-3.3zM401.5 1016.3h3.3v3.3h-3.3zM404.2 1016.3h3.3v3.3h-3.3zM406.8 1016.3h3.3v3.3h-3.3zM425.2 1016.3h3.3v3.3h-3.3zM695.5 1016.3h3.3v3.3h-3.3zM393.7 1013.7h3.3v3.3h-3.3zM398.9 1013.7h3.3v3.3h-3.3zM401.5 1013.7h3.3v3.3h-3.3zM692.9 1013.7h3.3v3.3h-3.3zM383.2 1008.4h3.3v3.3h-3.3zM640.4 1008.4h3.3v3.3h-3.3zM687.6 1008.4h3.3v3.3h-3.3zM333.3 1005.8h3.3v3.3h-3.3zM679.8 1005.8h3.3v3.3h-3.3zM338.5 1003.2h3.3v3.3h-3.3zM648.3 1003.2h3.3v3.3h-3.3zM677.1 1003.2h3.3v3.3h-3.3zM383.2 1000.6h3.3v3.3h-3.3zM587.9 1000.6h3.3v3.3h-3.3zM674.5 1000.6h3.3v3.3h-3.3zM343.8 997.9h3.3v3.3h-3.3zM351.7 997.9h3.3v3.3h-3.3zM356.9 997.9h3.3v3.3h-3.3zM674.5 997.9h3.3v3.3h-3.3zM359.5 987.4h3.3v3.3h-3.3zM598.4 987.4h3.3v3.3h-3.3zM603.6 982.2h3.3v3.3h-3.3zM614.1 982.2h3.3v3.3h-3.3zM564.3 979.6h3.3v3.3h-3.3zM566.9 979.6h3.3v3.3h-3.3zM572.1 979.6h3.3v3.3h-3.3zM590.5 979.6h3.3v3.3h-3.3zM603.6 979.6h3.3v3.3h-3.3zM551.1 976.9h3.3v3.3h-3.3zM559.0 976.9h3.3v3.3h-3.3zM561.6 976.9h3.3v3.3h-3.3zM564.3 976.9h3.3v3.3h-3.3zM580.0 976.9h3.3v3.3h-3.3zM585.3 976.9h3.3v3.3h-3.3zM590.5 976.9h3.3v3.3h-3.3zM595.8 976.9h3.3v3.3h-3.3zM598.4 976.9h3.3v3.3h-3.3zM603.6 976.9h3.3v3.3h-3.3zM606.3 976.9h3.3v3.3h-3.3zM619.4 976.9h3.3v3.3h-3.3zM543.3 974.3h3.3v3.3h-3.3zM548.5 974.3h3.3v3.3h-3.3zM564.3 974.3h3.3v3.3h-3.3zM601.0 974.3h3.3v3.3h-3.3zM611.5 974.3h3.3v3.3h-3.3zM619.4 974.3h3.3v3.3h-3.3zM545.9 971.7h3.3v3.3h-3.3zM551.1 971.7h3.3v3.3h-3.3zM559.0 971.7h3.3v3.3h-3.3zM561.6 971.7h3.3v3.3h-3.3zM566.9 971.7h3.3v3.3h-3.3zM569.5 971.7h3.3v3.3h-3.3zM582.6 971.7h3.3v3.3h-3.3zM603.6 971.7h3.3v3.3h-3.3zM608.9 971.7h3.3v3.3h-3.3zM614.1 971.7h3.3v3.3h-3.3zM619.4 971.7h3.3v3.3h-3.3zM548.5 969.1h3.3v3.3h-3.3zM553.8 969.1h3.3v3.3h-3.3zM559.0 969.1h3.3v3.3h-3.3zM566.9 969.1h3.3v3.3h-3.3zM572.1 969.1h3.3v3.3h-3.3zM635.1 969.1h3.3v3.3h-3.3zM637.8 969.1h3.3v3.3h-3.3zM532.8 966.4h3.3v3.3h-3.3zM556.4 966.4h3.3v3.3h-3.3zM574.8 966.4h3.3v3.3h-3.3zM582.6 966.4h3.3v3.3h-3.3zM608.9 966.4h3.3v3.3h-3.3zM614.1 966.4h3.3v3.3h-3.3zM616.8 966.4h3.3v3.3h-3.3zM619.4 966.4h3.3v3.3h-3.3zM629.9 966.4h3.3v3.3h-3.3zM545.9 963.8h3.3v3.3h-3.3zM553.8 963.8h3.3v3.3h-3.3zM572.1 963.8h3.3v3.3h-3.3zM580.0 963.8h3.3v3.3h-3.3zM598.4 963.8h3.3v3.3h-3.3zM616.8 963.8h3.3v3.3h-3.3zM619.4 963.8h3.3v3.3h-3.3zM632.5 963.8h3.3v3.3h-3.3zM548.5 961.2h3.3v3.3h-3.3zM551.1 961.2h3.3v3.3h-3.3zM561.6 961.2h3.3v3.3h-3.3zM564.3 961.2h3.3v3.3h-3.3zM566.9 961.2h3.3v3.3h-3.3zM574.8 961.2h3.3v3.3h-3.3zM616.8 961.2h3.3v3.3h-3.3zM619.4 961.2h3.3v3.3h-3.3zM622.0 961.2h3.3v3.3h-3.3zM635.1 961.2h3.3v3.3h-3.3zM524.9 958.6h3.3v3.3h-3.3zM543.3 958.6h3.3v3.3h-3.3zM556.4 958.6h3.3v3.3h-3.3zM559.0 958.6h3.3v3.3h-3.3zM564.3 958.6h3.3v3.3h-3.3zM590.5 958.6h3.3v3.3h-3.3zM593.1 958.6h3.3v3.3h-3.3zM598.4 958.6h3.3v3.3h-3.3zM603.6 958.6h3.3v3.3h-3.3zM611.5 958.6h3.3v3.3h-3.3zM616.8 958.6h3.3v3.3h-3.3zM637.8 958.6h3.3v3.3h-3.3zM553.8 955.9h3.3v3.3h-3.3zM566.9 955.9h3.3v3.3h-3.3zM574.8 955.9h3.3v3.3h-3.3zM587.9 955.9h3.3v3.3h-3.3zM590.5 955.9h3.3v3.3h-3.3zM595.8 955.9h3.3v3.3h-3.3zM598.4 955.9h3.3v3.3h-3.3zM619.4 955.9h3.3v3.3h-3.3zM622.0 955.9h3.3v3.3h-3.3zM632.5 955.9h3.3v3.3h-3.3zM569.5 953.3h3.3v3.3h-3.3zM572.1 953.3h3.3v3.3h-3.3zM582.6 953.3h3.3v3.3h-3.3zM590.5 953.3h3.3v3.3h-3.3zM595.8 953.3h3.3v3.3h-3.3zM603.6 953.3h3.3v3.3h-3.3zM606.3 953.3h3.3v3.3h-3.3zM564.3 950.7h3.3v3.3h-3.3zM569.5 950.7h3.3v3.3h-3.3zM582.6 950.7h3.3v3.3h-3.3zM603.6 950.7h3.3v3.3h-3.3zM559.0 948.1h3.3v3.3h-3.3zM603.6 948.1h3.3v3.3h-3.3zM611.5 948.1h3.3v3.3h-3.3zM569.5 945.4h3.3v3.3h-3.3zM580.0 945.4h3.3v3.3h-3.3zM587.9 945.4h3.3v3.3h-3.3zM611.5 945.4h3.3v3.3h-3.3zM695.5 945.4h3.3v3.3h-3.3zM556.4 942.8h3.3v3.3h-3.3zM595.8 942.8h3.3v3.3h-3.3zM611.5 942.8h3.3v3.3h-3.3zM566.9 940.2h3.3v3.3h-3.3zM569.5 940.2h3.3v3.3h-3.3zM585.3 940.2h3.3v3.3h-3.3zM593.1 940.2h3.3v3.3h-3.3zM595.8 940.2h3.3v3.3h-3.3zM614.1 940.2h3.3v3.3h-3.3zM574.8 937.6h3.3v3.3h-3.3zM593.1 934.9h3.3v3.3h-3.3zM587.9 932.3h3.3v3.3h-3.3zM559.0 929.7h3.3v3.3h-3.3zM601.0 929.7h3.3v3.3h-3.3zM580.0 924.4h3.3v3.3h-3.3zM585.3 924.4h3.3v3.3h-3.3zM587.9 921.8h3.3v3.3h-3.3zM572.1 919.2h3.3v3.3h-3.3zM590.5 919.2h3.3v3.3h-3.3zM593.1 913.9h3.3v3.3h-3.3zM601.0 913.9h3.3v3.3h-3.3zM582.6 911.3h3.3v3.3h-3.3zM561.6 903.4h3.3v3.3h-3.3z"/>
<path fill="#007eff" d="M658.8 1042.6h3.3v3.3h-3.3zM349.0 1039.9h3.3v3.3h-3.3zM370.0 1037.3h3.3v3.3h-3.3zM372.7 1037.3h3.3v3.3h-3.3zM643.0 1037.3h3.3v3.3h-3.3zM682.4 1037.3h3.3v3.3h-3.3zM330.7 1034.7h3.3v3.3h-3.3zM635.1 1034.7h3.3v3.3h-3.3zM383.2 1032.1h3.3v3.3h-3.3zM514.4 1029.4h3.3v3.3h-3.3zM393.7 1026.8h3.3v3.3h-3.3zM396.3 1026.8h3.3v3.3h-3.3zM401.5 1026.8h3.3v3.3h-3.3zM427.8 1026.8h3.3v3.3h-3.3zM501.3 1026.8h3.3v3.3h-3.3zM624.6 1026.8h3.3v3.3h-3.3zM629.9 1026.8h3.3v3.3h-3.3zM698.1 1026.8h3.3v3.3h-3.3zM320.2 1024.2h3.3v3.3h-3.3zM391.0 1024.2h3.3v3.3h-3.3zM393.7 1024.2h3.3v3.3h-3.3zM396.3 1024.2h3.3v3.3h-3.3zM401.5 1024.2h3.3v3.3h-3.3zM503.9 1024.2h3.3v3.3h-3.3zM322.8 1021.6h3.3v3.3h-3.3zM388.4 1021.6h3.3v3.3h-3.3zM391.0 1021.6h3.3v3.3h-3.3zM401.5 1021.6h3.3v3.3h-3.3zM404.2 1021.6h3.3v3.3h-3.3zM414.7 1021.6h3.3v3.3h-3.3zM485.5 1021.6h3.3v3.3h-3.3zM627.3 1021.6h3.3v3.3h-3.3zM388.4 1018.9h3.3v3.3h-3.3zM391.0 1018.9h3.3v3.3h-3.3zM393.7 1018.9h3.3v3.3h-3.3zM398.9 1018.9h3.3v3.3h-3.3zM464.5 1018.9h3.3v3.3h-3.3zM388.4 1016.3h3.3v3.3h-3.3zM398.9 1016.3h3.3v3.3h-3.3zM692.9 1016.3h3.3v3.3h-3.3zM690.3 1011.1h3.3v3.3h-3.3zM640.4 1005.8h3.3v3.3h-3.3zM687.6 1005.8h3.3v3.3h-3.3zM383.2 1003.2h3.3v3.3h-3.3zM653.5 1003.2h3.3v3.3h-3.3zM671.9 1003.2h3.3v3.3h-3.3zM679.8 1003.2h3.3v3.3h-3.3zM364.8 1000.6h3.3v3.3h-3.3zM370.0 1000.6h3.3v3.3h-3.3zM671.9 997.9h3.3v3.3h-3.3zM587.9 982.2h3.3v3.3h-3.3zM595.8 979.6h3.3v3.3h-3.3zM608.9 979.6h3.3v3.3h-3.3zM553.8 976.9h3.3v3.3h-3.3zM566.9 976.9h3.3v3.3h-3.3zM574.8 976.9h3.3v3.3h-3.3zM582.6 976.9h3.3v3.3h-3.3zM593.1 976.9h3.3v3.3h-3.3zM629.9 976.9h3.3v3.3h-3.3zM556.4 974.3h3.3v3.3h-3.3zM569.5 974.3h3.3v3.3h-3.3zM572.1 974.3h3.3v3.3h-3.3zM577.4 974.3h3.3v3.3h-3.3zM585.3 974.3h3.3v3.3h-3.3zM590.5 974.3h3.3v3.3h-3.3zM622.0 974.3h3.3v3.3h-3.3zM632.5 974.3h3.3v3.3h-3.3zM532.8 971.7h3.3v3.3h-3.3zM572.1 971.7h3.3v3.3h-3.3zM574.8 971.7h3.3v3.3h-3.3zM580.0 971.7h3.3v3.3h-3.3zM587.9 971.7h3.3v3.3h-3.3zM593.1 971.7h3.3v3.3h-3.3zM598.4 971.7h3.3v3.3h-3.3zM611.5 971.7h3.3v3.3h-3.3zM622.0 971.7h3.3v3.3h-3.3zM627.3 971.7h3.3v3.3h-3.3zM629.9 971.7h3.3v3.3h-3.3zM561.6 969.1h3.3v3.3h-3.3zM564.3 969.1h3.3v3.3h-3.3zM569.5 969.1h3.3v3.3h-3.3zM577.4 969.1h3.3v3.3h-3.3zM587.9 969.1h3.3v3.3h-3.3zM593.1 969.1h3.3v3.3h-3.3zM598.4 969.1h3.3v3.3h-3.3zM601.0 969.1h3.3v3.3h-3.3zM603.6 969.1h3.3v3.3h-3.3zM606.3 969.1h3.3v3.3h-3.3zM616.8 969.1h3.3v3.3h-3.3zM629.9 969.1h3.3v3.3h-3.3zM553.8 966.4h3.3v3.3h-3.3zM559.0 966.4h3.3v3.3h-3.3zM566.9 966.4h3.3v3.3h-3.3zM572.1 966.4h3.3v3.3h-3.3zM577.4 966.4h3.3v3.3h-3.3zM606.3 966.4h3.3v3.3h-3.3zM543.3 963.8h3.3v3.3h-3.3zM561.6 963.8h3.3v3.3h-3.3zM564.3 963.8h3.3v3.3h-3.3zM566.9 963.8h3.3v3.3h-3.3zM569.5 963.8h3.3v3.3h-3.3zM582.6 963.8h3.3v3.3h-3.3zM585.3 963.8h3.3v3.3h-3.3zM590.5 963.8h3.3v3.3h-3.3zM601.0 963.8h3.3v3.3h-3.3zM603.6 963.8h3.3v3.3h-3.3zM608.9 963.8h3.3v3.3h-3.3zM611.5 963.8h3.3v3.3h-3.3zM532.8 961.2h3.3v3.3h-3.3zM553.8 961.2h3.3v3.3h-3.3zM559.0 961.2h3.3v3.3h-3.3zM569.5 961.2h3.3v3.3h-3.3zM577.4 961.2h3.3v3.3h-3.3zM580.0 961.2h3.3v3.3h-3.3zM582.6 961.2h3.3v3.3h-3.3zM601.0 961.2h3.3v3.3h-3.3zM603.6 961.2h3.3v3.3h-3.3zM608.9 961.2h3.3v3.3h-3.3zM614.1 961.2h3.3v3.3h-3.3zM569.5 958.6h3.3v3.3h-3.3zM572.1 958.6h3.3v3.3h-3.3zM582.6 958.6h3.3v3.3h-3.3zM585.3 958.6h3.3v3.3h-3.3zM595.8 958.6h3.3v3.3h-3.3zM601.0 958.6h3.3v3.3h-3.3zM619.4 958.6h3.3v3.3h-3.3zM530.1 955.9h3.3v3.3h-3.3zM548.5 955.9h3.3v3.3h-3.3zM559.0 955.9h3.3v3.3h-3.3zM585.3 955.9h3.3v3.3h-3.3zM564.3 953.3h3.3v3.3h-3.3zM580.0 953.3h3.3v3.3h-3.3zM585.3 953.3h3.3v3.3h-3.3zM587.9 953.3h3.3v3.3h-3.3zM566.9 948.1h3.3v3.3h-3.3zM574.8 948.1h3.3v3.3h-3.3zM577.4 942.8h3.3v3.3h-3.3zM601.0 940.2h3.3v3.3h-3.3zM590.5 934.9h3.3v3.3h-3.3zM582.6 924.4h3.3v3.3h-3.3zM585.3 913.9h3.3v3.3h-3.3z"/>
<path fill="#00a4ff" d="M351.7 1039.9h3.3v3.3h-3.3zM359.5 1039.9h3.3v3.3h-3.3zM362.2 1039.9h3.3v3.3h-3.3zM648.3 1039.9h3.3v3.3h-3.3zM666.6 1039.9h3.3v3.3h-3.3zM677.1 1039.9h3.3v3.3h-3.3zM333.3 1034.7h3.3v3.3h-3.3zM377.9 1034.7h3.3v3.3h-3.3zM328.0 1032.1h3.3v3.3h-3.3zM629.9 1032.1h3.3v3.3h-3.3zM692.9 1032.1h3.3v3.3h-3.3zM425.2 1029.4h3.3v3.3h-3.3zM692.9 1029.4h3.3v3.3h-3.3zM695.5 1029.4h3.3v3.3h-3.3zM320.2 1026.8h3.3v3.3h-3.3zM692.9 1026.8h3.3v3.3h-3.3zM322.8 1024.2h3.3v3.3h-3.3zM398.9 1024.2h3.3v3.3h-3.3zM629.9 1024.2h3.3v3.3h-3.3zM698.1 1024.2h3.3v3.3h-3.3zM396.3 1021.6h3.3v3.3h-3.3zM398.9 1021.6h3.3v3.3h-3.3zM632.5 1021.6h3.3v3.3h-3.3zM695.5 1021.6h3.3v3.3h-3.3zM461.9 1018.9h3.3v3.3h-3.3zM632.5 1018.9h3.3v3.3h-3.3zM695.5 1018.9h3.3v3.3h-3.3zM632.5 1016.3h3.3v3.3h-3.3zM328.0 1013.7h3.3v3.3h-3.3zM385.8 1013.7h3.3v3.3h-3.3zM385.8 1011.1h3.3v3.3h-3.3zM637.8 1011.1h3.3v3.3h-3.3zM330.7 1008.4h3.3v3.3h-3.3zM637.8 1008.4h3.3v3.3h-3.3zM330.7 1005.8h3.3v3.3h-3.3zM375.3 1003.2h3.3v3.3h-3.3zM650.9 1003.2h3.3v3.3h-3.3zM661.4 1003.2h3.3v3.3h-3.3zM343.8 1000.6h3.3v3.3h-3.3zM362.2 1000.6h3.3v3.3h-3.3zM577.4 979.6h3.3v3.3h-3.3zM574.8 974.3h3.3v3.3h-3.3zM587.9 974.3h3.3v3.3h-3.3zM593.1 974.3h3.3v3.3h-3.3zM595.8 974.3h3.3v3.3h-3.3zM598.4 974.3h3.3v3.3h-3.3zM603.6 974.3h3.3v3.3h-3.3zM556.4 971.7h3.3v3.3h-3.3zM564.3 971.7h3.3v3.3h-3.3zM577.4 971.7h3.3v3.3h-3.3zM585.3 971.7h3.3v3.3h-3.3zM590.5 971.7h3.3v3.3h-3.3zM595.8 971.7h3.3v3.3h-3.3zM606.3 971.7h3.3v3.3h-3.3zM556.4 969.1h3.3v3.3h-3.3zM580.0 969.1h3.3v3.3h-3.3zM582.6 969.1h3.3v3.3h-3.3zM585.3 969.1h3.3v3.3h-3.3zM590.5 969.1h3.3v3.3h-3.3zM595.8 969.1h3.3v3.3h-3.3zM611.5 969.1h3.3v3.3h-3.3zM561.6 966.4h3.3v3.3h-3.3zM564.3 966.4h3.3v3.3h-3.3zM569.5 966.4h3.3v3.3h-3.3zM585.3 966.4h3.3v3.3h-3.3zM587.9 966.4h3.3v3.3h-3.3zM590.5 966.4h3.3v3.3h-3.3zM593.1 966.4h3.3v3.3h-3.3zM595.8 966.4h3.3v3.3h-3.3zM598.4 966.4h3.3v3.3h-3.3zM601.0 966.4h3.3v3.3h-3.3zM611.5 966.4h3.3v3.3h-3.3zM556.4 963.8h3.3v3.3h-3.3zM559.0 963.8h3.3v3.3h-3.3zM574.8 963.8h3.3v3.3h-3.3zM577.4 963.8h3.3v3.3h-3.3zM587.9 963.8h3.3v3.3h-3.3zM593.1 963.8h3.3v3.3h-3.3zM595.8 963.8h3.3v3.3h-3.3zM606.3 963.8h3.3v3.3h-3.3zM556.4 961.2h3.3v3.3h-3.3zM572.1 961.2h3.3v3.3h-3.3zM585.3 961.2h3.3v3.3h-3.3zM590.5 961.2h3.3v3.3h-3.3zM593.1 961.2h3.3v3.3h-3.3zM595.8 961.2h3.3v3.3h-3.3zM598.4 961.2h3.3v3.3h-3.3zM606.3 961.2h3.3v3.3h-3.3zM629.9 961.2h3.3v3.3h-3.3zM580.0 958.6h3.3v3.3h-3.3zM587.9 958.6h3.3v3.3h-3.3zM606.3 958.6h3.3v3.3h-3.3zM608.9 958.6h3.3v3.3h-3.3zM569.5 955.9h3.3v3.3h-3.3zM580.0 955.9h3.3v3.3h-3.3zM606.3 955.9h3.3v3.3h-3.3zM577.4 953.3h3.3v3.3h-3.3zM606.3 950.7h3.3v3.3h-3.3z"/>
<path fill="#00caff" d="M656.1 1039.9h3.3v3.3h-3.3zM669.3 1039.9h3.3v3.3h-3.3zM674.5 1039.9h3.3v3.3h-3.3zM679.8 1039.9h3.3v3.3h-3.3zM375.3 1037.3h3.3v3.3h-3.3zM685.0 1037.3h3.3v3.3h-3.3zM637.8 1034.7h3.3v3.3h-3.3zM690.3 1034.7h3.3v3.3h-3.3zM632.5 1029.4h3.3v3.3h-3.3zM385.8 1026.8h3.3v3.3h-3.3zM695.5 1026.8h3.3v3.3h-3.3zM385.8 1021.6h3.3v3.3h-3.3zM692.9 1021.6h3.3v3.3h-3.3zM322.8 1016.3h3.3v3.3h-3.3zM325.4 1016.3h3.3v3.3h-3.3zM385.8 1016.3h3.3v3.3h-3.3zM330.7 1013.7h3.3v3.3h-3.3zM690.3 1013.7h3.3v3.3h-3.3zM335.9 1005.8h3.3v3.3h-3.3zM377.9 1005.8h3.3v3.3h-3.3zM645.6 1005.8h3.3v3.3h-3.3zM648.3 1005.8h3.3v3.3h-3.3zM677.1 1005.8h3.3v3.3h-3.3zM333.3 1003.2h3.3v3.3h-3.3zM372.7 1003.2h3.3v3.3h-3.3zM656.1 1003.2h3.3v3.3h-3.3zM664.0 1003.2h3.3v3.3h-3.3zM349.0 1000.6h3.3v3.3h-3.3zM354.3 1000.6h3.3v3.3h-3.3zM666.6 1000.6h3.3v3.3h-3.3z"/>
<path fill="#00f0ff" d="M653.5 1039.9h3.3v3.3h-3.3zM671.9 1039.9h3.3v3.3h-3.3zM341.2 1037.3h3.3v3.3h-3.3zM346.4 1037.3h3.3v3.3h-3.3zM351.7 1037.3h3.3v3.3h-3.3zM354.3 1037.3h3.3v3.3h-3.3zM364.8 1037.3h3.3v3.3h-3.3zM640.4 1037.3h3.3v3.3h-3.3zM648.3 1037.3h3.3v3.3h-3.3zM335.9 1034.7h3.3v3.3h-3.3zM338.5 1034.7h3.3v3.3h-3.3zM341.2 1034.7h3.3v3.3h-3.3zM372.7 1034.7h3.3v3.3h-3.3zM640.4 1034.7h3.3v3.3h-3.3zM330.7 1032.1h3.3v3.3h-3.3zM377.9 1032.1h3.3v3.3h-3.3zM380.5 1032.1h3.3v3.3h-3.3zM637.8 1032.1h3.3v3.3h-3.3zM640.4 1032.1h3.3v3.3h-3.3zM690.3 1032.1h3.3v3.3h-3.3zM322.8 1029.4h3.3v3.3h-3.3zM325.4 1029.4h3.3v3.3h-3.3zM328.0 1029.4h3.3v3.3h-3.3zM385.8 1029.4h3.3v3.3h-3.3zM322.8 1026.8h3.3v3.3h-3.3zM328.0 1026.8h3.3v3.3h-3.3zM383.2 1026.8h3.3v3.3h-3.3zM632.5 1026.8h3.3v3.3h-3.3zM325.4 1024.2h3.3v3.3h-3.3zM385.8 1024.2h3.3v3.3h-3.3zM632.5 1024.2h3.3v3.3h-3.3zM690.3 1024.2h3.3v3.3h-3.3zM629.9 1021.6h3.3v3.3h-3.3zM690.3 1021.6h3.3v3.3h-3.3zM325.4 1018.9h3.3v3.3h-3.3zM383.2 1018.9h3.3v3.3h-3.3zM690.3 1018.9h3.3v3.3h-3.3zM692.9 1018.9h3.3v3.3h-3.3zM328.0 1016.3h3.3v3.3h-3.3zM383.2 1016.3h3.3v3.3h-3.3zM383.2 1013.7h3.3v3.3h-3.3zM632.5 1013.7h3.3v3.3h-3.3zM637.8 1013.7h3.3v3.3h-3.3zM325.4 1011.1h3.3v3.3h-3.3zM328.0 1011.1h3.3v3.3h-3.3zM377.9 1011.1h3.3v3.3h-3.3zM380.5 1011.1h3.3v3.3h-3.3zM383.2 1011.1h3.3v3.3h-3.3zM685.0 1011.1h3.3v3.3h-3.3zM687.6 1011.1h3.3v3.3h-3.3zM377.9 1008.4h3.3v3.3h-3.3zM380.5 1008.4h3.3v3.3h-3.3zM338.5 1005.8h3.3v3.3h-3.3zM380.5 1005.8h3.3v3.3h-3.3zM650.9 1005.8h3.3v3.3h-3.3zM674.5 1005.8h3.3v3.3h-3.3zM341.2 1003.2h3.3v3.3h-3.3zM343.8 1003.2h3.3v3.3h-3.3zM346.4 1003.2h3.3v3.3h-3.3zM359.5 1003.2h3.3v3.3h-3.3zM367.4 1003.2h3.3v3.3h-3.3zM370.0 1003.2h3.3v3.3h-3.3zM658.8 1003.2h3.3v3.3h-3.3zM666.6 1003.2h3.3v3.3h-3.3zM669.3 1003.2h3.3v3.3h-3.3zM674.5 1003.2h3.3v3.3h-3.3zM359.5 1000.6h3.3v3.3h-3.3z"/>
<path fill="#00f4d0" d="M650.9 1039.9h3.3v3.3h-3.3zM658.8 1039.9h3.3v3.3h-3.3zM661.4 1039.9h3.3v3.3h-3.3zM664.0 1039.9h3.3v3.3h-3.3zM343.8 1037.3h3.3v3.3h-3.3zM349.0 1037.3h3.3v3.3h-3.3zM359.5 1037.3h3.3v3.3h-3.3zM362.2 1037.3h3.3v3.3h-3.3zM367.4 1037.3h3.3v3.3h-3.3zM645.6 1037.3h3.3v3.3h-3.3zM650.9 1037.3h3.3v3.3h-3.3zM669.3 1037.3h3.3v3.3h-3.3zM674.5 1037.3h3.3v3.3h-3.3zM679.8 1037.3h3.3v3.3h-3.3zM343.8 1034.7h3.3v3.3h-3.3zM370.0 1034.7h3.3v3.3h-3.3zM375.3 1034.7h3.3v3.3h-3.3zM645.6 1034.7h3.3v3.3h-3.3zM682.4 1034.7h3.3v3.3h-3.3zM685.0 1034.7h3.3v3.3h-3.3zM333.3 1032.1h3.3v3.3h-3.3zM685.0 1032.1h3.3v3.3h-3.3zM687.6 1032.1h3.3v3.3h-3.3zM330.7 1029.4h3.3v3.3h-3.3zM333.3 1029.4h3.3v3.3h-3.3zM380.5 1029.4h3.3v3.3h-3.3zM383.2 1029.4h3.3v3.3h-3.3zM635.1 1029.4h3.3v3.3h-3.3zM687.6 1029.4h3.3v3.3h-3.3zM690.3 1029.4h3.3v3.3h-3.3zM325.4 1026.8h3.3v3.3h-3.3zM380.5 1026.8h3.3v3.3h-3.3zM635.1 1026.8h3.3v3.3h-3.3zM328.0 1024.2h3.3v3.3h-3.3zM380.5 1024.2h3.3v3.3h-3.3zM635.1 1024.2h3.3v3.3h-3.3zM692.9 1024.2h3.3v3.3h-3.3zM325.4 1021.6h3.3v3.3h-3.3zM328.0 1021.6h3.3v3.3h-3.3zM383.2 1021.6h3.3v3.3h-3.3zM637.8 1021.6h3.3v3.3h-3.3zM687.6 1021.6h3.3v3.3h-3.3zM328.0 1018.9h3.3v3.3h-3.3zM380.5 1018.9h3.3v3.3h-3.3zM385.8 1018.9h3.3v3.3h-3.3zM635.1 1018.9h3.3v3.3h-3.3zM637.8 1018.9h3.3v3.3h-3.3zM330.7 1016.3h3.3v3.3h-3.3zM635.1 1016.3h3.3v3.3h-3.3zM687.6 1016.3h3.3v3.3h-3.3zM335.9 1013.7h3.3v3.3h-3.3zM687.6 1013.7h3.3v3.3h-3.3zM330.7 1011.1h3.3v3.3h-3.3zM333.3 1011.1h3.3v3.3h-3.3zM682.4 1011.1h3.3v3.3h-3.3zM333.3 1008.4h3.3v3.3h-3.3zM335.9 1008.4h3.3v3.3h-3.3zM338.5 1008.4h3.3v3.3h-3.3zM372.7 1008.4h3.3v3.3h-3.3zM375.3 1008.4h3.3v3.3h-3.3zM643.0 1008.4h3.3v3.3h-3.3zM645.6 1008.4h3.3v3.3h-3.3zM648.3 1008.4h3.3v3.3h-3.3zM650.9 1008.4h3.3v3.3h-3.3zM679.8 1008.4h3.3v3.3h-3.3zM682.4 1008.4h3.3v3.3h-3.3zM341.2 1005.8h3.3v3.3h-3.3zM343.8 1005.8h3.3v3.3h-3.3zM346.4 1005.8h3.3v3.3h-3.3zM362.2 1005.8h3.3v3.3h-3.3zM364.8 1005.8h3.3v3.3h-3.3zM370.0 1005.8h3.3v3.3h-3.3zM372.7 1005.8h3.3v3.3h-3.3zM375.3 1005.8h3.3v3.3h-3.3zM656.1 1005.8h3.3v3.3h-3.3zM661.4 1005.8h3.3v3.3h-3.3zM669.3 1005.8h3.3v3.3h-3.3zM671.9 1005.8h3.3v3.3h-3.3zM349.0 1003.2h3.3v3.3h-3.3zM356.9 1003.2h3.3v3.3h-3.3zM362.2 1003.2h3.3v3.3h-3.3zM364.8 1003.2h3.3v3.3h-3.3zM346.4 1000.6h3.3v3.3h-3.3zM351.7 1000.6h3.3v3.3h-3.3zM356.9 1000.6h3.3v3.3h-3.3zM367.4 1000.6h3.3v3.3h-3.3z"/>
<path fill="#00f8a0" d="M356.9 1037.3h3.3v3.3h-3.3zM661.4 1037.3h3.3v3.3h-3.3zM664.0 1037.3h3.3v3.3h-3.3zM666.6 1037.3h3.3v3.3h-3.3zM677.1 1037.3h3.3v3.3h-3.3zM346.4 1034.7h3.3v3.3h-3.3zM349.0 1034.7h3.3v3.3h-3.3zM351.7 1034.7h3.3v3.3h-3.3zM359.5 1034.7h3.3v3.3h-3.3zM364.8 1034.7h3.3v3.3h-3.3zM367.4 1034.7h3.3v3.3h-3.3zM643.0 1034.7h3.3v3.3h-3.3zM335.9 1032.1h3.3v3.3h-3.3zM372.7 1032.1h3.3v3.3h-3.3zM682.4 1032.1h3.3v3.3h-3.3zM375.3 1029.4h3.3v3.3h-3.3zM377.9 1029.4h3.3v3.3h-3.3zM637.8 1029.4h3.3v3.3h-3.3zM687.6 1026.8h3.3v3.3h-3.3zM690.3 1026.8h3.3v3.3h-3.3zM330.7 1024.2h3.3v3.3h-3.3zM333.3 1024.2h3.3v3.3h-3.3zM383.2 1024.2h3.3v3.3h-3.3zM637.8 1024.2h3.3v3.3h-3.3zM380.5 1021.6h3.3v3.3h-3.3zM635.1 1021.6h3.3v3.3h-3.3zM640.4 1018.9h3.3v3.3h-3.3zM687.6 1018.9h3.3v3.3h-3.3zM380.5 1016.3h3.3v3.3h-3.3zM637.8 1016.3h3.3v3.3h-3.3zM643.0 1016.3h3.3v3.3h-3.3zM690.3 1016.3h3.3v3.3h-3.3zM333.3 1013.7h3.3v3.3h-3.3zM375.3 1013.7h3.3v3.3h-3.3zM377.9 1013.7h3.3v3.3h-3.3zM380.5 1013.7h3.3v3.3h-3.3zM640.4 1013.7h3.3v3.3h-3.3zM643.0 1013.7h3.3v3.3h-3.3zM685.0 1013.7h3.3v3.3h-3.3zM335.9 1011.1h3.3v3.3h-3.3zM338.5 1011.1h3.3v3.3h-3.3zM372.7 1011.1h3.3v3.3h-3.3zM640.4 1011.1h3.3v3.3h-3.3zM643.0 1011.1h3.3v3.3h-3.3zM645.6 1011.1h3.3v3.3h-3.3zM648.3 1011.1h3.3v3.3h-3.3zM341.2 1008.4h3.3v3.3h-3.3zM343.8 1008.4h3.3v3.3h-3.3zM346.4 1008.4h3.3v3.3h-3.3zM370.0 1008.4h3.3v3.3h-3.3zM653.5 1008.4h3.3v3.3h-3.3zM677.1 1008.4h3.3v3.3h-3.3zM351.7 1005.8h3.3v3.3h-3.3zM359.5 1005.8h3.3v3.3h-3.3zM367.4 1005.8h3.3v3.3h-3.3zM653.5 1005.8h3.3v3.3h-3.3zM658.8 1005.8h3.3v3.3h-3.3zM664.0 1005.8h3.3v3.3h-3.3zM351.7 1003.2h3.3v3.3h-3.3zM354.3 1003.2h3.3v3.3h-3.3z"/>
<path fill="#08f450" d="M653.5 1037.3h3.3v3.3h-3.3zM656.1 1037.3h3.3v3.3h-3.3zM658.8 1037.3h3.3v3.3h-3.3zM671.9 1037.3h3.3v3.3h-3.3zM354.3 1034.7h3.3v3.3h-3.3zM648.3 1034.7h3.3v3.3h-3.3zM674.5 1034.7h3.3v3.3h-3.3zM677.1 1034.7h3.3v3.3h-3.3zM338.5 1032.1h3.3v3.3h-3.3zM341.2 1032.1h3.3v3.3h-3.3zM367.4 1032.1h3.3v3.3h-3.3zM375.3 1032.1h3.3v3.3h-3.3zM643.0 1032.1h3.3v3.3h-3.3zM335.9 1029.4h3.3v3.3h-3.3zM640.4 1029.4h3.3v3.3h-3.3zM685.0 1029.4h3.3v3.3h-3.3zM330.7 1026.8h3.3v3.3h-3.3zM377.9 1026.8h3.3v3.3h-3.3zM640.4 1026.8h3.3v3.3h-3.3zM330.7 1021.6h3.3v3.3h-3.3zM330.7 1018.9h3.3v3.3h-3.3zM377.9 1018.9h3.3v3.3h-3.3zM333.3 1016.3h3.3v3.3h-3.3zM377.9 1016.3h3.3v3.3h-3.3zM640.4 1016.3h3.3v3.3h-3.3zM685.0 1016.3h3.3v3.3h-3.3zM682.4 1013.7h3.3v3.3h-3.3zM375.3 1011.1h3.3v3.3h-3.3zM679.8 1011.1h3.3v3.3h-3.3zM367.4 1008.4h3.3v3.3h-3.3zM656.1 1008.4h3.3v3.3h-3.3zM671.9 1008.4h3.3v3.3h-3.3zM674.5 1008.4h3.3v3.3h-3.3zM349.0 1005.8h3.3v3.3h-3.3zM354.3 1005.8h3.3v3.3h-3.3z"/>
<path fill="#10f000" d="M356.9 1034.7h3.3v3.3h-3.3zM362.2 1034.7h3.3v3.3h-3.3zM656.1 1034.7h3.3v3.3h-3.3zM671.9 1034.7h3.3v3.3h-3.3zM679.8 1034.7h3.3v3.3h-3.3zM343.8 1032.1h3.3v3.3h-3.3zM370.0 1032.1h3.3v3.3h-3.3zM679.8 1032.1h3.3v3.3h-3.3zM682.4 1029.4h3.3v3.3h-3.3zM333.3 1026.8h3.3v3.3h-3.3zM637.8 1026.8h3.3v3.3h-3.3zM685.0 1026.8h3.3v3.3h-3.3zM640.4 1024.2h3.3v3.3h-3.3zM685.0 1024.2h3.3v3.3h-3.3zM687.6 1024.2h3.3v3.3h-3.3zM643.0 1021.6h3.3v3.3h-3.3zM685.0 1021.6h3.3v3.3h-3.3zM643.0 1018.9h3.3v3.3h-3.3zM335.9 1016.3h3.3v3.3h-3.3zM338.5 1016.3h3.3v3.3h-3.3zM372.7 1016.3h3.3v3.3h-3.3zM682.4 1016.3h3.3v3.3h-3.3zM645.6 1013.7h3.3v3.3h-3.3zM677.1 1013.7h3.3v3.3h-3.3zM341.2 1011.1h3.3v3.3h-3.3zM349.0 1008.4h3.3v3.3h-3.3zM351.7 1008.4h3.3v3.3h-3.3zM354.3 1008.4h3.3v3.3h-3.3zM362.2 1008.4h3.3v3.3h-3.3zM364.8 1008.4h3.3v3.3h-3.3zM658.8 1008.4h3.3v3.3h-3.3zM666.6 1008.4h3.3v3.3h-3.3zM669.3 1008.4h3.3v3.3h-3.3zM356.9 1005.8h3.3v3.3h-3.3zM666.6 1005.8h3.3v3.3h-3.3z"/>
<path fill="#50f800" d="M650.9 1034.7h3.3v3.3h-3.3zM653.5 1034.7h3.3v3.3h-3.3zM658.8 1034.7h3.3v3.3h-3.3zM664.0 1034.7h3.3v3.3h-3.3zM669.3 1034.7h3.3v3.3h-3.3zM346.4 1032.1h3.3v3.3h-3.3zM349.0 1032.1h3.3v3.3h-3.3zM351.7 1032.1h3.3v3.3h-3.3zM359.5 1032.1h3.3v3.3h-3.3zM364.8 1032.1h3.3v3.3h-3.3zM645.6 1032.1h3.3v3.3h-3.3zM648.3 1032.1h3.3v3.3h-3.3zM650.9 1032.1h3.3v3.3h-3.3zM677.1 1032.1h3.3v3.3h-3.3zM370.0 1029.4h3.3v3.3h-3.3zM372.7 1029.4h3.3v3.3h-3.3zM643.0 1029.4h3.3v3.3h-3.3zM645.6 1029.4h3.3v3.3h-3.3zM679.8 1029.4h3.3v3.3h-3.3zM335.9 1026.8h3.3v3.3h-3.3zM375.3 1026.8h3.3v3.3h-3.3zM682.4 1026.8h3.3v3.3h-3.3zM338.5 1024.2h3.3v3.3h-3.3zM370.0 1024.2h3.3v3.3h-3.3zM377.9 1024.2h3.3v3.3h-3.3zM643.0 1024.2h3.3v3.3h-3.3zM682.4 1024.2h3.3v3.3h-3.3zM333.3 1021.6h3.3v3.3h-3.3zM335.9 1021.6h3.3v3.3h-3.3zM375.3 1021.6h3.3v3.3h-3.3zM377.9 1021.6h3.3v3.3h-3.3zM640.4 1021.6h3.3v3.3h-3.3zM645.6 1021.6h3.3v3.3h-3.3zM338.5 1018.9h3.3v3.3h-3.3zM375.3 1018.9h3.3v3.3h-3.3zM679.8 1018.9h3.3v3.3h-3.3zM682.4 1018.9h3.3v3.3h-3.3zM685.0 1018.9h3.3v3.3h-3.3zM343.8 1016.3h3.3v3.3h-3.3zM375.3 1016.3h3.3v3.3h-3.3zM645.6 1016.3h3.3v3.3h-3.3zM648.3 1016.3h3.3v3.3h-3.3zM650.9 1016.3h3.3v3.3h-3.3zM338.5 1013.7h3.3v3.3h-3.3zM346.4 1013.7h3.3v3.3h-3.3zM364.8 1013.7h3.3v3.3h-3.3zM370.0 1013.7h3.3v3.3h-3.3zM372.7 1013.7h3.3v3.3h-3.3zM648.3 1013.7h3.3v3.3h-3.3zM650.9 1013.7h3.3v3.3h-3.3zM674.5 1013.7h3.3v3.3h-3.3zM346.4 1011.1h3.3v3.3h-3.3zM349.0 1011.1h3.3v3.3h-3.3zM354.3 1011.1h3.3v3.3h-3.3zM362.2 1011.1h3.3v3.3h-3.3zM367.4 1011.1h3.3v3.3h-3.3zM370.0 1011.1h3.3v3.3h-3.3zM650.9 1011.1h3.3v3.3h-3.3zM653.5 1011.1h3.3v3.3h-3.3zM664.0 1011.1h3.3v3.3h-3.3zM666.6 1011.1h3.3v3.3h-3.3zM669.3 1011.1h3.3v3.3h-3.3zM671.9 1011.1h3.3v3.3h-3.3zM674.5 1011.1h3.3v3.3h-3.3zM677.1 1011.1h3.3v3.3h-3.3zM359.5 1008.4h3.3v3.3h-3.3zM661.4 1008.4h3.3v3.3h-3.3zM664.0 1008.4h3.3v3.3h-3.3z"/>
<path fill="#90ff00" d="M661.4 1034.7h3.3v3.3h-3.3zM666.6 1034.7h3.3v3.3h-3.3zM354.3 1032.1h3.3v3.3h-3.3zM356.9 1032.1h3.3v3.3h-3.3zM362.2 1032.1h3.3v3.3h-3.3zM656.1 1032.1h3.3v3.3h-3.3zM658.8 1032.1h3.3v3.3h-3.3zM661.4 1032.1h3.3v3.3h-3.3zM669.3 1032.1h3.3v3.3h-3.3zM671.9 1032.1h3.3v3.3h-3.3zM674.5 1032.1h3.3v3.3h-3.3zM338.5 1029.4h3.3v3.3h-3.3zM341.2 1029.4h3.3v3.3h-3.3zM343.8 1029.4h3.3v3.3h-3.3zM346.4 1029.4h3.3v3.3h-3.3zM351.7 1029.4h3.3v3.3h-3.3zM362.2 1029.4h3.3v3.3h-3.3zM364.8 1029.4h3.3v3.3h-3.3zM367.4 1029.4h3.3v3.3h-3.3zM648.3 1029.4h3.3v3.3h-3.3zM653.5 1029.4h3.3v3.3h-3.3zM671.9 1029.4h3.3v3.3h-3.3zM674.5 1029.4h3.3v3.3h-3.3zM677.1 1029.4h3.3v3.3h-3.3zM367.4 1026.8h3.3v3.3h-3.3zM370.0 1026.8h3.3v3.3h-3.3zM372.7 1026.8h3.3v3.3h-3.3zM643.0 1026.8h3.3v3.3h-3.3zM645.6 1026.8h3.3v3.3h-3.3zM648.3 1026.8h3.3v3.3h-3.3zM679.8 1026.8h3.3v3.3h-3.3zM335.9 1024.2h3.3v3.3h-3.3zM341.2 1024.2h3.3v3.3h-3.3zM367.4 1024.2h3.3v3.3h-3.3zM372.7 1024.2h3.3v3.3h-3.3zM375.3 1024.2h3.3v3.3h-3.3zM645.6 1024.2h3.3v3.3h-3.3zM338.5 1021.6h3.3v3.3h-3.3zM367.4 1021.6h3.3v3.3h-3.3zM370.0 1021.6h3.3v3.3h-3.3zM372.7 1021.6h3.3v3.3h-3.3zM648.3 1021.6h3.3v3.3h-3.3zM677.1 1021.6h3.3v3.3h-3.3zM679.8 1021.6h3.3v3.3h-3.3zM682.4 1021.6h3.3v3.3h-3.3zM333.3 1018.9h3.3v3.3h-3.3zM335.9 1018.9h3.3v3.3h-3.3zM370.0 1018.9h3.3v3.3h-3.3zM372.7 1018.9h3.3v3.3h-3.3zM645.6 1018.9h3.3v3.3h-3.3zM648.3 1018.9h3.3v3.3h-3.3zM677.1 1018.9h3.3v3.3h-3.3zM341.2 1016.3h3.3v3.3h-3.3zM364.8 1016.3h3.3v3.3h-3.3zM367.4 1016.3h3.3v3.3h-3.3zM370.0 1016.3h3.3v3.3h-3.3zM653.5 1016.3h3.3v3.3h-3.3zM671.9 1016.3h3.3v3.3h-3.3zM674.5 1016.3h3.3v3.3h-3.3zM677.1 1016.3h3.3v3.3h-3.3zM679.8 1016.3h3.3v3.3h-3.3zM341.2 1013.7h3.3v3.3h-3.3zM343.8 1013.7h3.3v3.3h-3.3zM351.7 1013.7h3.3v3.3h-3.3zM356.9 1013.7h3.3v3.3h-3.3zM362.2 1013.7h3.3v3.3h-3.3zM367.4 1013.7h3.3v3.3h-3.3zM653.5 1013.7h3.3v3.3h-3.3zM658.8 1013.7h3.3v3.3h-3.3zM664.0 1013.7h3.3v3.3h-3.3zM666.6 1013.7h3.3v3.3h-3.3zM671.9 1013.7h3.3v3.3h-3.3zM679.8 1013.7h3.3v3.3h-3.3zM343.8 1011.1h3.3v3.3h-3.3zM351.7 1011.1h3.3v3.3h-3.3zM356.9 1011.1h3.3v3.3h-3.3zM359.5 1011.1h3.3v3.3h-3.3zM364.8 1011.1h3.3v3.3h-3.3zM656.1 1011.1h3.3v3.3h-3.3zM661.4 1011.1h3.3v3.3h-3.3zM356.9 1008.4h3.3v3.3h-3.3z"/>
<path fill="#c4fc00" d="M653.5 1032.1h3.3v3.3h-3.3zM664.0 1032.1h3.3v3.3h-3.3zM666.6 1032.1h3.3v3.3h-3.3zM349.0 1029.4h3.3v3.3h-3.3zM354.3 1029.4h3.3v3.3h-3.3zM356.9 1029.4h3.3v3.3h-3.3zM359.5 1029.4h3.3v3.3h-3.3zM650.9 1029.4h3.3v3.3h-3.3zM338.5 1026.8h3.3v3.3h-3.3zM341.2 1026.8h3.3v3.3h-3.3zM343.8 1026.8h3.3v3.3h-3.3zM364.8 1026.8h3.3v3.3h-3.3zM674.5 1026.8h3.3v3.3h-3.3zM677.1 1026.8h3.3v3.3h-3.3zM648.3 1024.2h3.3v3.3h-3.3zM677.1 1024.2h3.3v3.3h-3.3zM679.8 1024.2h3.3v3.3h-3.3zM341.2 1021.6h3.3v3.3h-3.3zM341.2 1018.9h3.3v3.3h-3.3zM343.8 1018.9h3.3v3.3h-3.3zM364.8 1018.9h3.3v3.3h-3.3zM367.4 1018.9h3.3v3.3h-3.3zM650.9 1018.9h3.3v3.3h-3.3zM674.5 1018.9h3.3v3.3h-3.3zM346.4 1016.3h3.3v3.3h-3.3zM349.0 1013.7h3.3v3.3h-3.3zM354.3 1013.7h3.3v3.3h-3.3zM359.5 1013.7h3.3v3.3h-3.3zM656.1 1013.7h3.3v3.3h-3.3zM661.4 1013.7h3.3v3.3h-3.3zM669.3 1013.7h3.3v3.3h-3.3zM658.8 1011.1h3.3v3.3h-3.3z"/>
<path fill="#f8f800" d="M656.1 1029.4h3.3v3.3h-3.3zM343.8 1021.6h3.3v3.3h-3.3zM653.5 1018.9h3.3v3.3h-3.3zM362.2 1016.3h3.3v3.3h-3.3zM656.1 1016.3h3.3v3.3h-3.3zM669.3 1016.3h3.3v3.3h-3.3z"/>
<path fill="#fcd800" d="M346.4 1026.8h3.3v3.3h-3.3zM650.9 1026.8h3.3v3.3h-3.3zM343.8 1024.2h3.3v3.3h-3.3zM650.9 1024.2h3.3v3.3h-3.3zM650.9 1021.6h3.3v3.3h-3.3zM349.0 1016.3h3.3v3.3h-3.3zM359.5 1016.3h3.3v3.3h-3.3zM658.8 1016.3h3.3v3.3h-3.3z"/>
<path fill="#ff0800" d="M658.8 1026.8h3.3v3.3h-3.3zM661.4 1026.8h3.3v3.3h-3.3zM664.0 1026.8h3.3v3.3h-3.3zM666.6 1026.8h3.3v3.3h-3.3zM669.3 1026.8h3.3v3.3h-3.3zM658.8 1024.2h3.3v3.3h-3.3zM661.4 1024.2h3.3v3.3h-3.3zM664.0 1024.2h3.3v3.3h-3.3zM666.6 1024.2h3.3v3.3h-3.3zM661.4 1021.6h3.3v3.3h-3.3zM664.0 1021.6h3.3v3.3h-3.3z"/>
<path fill="#ff3900" d="M666.6 1029.4h3.3v3.3h-3.3zM669.3 1024.2h3.3v3.3h-3.3zM671.9 1024.2h3.3v3.3h-3.3zM674.5 1024.2h3.3v3.3h-3.3zM658.8 1021.6h3.3v3.3h-3.3zM666.6 1021.6h3.3v3.3h-3.3zM669.3 1021.6h3.3v3.3h-3.3zM661.4 1018.9h3.3v3.3h-3.3z"/>
<path fill="#ff6a00" d="M661.4 1029.4h3.3v3.3h-3.3zM664.0 1029.4h3.3v3.3h-3.3zM351.7 1026.8h3.3v3.3h-3.3zM354.3 1026.8h3.3v3.3h-3.3zM356.9 1026.8h3.3v3.3h-3.3zM359.5 1026.8h3.3v3.3h-3.3zM656.1 1026.8h3.3v3.3h-3.3zM346.4 1024.2h3.3v3.3h-3.3zM349.0 1024.2h3.3v3.3h-3.3zM351.7 1024.2h3.3v3.3h-3.3zM354.3 1024.2h3.3v3.3h-3.3zM356.9 1024.2h3.3v3.3h-3.3zM362.2 1024.2h3.3v3.3h-3.3zM656.1 1024.2h3.3v3.3h-3.3zM346.4 1021.6h3.3v3.3h-3.3zM349.0 1021.6h3.3v3.3h-3.3zM351.7 1021.6h3.3v3.3h-3.3zM354.3 1021.6h3.3v3.3h-3.3zM356.9 1021.6h3.3v3.3h-3.3zM359.5 1021.6h3.3v3.3h-3.3zM362.2 1021.6h3.3v3.3h-3.3zM656.1 1021.6h3.3v3.3h-3.3zM671.9 1021.6h3.3v3.3h-3.3zM349.0 1018.9h3.3v3.3h-3.3zM354.3 1018.9h3.3v3.3h-3.3zM664.0 1018.9h3.3v3.3h-3.3zM666.6 1018.9h3.3v3.3h-3.3z"/>
<path fill="#ff9100" d="M658.8 1029.4h3.3v3.3h-3.3zM349.0 1026.8h3.3v3.3h-3.3zM653.5 1026.8h3.3v3.3h-3.3zM671.9 1026.8h3.3v3.3h-3.3zM359.5 1024.2h3.3v3.3h-3.3zM653.5 1024.2h3.3v3.3h-3.3zM653.5 1021.6h3.3v3.3h-3.3zM346.4 1018.9h3.3v3.3h-3.3zM351.7 1018.9h3.3v3.3h-3.3zM356.9 1018.9h3.3v3.3h-3.3zM359.5 1018.9h3.3v3.3h-3.3zM362.2 1018.9h3.3v3.3h-3.3zM656.1 1018.9h3.3v3.3h-3.3zM658.8 1018.9h3.3v3.3h-3.3zM669.3 1018.9h3.3v3.3h-3.3zM351.7 1016.3h3.3v3.3h-3.3zM354.3 1016.3h3.3v3.3h-3.3z"/>
<path fill="#ffb800" d="M669.3 1029.4h3.3v3.3h-3.3zM362.2 1026.8h3.3v3.3h-3.3zM364.8 1024.2h3.3v3.3h-3.3zM364.8 1021.6h3.3v3.3h-3.3zM674.5 1021.6h3.3v3.3h-3.3zM671.9 1018.9h3.3v3.3h-3.3zM356.9 1016.3h3.3v3.3h-3.3zM661.4 1016.3h3.3v3.3h-3.3zM664.0 1016.3h3.3v3.3h-3.3zM666.6 1016.3h3.3v3.3h-3.3z"/>
</g>
<line x1="276.7" y1="503.5" x2="909.5" y2="503.5" stroke="#181818" stroke-width="2.6" stroke-linecap="butt"/>
<line x1="909.5" y1="503.5" x2="909.5" y2="1052.0" stroke="#222" stroke-width="2.4" stroke-linecap="butt"/>
<line x1="276.7" y1="503.5" x2="276.7" y2="1052.0" stroke="#0a0a0a" stroke-width="3.0" stroke-linecap="butt"/>
<line x1="252.0" y1="1052.0" x2="909.5" y2="1052.0" stroke="#0a0a0a" stroke-width="3.2" stroke-linecap="butt"/>
<line x1="252.0" y1="530.2" x2="276.7" y2="530.2" stroke="#000" stroke-width="4.3" stroke-linecap="butt"/>
<text x="246.2" y="535.2" font-size="22.3" text-anchor="end" >4E6</text>
<line x1="252.0" y1="660.6" x2="276.7" y2="660.6" stroke="#000" stroke-width="4.3" stroke-linecap="butt"/>
<text x="246.2" y="668.2" font-size="22.3" text-anchor="end" >3E6</text>
<line x1="252.0" y1="791.0" x2="276.7" y2="791.0" stroke="#000" stroke-width="4.3" stroke-linecap="butt"/>
<text x="246.2" y="798.6" font-size="22.3" text-anchor="end" >2E6</text>
<line x1="252.0" y1="921.2" x2="276.7" y2="921.2" stroke="#000" stroke-width="4.3" stroke-linecap="butt"/>
<text x="246.2" y="928.8" font-size="22.3" text-anchor="end" >1E6</text>
<line x1="252.0" y1="1051.6" x2="276.7" y2="1051.6" stroke="#000" stroke-width="4.3" stroke-linecap="butt"/>
<text x="246.2" y="1059.2" font-size="22.3" text-anchor="end" >0</text>
<line x1="265.2" y1="556.3" x2="276.7" y2="556.3" stroke="#111" stroke-width="2.6" stroke-linecap="butt"/>
<line x1="265.2" y1="582.3" x2="276.7" y2="582.3" stroke="#111" stroke-width="2.6" stroke-linecap="butt"/>
<line x1="265.2" y1="608.4" x2="276.7" y2="608.4" stroke="#111" stroke-width="2.6" stroke-linecap="butt"/>
<line x1="265.2" y1="634.5" x2="276.7" y2="634.5" stroke="#111" stroke-width="2.6" stroke-linecap="butt"/>
<line x1="265.2" y1="686.6" x2="276.7" y2="686.6" stroke="#111" stroke-width="2.6" stroke-linecap="butt"/>
<line x1="265.2" y1="712.7" x2="276.7" y2="712.7" stroke="#111" stroke-width="2.6" stroke-linecap="butt"/>
<line x1="265.2" y1="738.8" x2="276.7" y2="738.8" stroke="#111" stroke-width="2.6" stroke-linecap="butt"/>
<line x1="265.2" y1="764.8" x2="276.7" y2="764.8" stroke="#111" stroke-width="2.6" stroke-linecap="butt"/>
<line x1="265.2" y1="817.0" x2="276.7" y2="817.0" stroke="#111" stroke-width="2.6" stroke-linecap="butt"/>
<line x1="265.2" y1="843.0" x2="276.7" y2="843.0" stroke="#111" stroke-width="2.6" stroke-linecap="butt"/>
<line x1="265.2" y1="869.1" x2="276.7" y2="869.1" stroke="#111" stroke-width="2.6" stroke-linecap="butt"/>
<line x1="265.2" y1="895.2" x2="276.7" y2="895.2" stroke="#111" stroke-width="2.6" stroke-linecap="butt"/>
<line x1="265.2" y1="947.3" x2="276.7" y2="947.3" stroke="#111" stroke-width="2.6" stroke-linecap="butt"/>
<line x1="265.2" y1="973.4" x2="276.7" y2="973.4" stroke="#111" stroke-width="2.6" stroke-linecap="butt"/>
<line x1="265.2" y1="999.5" x2="276.7" y2="999.5" stroke="#111" stroke-width="2.6" stroke-linecap="butt"/>
<line x1="265.2" y1="1025.5" x2="276.7" y2="1025.5" stroke="#111" stroke-width="2.6" stroke-linecap="butt"/>
<line x1="278.4" y1="1052.0" x2="278.4" y2="1073.0" stroke="#000" stroke-width="5.4" stroke-linecap="butt"/>
<line x1="288.6" y1="1052.0" x2="288.6" y2="1073.0" stroke="#000" stroke-width="4.8" stroke-linecap="butt"/>
<line x1="391.2" y1="1052.0" x2="391.2" y2="1073.0" stroke="#000" stroke-width="5.6" stroke-linecap="butt"/>
<line x1="536.3" y1="1052.0" x2="536.3" y2="1073.0" stroke="#000" stroke-width="5.4" stroke-linecap="butt"/>
<line x1="678.5" y1="1052.0" x2="678.5" y2="1073.0" stroke="#000" stroke-width="5.4" stroke-linecap="butt"/>
<line x1="820.6" y1="1052.0" x2="820.6" y2="1073.0" stroke="#000" stroke-width="5.4" stroke-linecap="butt"/>
<line x1="300.7" y1="1052.0" x2="300.7" y2="1061.7" stroke="#000" stroke-width="4.4" stroke-linecap="butt"/>
<line x1="310.3" y1="1052.0" x2="310.3" y2="1061.7" stroke="#000" stroke-width="4.1" stroke-linecap="butt"/>
<line x1="318.9" y1="1052.0" x2="318.9" y2="1061.7" stroke="#000" stroke-width="3.2" stroke-linecap="butt"/>
<line x1="360.2" y1="1052.0" x2="360.2" y2="1061.7" stroke="#000" stroke-width="2.6" stroke-linecap="butt"/>
<line x1="368.4" y1="1052.0" x2="368.4" y2="1061.7" stroke="#000" stroke-width="4.0" stroke-linecap="butt"/>
<line x1="378.2" y1="1052.0" x2="378.2" y2="1061.7" stroke="#000" stroke-width="4.0" stroke-linecap="butt"/>
<line x1="387.6" y1="1052.0" x2="387.6" y2="1061.7" stroke="#000" stroke-width="3.0" stroke-linecap="butt"/>
<line x1="428.7" y1="1052.0" x2="428.7" y2="1061.8" stroke="#0a0a0a" stroke-width="3.0" stroke-linecap="butt"/>
<line x1="454.2" y1="1052.0" x2="454.2" y2="1061.8" stroke="#0a0a0a" stroke-width="3.0" stroke-linecap="butt"/>
<line x1="473.8" y1="1052.0" x2="473.8" y2="1061.8" stroke="#0a0a0a" stroke-width="3.0" stroke-linecap="butt"/>
<line x1="489.7" y1="1052.0" x2="489.7" y2="1061.8" stroke="#0a0a0a" stroke-width="3.0" stroke-linecap="butt"/>
<line x1="502.4" y1="1052.0" x2="502.4" y2="1061.8" stroke="#0a0a0a" stroke-width="3.0" stroke-linecap="butt"/>
<line x1="512.6" y1="1052.0" x2="512.6" y2="1061.8" stroke="#0a0a0a" stroke-width="3.0" stroke-linecap="butt"/>
<line x1="521.6" y1="1052.0" x2="521.6" y2="1061.8" stroke="#0a0a0a" stroke-width="3.0" stroke-linecap="butt"/>
<line x1="528.1" y1="1052.0" x2="528.1" y2="1061.8" stroke="#0a0a0a" stroke-width="3.0" stroke-linecap="butt"/>
<line x1="579.1" y1="1052.0" x2="579.1" y2="1061.8" stroke="#0a0a0a" stroke-width="3.0" stroke-linecap="butt"/>
<line x1="604.1" y1="1052.0" x2="604.1" y2="1061.8" stroke="#0a0a0a" stroke-width="3.0" stroke-linecap="butt"/>
<line x1="621.9" y1="1052.0" x2="621.9" y2="1061.8" stroke="#0a0a0a" stroke-width="3.0" stroke-linecap="butt"/>
<line x1="635.7" y1="1052.0" x2="635.7" y2="1061.8" stroke="#0a0a0a" stroke-width="3.0" stroke-linecap="butt"/>
<line x1="646.9" y1="1052.0" x2="646.9" y2="1061.8" stroke="#0a0a0a" stroke-width="3.0" stroke-linecap="butt"/>
<line x1="656.4" y1="1052.0" x2="656.4" y2="1061.8" stroke="#0a0a0a" stroke-width="3.0" stroke-linecap="butt"/>
<line x1="664.7" y1="1052.0" x2="664.7" y2="1061.8" stroke="#0a0a0a" stroke-width="3.0" stroke-linecap="butt"/>
<line x1="671.9" y1="1052.0" x2="671.9" y2="1061.8" stroke="#0a0a0a" stroke-width="3.0" stroke-linecap="butt"/>
<line x1="721.3" y1="1052.0" x2="721.3" y2="1061.8" stroke="#0a0a0a" stroke-width="3.0" stroke-linecap="butt"/>
<line x1="746.3" y1="1052.0" x2="746.3" y2="1061.8" stroke="#0a0a0a" stroke-width="3.0" stroke-linecap="butt"/>
<line x1="764.1" y1="1052.0" x2="764.1" y2="1061.8" stroke="#0a0a0a" stroke-width="3.0" stroke-linecap="butt"/>
<line x1="777.9" y1="1052.0" x2="777.9" y2="1061.8" stroke="#0a0a0a" stroke-width="3.0" stroke-linecap="butt"/>
<line x1="789.1" y1="1052.0" x2="789.1" y2="1061.8" stroke="#0a0a0a" stroke-width="3.0" stroke-linecap="butt"/>
<line x1="798.6" y1="1052.0" x2="798.6" y2="1061.8" stroke="#0a0a0a" stroke-width="3.0" stroke-linecap="butt"/>
<line x1="806.9" y1="1052.0" x2="806.9" y2="1061.8" stroke="#0a0a0a" stroke-width="3.0" stroke-linecap="butt"/>
<line x1="814.1" y1="1052.0" x2="814.1" y2="1061.8" stroke="#0a0a0a" stroke-width="3.0" stroke-linecap="butt"/>
<line x1="863.4" y1="1052.0" x2="863.4" y2="1061.8" stroke="#0a0a0a" stroke-width="3.0" stroke-linecap="butt"/>
<line x1="888.4" y1="1052.0" x2="888.4" y2="1061.8" stroke="#0a0a0a" stroke-width="3.0" stroke-linecap="butt"/>
<rect x="324.6" y="1052.0" width="30.3" height="9.7" fill="#000"/>
<rect x="329.9" y="1052.0" width="19.3" height="21.0" fill="#000"/>
<text x="340.4" y="1098.6" font-size="21.5" text-anchor="middle" >0</text>
<text x="520.4" y="1099.0" font-size="21.5">10<tspan font-size="13" dy="-5.8">4</tspan></text>
<text x="661.4" y="1099.0" font-size="21.5">10<tspan font-size="13" dy="-5.8">5</tspan></text>
<text x="802.6" y="1099.0" font-size="21.5">10<tspan font-size="13" dy="-5.8">6</tspan></text>
<text x="599.5" y="1130.8" font-size="24.2" text-anchor="middle" >B13-A</text>
<text x="591.8" y="488.0" font-size="24" text-anchor="middle" >All Events</text>
<text transform="translate(177.2,773.7) rotate(-90)" font-size="24.2" text-anchor="middle">SSC-A</text>
<rect x="266.9" y="495.8" width="22.8" height="18.8" fill="#ffff7e" stroke="#000" stroke-width="2.6"/>
<rect x="266.6" y="1041.9" width="22.8" height="18.8" fill="#ffff7e" stroke="#000" stroke-width="2.6"/>
<rect x="896.2" y="496.1" width="22.8" height="18.8" fill="#ffff7e" stroke="#000" stroke-width="2.6"/>
<rect x="896.8" y="1041.8" width="22.8" height="18.8" fill="#ffff7e" stroke="#000" stroke-width="2.6"/>
<rect x="1120.7" y="506.4" width="634.3" height="546.8" fill="#e3f0fc"/>
<line x1="1145.8" y1="511.0" x2="1145.8" y2="1049.0" stroke="#eef6fe" stroke-width="10" stroke-linecap="butt"/>
<line x1="1258.8" y1="511.0" x2="1258.8" y2="1049.0" stroke="#eef6fe" stroke-width="10" stroke-linecap="butt"/>
<line x1="1447.9" y1="511.0" x2="1447.9" y2="1049.0" stroke="#eef6fe" stroke-width="10" stroke-linecap="butt"/>
<line x1="1558.0" y1="511.0" x2="1558.0" y2="1049.0" stroke="#eef6fe" stroke-width="10" stroke-linecap="butt"/>
<line x1="1099.5" y1="1052.9" x2="1755.0" y2="1052.9" stroke="#111" stroke-width="2.4" stroke-linecap="butt"/>
<path d="M1135.2 1053.6 L1147.6 1046.5 L1154.5 1035.4 L1160.0 1016.1 L1164.2 988.5 L1167.5 960.9 L1170.2 933.3 L1172.5 905.7 L1174.7 878.0 L1176.6 850.4 L1178.8 822.8 L1181.3 795.2 L1184.0 775.9 L1186.3 766.2 L1189.0 762.1 L1191.8 756.6 L1194.5 763.5 L1198.1 767.6 L1200.1 778.7 L1202.8 795.2 L1206.1 822.8 L1209.7 850.4 L1213.0 878.0 L1216.6 905.7 L1219.9 933.3 L1224.1 960.9 L1229.1 983.0 L1234.6 1002.3 L1241.5 1018.9 L1248.4 1025.8 L1255.3 1028.5 L1259.4 1032.7 L1263.6 1038.2 L1270.5 1042.3 L1285.7 1040.4 L1302.7 1044.5 L1319.0 1045.4 L1340.3 1044.2 L1360.0 1047.0 L1384.5 1050.3 L1410.0 1048.6 L1422.3 1049.3 L1439.7 1050.5 L1449.5 1047.2 L1459.3 1037.4 L1467.5 1021.0 L1472.5 1001.3 L1476.4 975.1 L1479.7 942.3 L1483.0 909.5 L1485.6 876.7 L1488.2 843.9 L1491.1 811.1 L1493.8 778.4 L1497.0 745.6 L1500.3 722.6 L1503.6 707.9 L1506.2 698.0 L1509.2 709.5 L1512.5 725.9 L1515.1 752.1 L1517.4 778.4 L1519.3 811.1 L1521.6 843.9 L1523.9 876.7 L1526.6 909.5 L1529.2 942.3 L1532.5 975.1 L1536.4 1007.9 L1541.3 1030.8 L1547.9 1045.6 L1556.1 1052.1 L1565.9 1053.8 L1565.9 1054.2 L1135.8 1054.2 Z" fill="#1c1a77" stroke="#1c1a77" stroke-width="0.8" stroke-linejoin="round"/>
<line x1="1145.8" y1="511.0" x2="1145.8" y2="1049.6" stroke="#000" stroke-width="5.6" stroke-linecap="butt"/>
<line x1="1258.8" y1="511.0" x2="1258.8" y2="1049.6" stroke="#000" stroke-width="5.6" stroke-linecap="butt"/>
<line x1="1447.9" y1="511.0" x2="1447.9" y2="1049.6" stroke="#000" stroke-width="5.6" stroke-linecap="butt"/>
<line x1="1558.0" y1="511.0" x2="1558.0" y2="1049.6" stroke="#000" stroke-width="5.6" stroke-linecap="butt"/>
<line x1="1145.8" y1="779.8" x2="1258.8" y2="779.8" stroke="#000" stroke-width="4" stroke-linecap="butt"/>
<line x1="1447.9" y1="779.8" x2="1557.9" y2="779.8" stroke="#000" stroke-width="4" stroke-linecap="butt"/>
<text x="1199.2" y="547.0" font-size="23.5" text-anchor="middle" >P39</text>
<text x="1503.5" y="546.6" font-size="23.5" text-anchor="middle" >P40</text>
<line x1="1120.7" y1="506.4" x2="1755.0" y2="506.4" stroke="#1c1c1c" stroke-width="2.8" stroke-linecap="butt"/>
<line x1="1755.0" y1="506.4" x2="1755.0" y2="1053.2" stroke="#333" stroke-width="1.8" stroke-linecap="butt"/>
<line x1="1120.7" y1="506.4" x2="1120.7" y2="1053.2" stroke="#111" stroke-width="2.7" stroke-linecap="butt"/>
<line x1="1099.5" y1="506.9" x2="1120.7" y2="506.9" stroke="#000" stroke-width="4.0" stroke-linecap="round"/>
<text x="1090.8" y="512.8" font-size="21.5" text-anchor="end" >300</text>
<line x1="1099.5" y1="615.7" x2="1120.7" y2="615.7" stroke="#000" stroke-width="4.0" stroke-linecap="round"/>
<text x="1090.8" y="623.1" font-size="21.5" text-anchor="end" >240</text>
<line x1="1099.5" y1="723.9" x2="1120.7" y2="723.9" stroke="#000" stroke-width="4.0" stroke-linecap="round"/>
<text x="1090.8" y="731.3" font-size="21.5" text-anchor="end" >180</text>
<line x1="1099.5" y1="834.8" x2="1120.7" y2="834.8" stroke="#000" stroke-width="4.0" stroke-linecap="round"/>
<text x="1090.8" y="842.2" font-size="21.5" text-anchor="end" >120</text>
<line x1="1099.5" y1="944.6" x2="1120.7" y2="944.6" stroke="#000" stroke-width="4.0" stroke-linecap="round"/>
<text x="1090.8" y="952.0" font-size="21.5" text-anchor="end" >60</text>
<line x1="1099.5" y1="1052.9" x2="1120.7" y2="1052.9" stroke="#000" stroke-width="4.0" stroke-linecap="round"/>
<text x="1090.8" y="1060.3" font-size="21.5" text-anchor="end" >0</text>
<line x1="1110.0" y1="528.7" x2="1120.7" y2="528.7" stroke="#111" stroke-width="2.4" stroke-linecap="butt"/>
<line x1="1110.0" y1="550.4" x2="1120.7" y2="550.4" stroke="#111" stroke-width="2.4" stroke-linecap="butt"/>
<line x1="1110.0" y1="572.2" x2="1120.7" y2="572.2" stroke="#111" stroke-width="2.4" stroke-linecap="butt"/>
<line x1="1110.0" y1="593.9" x2="1120.7" y2="593.9" stroke="#111" stroke-width="2.4" stroke-linecap="butt"/>
<line x1="1110.0" y1="637.3" x2="1120.7" y2="637.3" stroke="#111" stroke-width="2.4" stroke-linecap="butt"/>
<line x1="1110.0" y1="659.0" x2="1120.7" y2="659.0" stroke="#111" stroke-width="2.4" stroke-linecap="butt"/>
<line x1="1110.0" y1="680.6" x2="1120.7" y2="680.6" stroke="#111" stroke-width="2.4" stroke-linecap="butt"/>
<line x1="1110.0" y1="702.3" x2="1120.7" y2="702.3" stroke="#111" stroke-width="2.4" stroke-linecap="butt"/>
<line x1="1110.0" y1="746.1" x2="1120.7" y2="746.1" stroke="#111" stroke-width="2.4" stroke-linecap="butt"/>
<line x1="1110.0" y1="768.3" x2="1120.7" y2="768.3" stroke="#111" stroke-width="2.4" stroke-linecap="butt"/>
<line x1="1110.0" y1="790.4" x2="1120.7" y2="790.4" stroke="#111" stroke-width="2.4" stroke-linecap="butt"/>
<line x1="1110.0" y1="812.6" x2="1120.7" y2="812.6" stroke="#111" stroke-width="2.4" stroke-linecap="butt"/>
<line x1="1110.0" y1="856.8" x2="1120.7" y2="856.8" stroke="#111" stroke-width="2.4" stroke-linecap="butt"/>
<line x1="1110.0" y1="878.7" x2="1120.7" y2="878.7" stroke="#111" stroke-width="2.4" stroke-linecap="butt"/>
<line x1="1110.0" y1="900.7" x2="1120.7" y2="900.7" stroke="#111" stroke-width="2.4" stroke-linecap="butt"/>
<line x1="1110.0" y1="922.6" x2="1120.7" y2="922.6" stroke="#111" stroke-width="2.4" stroke-linecap="butt"/>
<line x1="1110.0" y1="966.3" x2="1120.7" y2="966.3" stroke="#111" stroke-width="2.4" stroke-linecap="butt"/>
<line x1="1110.0" y1="987.9" x2="1120.7" y2="987.9" stroke="#111" stroke-width="2.4" stroke-linecap="butt"/>
<line x1="1110.0" y1="1009.6" x2="1120.7" y2="1009.6" stroke="#111" stroke-width="2.4" stroke-linecap="butt"/>
<line x1="1110.0" y1="1031.2" x2="1120.7" y2="1031.2" stroke="#111" stroke-width="2.4" stroke-linecap="butt"/>
<line x1="1121.9" y1="1053.2" x2="1121.9" y2="1073.0" stroke="#000" stroke-width="5.2" stroke-linecap="butt"/>
<line x1="1134.1" y1="1053.2" x2="1134.1" y2="1073.0" stroke="#000" stroke-width="5.2" stroke-linecap="butt"/>
<line x1="1234.7" y1="1053.2" x2="1234.7" y2="1073.0" stroke="#000" stroke-width="5.8" stroke-linecap="butt"/>
<line x1="1379.6" y1="1053.2" x2="1379.6" y2="1073.0" stroke="#000" stroke-width="5.4" stroke-linecap="butt"/>
<line x1="1525.2" y1="1053.2" x2="1525.2" y2="1073.0" stroke="#000" stroke-width="5.4" stroke-linecap="butt"/>
<line x1="1663.8" y1="1053.2" x2="1663.8" y2="1073.0" stroke="#000" stroke-width="5.4" stroke-linecap="butt"/>
<line x1="1137.5" y1="1053.2" x2="1137.5" y2="1062.0" stroke="#000" stroke-width="8.0" stroke-linecap="butt"/>
<line x1="1146.8" y1="1053.2" x2="1146.8" y2="1062.0" stroke="#000" stroke-width="2.9" stroke-linecap="butt"/>
<line x1="1155.2" y1="1053.2" x2="1155.2" y2="1062.0" stroke="#000" stroke-width="4.0" stroke-linecap="butt"/>
<line x1="1162.2" y1="1053.2" x2="1162.2" y2="1062.0" stroke="#000" stroke-width="3.2" stroke-linecap="butt"/>
<line x1="1168.1" y1="1053.2" x2="1168.1" y2="1062.0" stroke="#000" stroke-width="2.9" stroke-linecap="butt"/>
<line x1="1201.4" y1="1053.2" x2="1201.4" y2="1062.0" stroke="#000" stroke-width="4.0" stroke-linecap="butt"/>
<line x1="1209.2" y1="1053.2" x2="1209.2" y2="1062.0" stroke="#000" stroke-width="2.5" stroke-linecap="butt"/>
<line x1="1215.3" y1="1053.2" x2="1215.3" y2="1062.0" stroke="#000" stroke-width="2.5" stroke-linecap="butt"/>
<line x1="1223.1" y1="1053.2" x2="1223.1" y2="1062.0" stroke="#000" stroke-width="4.0" stroke-linecap="butt"/>
<line x1="1231.2" y1="1053.2" x2="1231.2" y2="1062.0" stroke="#000" stroke-width="2.6" stroke-linecap="butt"/>
<line x1="1271.6" y1="1053.2" x2="1271.6" y2="1062.2" stroke="#0a0a0a" stroke-width="3.0" stroke-linecap="butt"/>
<line x1="1298.1" y1="1053.2" x2="1298.1" y2="1062.2" stroke="#0a0a0a" stroke-width="3.0" stroke-linecap="butt"/>
<line x1="1319.0" y1="1053.2" x2="1319.0" y2="1062.2" stroke="#0a0a0a" stroke-width="3.0" stroke-linecap="butt"/>
<line x1="1333.8" y1="1053.2" x2="1333.8" y2="1062.2" stroke="#0a0a0a" stroke-width="3.0" stroke-linecap="butt"/>
<line x1="1346.0" y1="1053.2" x2="1346.0" y2="1062.2" stroke="#0a0a0a" stroke-width="3.0" stroke-linecap="butt"/>
<line x1="1357.5" y1="1053.2" x2="1357.5" y2="1062.2" stroke="#0a0a0a" stroke-width="3.0" stroke-linecap="butt"/>
<line x1="1366.5" y1="1053.2" x2="1366.5" y2="1062.2" stroke="#0a0a0a" stroke-width="3.0" stroke-linecap="butt"/>
<line x1="1373.0" y1="1053.2" x2="1373.0" y2="1062.2" stroke="#0a0a0a" stroke-width="3.0" stroke-linecap="butt"/>
<line x1="1425.6" y1="1053.2" x2="1425.6" y2="1062.2" stroke="#0a0a0a" stroke-width="3.0" stroke-linecap="butt"/>
<line x1="1449.0" y1="1053.2" x2="1449.0" y2="1062.2" stroke="#0a0a0a" stroke-width="3.0" stroke-linecap="butt"/>
<line x1="1467.5" y1="1053.2" x2="1467.5" y2="1062.2" stroke="#0a0a0a" stroke-width="3.0" stroke-linecap="butt"/>
<line x1="1481.8" y1="1053.2" x2="1481.8" y2="1062.2" stroke="#0a0a0a" stroke-width="3.0" stroke-linecap="butt"/>
<line x1="1494.0" y1="1053.2" x2="1494.0" y2="1062.2" stroke="#0a0a0a" stroke-width="3.0" stroke-linecap="butt"/>
<line x1="1503.3" y1="1053.2" x2="1503.3" y2="1062.2" stroke="#0a0a0a" stroke-width="3.0" stroke-linecap="butt"/>
<line x1="1511.5" y1="1053.2" x2="1511.5" y2="1062.2" stroke="#0a0a0a" stroke-width="3.0" stroke-linecap="butt"/>
<line x1="1517.6" y1="1053.2" x2="1517.6" y2="1062.2" stroke="#0a0a0a" stroke-width="3.0" stroke-linecap="butt"/>
<line x1="1566.9" y1="1053.2" x2="1566.9" y2="1062.2" stroke="#0a0a0a" stroke-width="3.0" stroke-linecap="butt"/>
<line x1="1591.3" y1="1053.2" x2="1591.3" y2="1062.2" stroke="#0a0a0a" stroke-width="3.0" stroke-linecap="butt"/>
<line x1="1608.6" y1="1053.2" x2="1608.6" y2="1062.2" stroke="#0a0a0a" stroke-width="3.0" stroke-linecap="butt"/>
<line x1="1622.1" y1="1053.2" x2="1622.1" y2="1062.2" stroke="#0a0a0a" stroke-width="3.0" stroke-linecap="butt"/>
<line x1="1633.1" y1="1053.2" x2="1633.1" y2="1062.2" stroke="#0a0a0a" stroke-width="3.0" stroke-linecap="butt"/>
<line x1="1642.3" y1="1053.2" x2="1642.3" y2="1062.2" stroke="#0a0a0a" stroke-width="3.0" stroke-linecap="butt"/>
<line x1="1650.4" y1="1053.2" x2="1650.4" y2="1062.2" stroke="#0a0a0a" stroke-width="3.0" stroke-linecap="butt"/>
<line x1="1657.5" y1="1053.2" x2="1657.5" y2="1062.2" stroke="#0a0a0a" stroke-width="3.0" stroke-linecap="butt"/>
<line x1="1705.5" y1="1053.2" x2="1705.5" y2="1062.2" stroke="#0a0a0a" stroke-width="3.0" stroke-linecap="butt"/>
<line x1="1729.9" y1="1053.2" x2="1729.9" y2="1062.2" stroke="#0a0a0a" stroke-width="3.0" stroke-linecap="butt"/>
<rect x="1173.2" y="1053.2" width="22.1" height="8.8" fill="#000"/>
<rect x="1175.7" y="1053.2" width="17.1" height="19.8" fill="#000"/>
<text x="1185.3" y="1098.6" font-size="21.5" text-anchor="middle" >0</text>
<text x="1363.3" y="1099.0" font-size="21.5">10<tspan font-size="13" dy="-5.8">4</tspan></text>
<text x="1510.9" y="1099.0" font-size="21.5">10<tspan font-size="13" dy="-5.8">5</tspan></text>
<text x="1647.2" y="1099.0" font-size="21.5">10<tspan font-size="13" dy="-5.8">6</tspan></text>
<text x="1455.2" y="1130.8" font-size="24.2" text-anchor="middle" >B13-A</text>
<text x="1439.0" y="488.2" font-size="23.5" text-anchor="middle" >P1</text>
<text transform="translate(1038.2,774.2) rotate(-90)" font-size="24" text-anchor="middle">Count</text>
<rect x="1111.3" y="499.2" width="20.9" height="16.9" fill="#ffff7e" stroke="#000" stroke-width="2.5"/>
<rect x="1111.5" y="1044.2" width="20.9" height="16.9" fill="#ffff7e" stroke="#000" stroke-width="2.5"/>
<rect x="1743.0" y="499.4" width="20.9" height="16.9" fill="#ffff7e" stroke="#000" stroke-width="2.5"/>
<rect x="1743.8" y="1044.8" width="20.9" height="16.9" fill="#ffff7e" stroke="#000" stroke-width="2.5"/>
</svg>
</body></html>
